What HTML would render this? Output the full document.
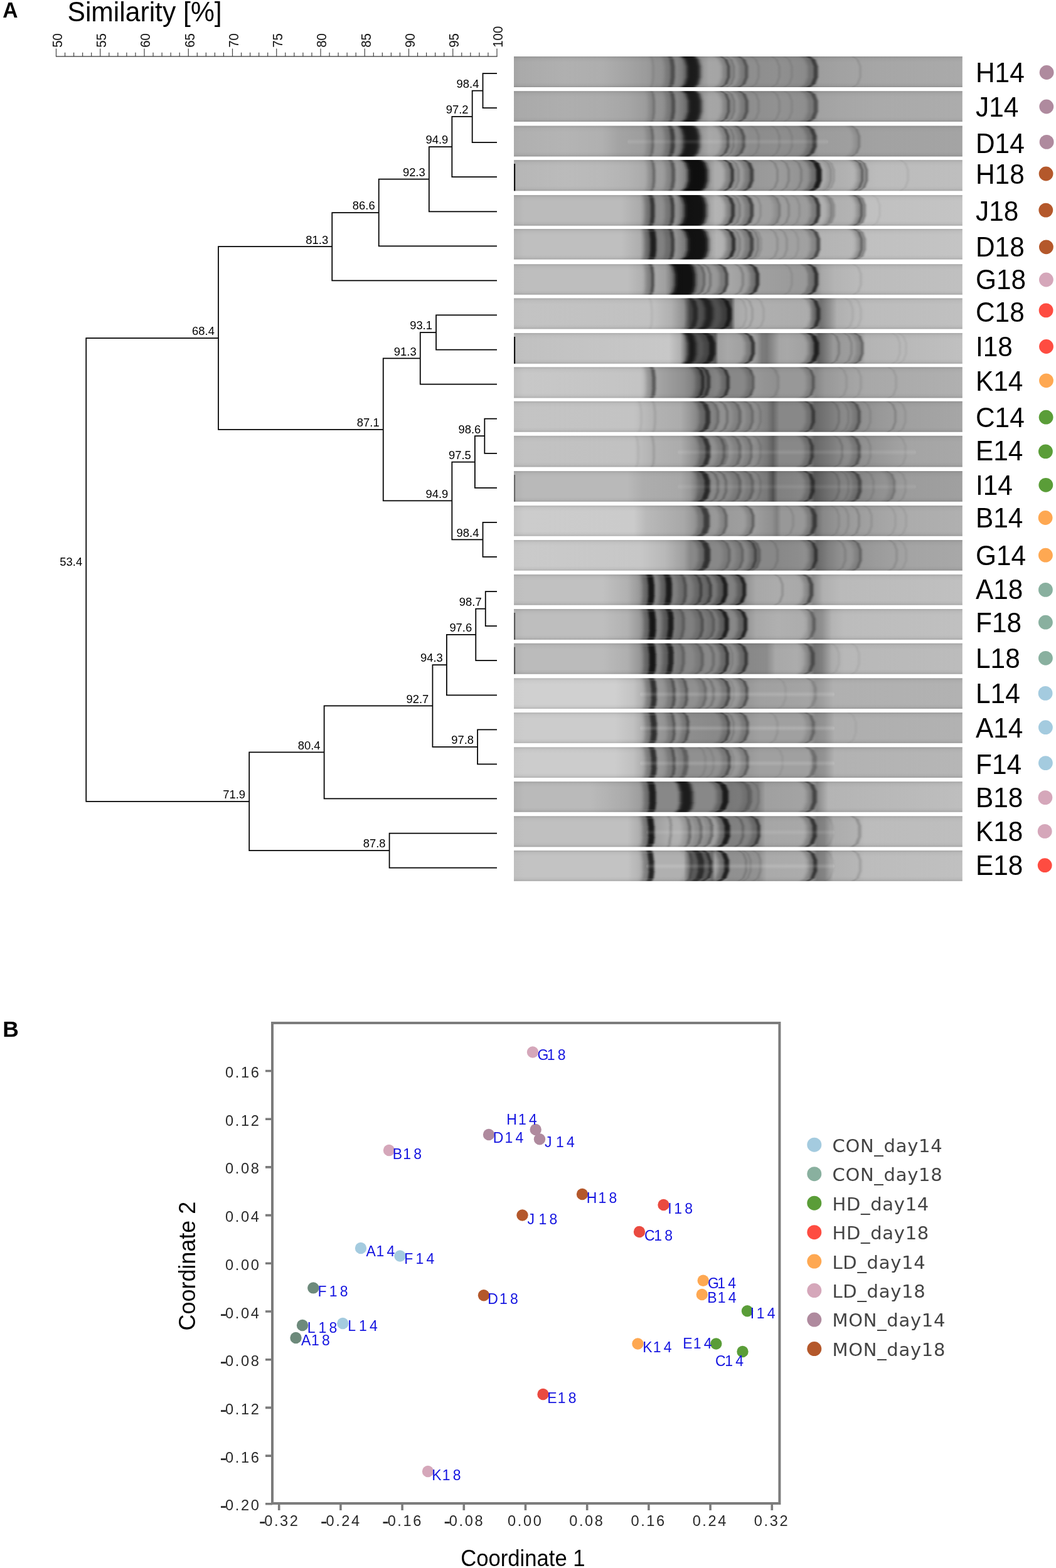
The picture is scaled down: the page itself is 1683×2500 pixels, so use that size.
<!DOCTYPE html>
<html lang="en">
<head>
<meta charset="utf-8">
<title>Figure: DGGE similarity dendrogram and MDS plot</title>
<style>
html,body{margin:0;padding:0;background:#fff;}
body{width:1683px;height:2500px;overflow:hidden;}
svg{display:block;font-family:"Liberation Sans",sans-serif;}
text{white-space:pre;}
</style>
</head>
<body>
<svg width="1683" height="2500" viewBox="0 0 1683 2500">
<rect width="1683" height="2500" fill="#fff"/>
<!-- Panel A -->
<text transform="translate(4.20 28.00) scale(1 1.042)" font-size="34" font-weight="bold" textLength="24.3" lengthAdjust="spacingAndGlyphs">A</text>
<text transform="translate(107.50 34.30) scale(1 1.042)" font-size="42.6">Similarity [%]</text>
<g id="axis">
<path d="M88.90 89.9H792.60" stroke="#555" stroke-width="1.5" fill="none"/>
<path d="M89.50 77.5V90M103.55 83.8V90M117.60 83.8V90M131.65 83.8V90M145.70 83.8V90M159.75 77.5V90M173.80 83.8V90M187.85 83.8V90M201.90 83.8V90M215.95 83.8V90M230.00 77.5V90M244.05 83.8V90M258.10 83.8V90M272.15 83.8V90M286.20 83.8V90M300.25 77.5V90M314.30 83.8V90M328.35 83.8V90M342.40 83.8V90M356.45 83.8V90M370.50 77.5V90M384.55 83.8V90M398.60 83.8V90M412.65 83.8V90M426.70 83.8V90M440.75 77.5V90M454.80 83.8V90M468.85 83.8V90M482.90 83.8V90M496.95 83.8V90M511.00 77.5V90M525.05 83.8V90M539.10 83.8V90M553.15 83.8V90M567.20 83.8V90M581.25 77.5V90M595.30 83.8V90M609.35 83.8V90M623.40 83.8V90M637.45 83.8V90M651.50 77.5V90M665.55 83.8V90M679.60 83.8V90M693.65 83.8V90M707.70 83.8V90M721.75 77.5V90M735.80 83.8V90M749.85 83.8V90M763.90 83.8V90M777.95 83.8V90M792.00 77.5V90" stroke="#444" stroke-width="1.2" fill="none"/>
<text transform="translate(98.80 75.80) rotate(-90) scale(1 1.042)" font-size="20.4" fill="#111">50</text>
<text transform="translate(169.05 75.80) rotate(-90) scale(1 1.042)" font-size="20.4" fill="#111">55</text>
<text transform="translate(239.30 75.80) rotate(-90) scale(1 1.042)" font-size="20.4" fill="#111">60</text>
<text transform="translate(309.55 75.80) rotate(-90) scale(1 1.042)" font-size="20.4" fill="#111">65</text>
<text transform="translate(379.80 75.80) rotate(-90) scale(1 1.042)" font-size="20.4" fill="#111">70</text>
<text transform="translate(450.05 75.80) rotate(-90) scale(1 1.042)" font-size="20.4" fill="#111">75</text>
<text transform="translate(520.30 75.80) rotate(-90) scale(1 1.042)" font-size="20.4" fill="#111">80</text>
<text transform="translate(590.55 75.80) rotate(-90) scale(1 1.042)" font-size="20.4" fill="#111">85</text>
<text transform="translate(660.80 75.80) rotate(-90) scale(1 1.042)" font-size="20.4" fill="#111">90</text>
<text transform="translate(731.05 75.80) rotate(-90) scale(1 1.042)" font-size="20.4" fill="#111">95</text>
<text transform="translate(801.30 75.80) rotate(-90) scale(1 1.042)" font-size="20.4" fill="#111">100</text>
</g>
<g id="dendrogram">
<path d="M792.00 117.00H769.52V172.07H792.00M769.52 144.53H752.66V227.14H792.00M752.66 185.84H720.35V282.21H792.00M720.35 234.02H683.81V337.28H792.00M683.81 285.65H603.73V392.35H792.00M603.73 339.00H529.26V447.42H792.00M792.00 502.49H695.05V557.56H792.00M695.05 530.02H669.76V612.63H792.00M792.00 667.70H772.33V722.77H792.00M772.33 695.24H756.88V777.84H792.00M792.00 832.91H769.52V887.98H792.00M756.88 736.54H720.35V860.44H769.52M669.76 571.33H610.75V798.49H720.35M529.26 393.21H348.02V684.91H610.75M792.00 943.05H773.74V998.12H792.00M773.74 970.59H758.28V1053.19H792.00M758.28 1011.89H711.91V1108.26H792.00M792.00 1163.33H761.09V1218.40H792.00M711.91 1060.07H689.44V1190.87H761.09M689.44 1125.47H516.62V1273.47H792.00M792.00 1328.54H620.59V1383.61H792.00M516.62 1199.47H397.20V1356.07H620.59M348.02 539.06H137.27V1277.77H397.20" stroke="#000" stroke-width="1.75" fill="none" stroke-linejoin="miter"/>
<text transform="translate(763.42 139.94) scale(1 1.042)" font-size="18.4" text-anchor="end">98.4</text>
<text transform="translate(746.56 181.24) scale(1 1.042)" font-size="18.4" text-anchor="end">97.2</text>
<text transform="translate(714.25 229.42) scale(1 1.042)" font-size="18.4" text-anchor="end">94.9</text>
<text transform="translate(677.71 281.05) scale(1 1.042)" font-size="18.4" text-anchor="end">92.3</text>
<text transform="translate(597.63 334.40) scale(1 1.042)" font-size="18.4" text-anchor="end">86.6</text>
<text transform="translate(523.16 388.61) scale(1 1.042)" font-size="18.4" text-anchor="end">81.3</text>
<text transform="translate(688.95 525.42) scale(1 1.042)" font-size="18.4" text-anchor="end">93.1</text>
<text transform="translate(663.66 566.73) scale(1 1.042)" font-size="18.4" text-anchor="end">91.3</text>
<text transform="translate(766.23 690.63) scale(1 1.042)" font-size="18.4" text-anchor="end">98.6</text>
<text transform="translate(750.77 731.94) scale(1 1.042)" font-size="18.4" text-anchor="end">97.5</text>
<text transform="translate(763.42 855.84) scale(1 1.042)" font-size="18.4" text-anchor="end">98.4</text>
<text transform="translate(714.25 793.89) scale(1 1.042)" font-size="18.4" text-anchor="end">94.9</text>
<text transform="translate(604.65 680.31) scale(1 1.042)" font-size="18.4" text-anchor="end">87.1</text>
<text transform="translate(341.92 534.46) scale(1 1.042)" font-size="18.4" text-anchor="end">68.4</text>
<text transform="translate(767.64 965.99) scale(1 1.042)" font-size="18.4" text-anchor="end">98.7</text>
<text transform="translate(752.18 1007.29) scale(1 1.042)" font-size="18.4" text-anchor="end">97.6</text>
<text transform="translate(705.81 1055.47) scale(1 1.042)" font-size="18.4" text-anchor="end">94.3</text>
<text transform="translate(754.99 1186.27) scale(1 1.042)" font-size="18.4" text-anchor="end">97.8</text>
<text transform="translate(683.34 1120.87) scale(1 1.042)" font-size="18.4" text-anchor="end">92.7</text>
<text transform="translate(510.52 1194.87) scale(1 1.042)" font-size="18.4" text-anchor="end">80.4</text>
<text transform="translate(614.49 1351.47) scale(1 1.042)" font-size="18.4" text-anchor="end">87.8</text>
<text transform="translate(391.10 1273.17) scale(1 1.042)" font-size="18.4" text-anchor="end">71.9</text>
<text transform="translate(131.17 902.42) scale(1 1.042)" font-size="18.4" text-anchor="end">53.4</text>
</g>
<g id="gel">
<defs>
<linearGradient id="hs" x1="0" y1="0" x2="0" y2="1"><stop offset="0" stop-color="#fff" stop-opacity="0"/><stop offset=".5" stop-color="#fff" stop-opacity="1"/><stop offset="1" stop-color="#fff" stop-opacity="0"/></linearGradient>
<linearGradient id="vs" x1="0" y1="0" x2="0" y2="1"><stop offset="0" stop-color="#000" stop-opacity=".12"/><stop offset=".08" stop-color="#000" stop-opacity=".03"/><stop offset=".2" stop-color="#000" stop-opacity="0"/><stop offset=".85" stop-color="#000" stop-opacity="0"/><stop offset=".94" stop-color="#000" stop-opacity=".04"/><stop offset="1" stop-color="#000" stop-opacity=".14"/></linearGradient>
<linearGradient id="g0" gradientUnits="userSpaceOnUse" x1="819.0" y1="0" x2="1533.8" y2="0"><stop offset="0.0000" stop-color="#a4a4a4"/><stop offset="0.0154" stop-color="#aaaaaa"/><stop offset="0.1133" stop-color="#b0b0b0"/><stop offset="0.1973" stop-color="#aeaeae"/><stop offset="0.2532" stop-color="#a4a4a4"/><stop offset="0.2952" stop-color="#9b9b9b"/><stop offset="0.3162" stop-color="#929292"/><stop offset="0.3442" stop-color="#8e8e8e"/><stop offset="0.3651" stop-color="#868686"/><stop offset="0.3791" stop-color="#767676"/><stop offset="0.4183" stop-color="#969696"/><stop offset="0.4351" stop-color="#a6a6a6"/><stop offset="0.4631" stop-color="#a4a4a4"/><stop offset="0.4841" stop-color="#969696"/><stop offset="0.5260" stop-color="#8e8e8e"/><stop offset="0.5890" stop-color="#909090"/><stop offset="0.6589" stop-color="#8a8a8a"/><stop offset="0.6799" stop-color="#9e9e9e"/><stop offset="0.7289" stop-color="#a2a2a2"/><stop offset="0.8128" stop-color="#a6a6a6"/><stop offset="0.9989" stop-color="#aaaaaa"/></linearGradient>
<rect id="r0_0" x="-.5" y="90" width="1" height="5"/>
<rect id="r0_1" x="-.5" y="95" width="1" height="11"/>
<rect id="r0_2" x="-.5" y="106" width="1" height="17"/>
<rect id="r0_3" x="-.5" y="123" width="1" height="11"/>
<rect id="r0_4" x="-.5" y="134" width="1" height="5"/>
<linearGradient id="g1" gradientUnits="userSpaceOnUse" x1="819.0" y1="0" x2="1533.8" y2="0"><stop offset="0.0000" stop-color="#a6a6a6"/><stop offset="0.0154" stop-color="#aaaaaa"/><stop offset="0.1133" stop-color="#aeaeae"/><stop offset="0.1973" stop-color="#acacac"/><stop offset="0.2532" stop-color="#a6a6a6"/><stop offset="0.2952" stop-color="#9c9c9c"/><stop offset="0.3162" stop-color="#949494"/><stop offset="0.3442" stop-color="#8e8e8e"/><stop offset="0.3651" stop-color="#868686"/><stop offset="0.3791" stop-color="#767676"/><stop offset="0.4183" stop-color="#969696"/><stop offset="0.4351" stop-color="#a6a6a6"/><stop offset="0.4631" stop-color="#a4a4a4"/><stop offset="0.4841" stop-color="#969696"/><stop offset="0.5260" stop-color="#8e8e8e"/><stop offset="0.5890" stop-color="#929292"/><stop offset="0.6589" stop-color="#8e8e8e"/><stop offset="0.6799" stop-color="#a2a2a2"/><stop offset="0.7289" stop-color="#a6a6a6"/><stop offset="0.8128" stop-color="#aaaaaa"/><stop offset="0.9989" stop-color="#acacac"/></linearGradient>
<rect id="r1_0" x="-.5" y="145.2" width="1" height="4.8"/>
<rect id="r1_1" x="-.5" y="150" width="1" height="11"/>
<rect id="r1_2" x="-.5" y="161" width="1" height="17"/>
<rect id="r1_3" x="-.5" y="178" width="1" height="11"/>
<rect id="r1_4" x="-.5" y="189" width="1" height="5"/>
<linearGradient id="g2" gradientUnits="userSpaceOnUse" x1="819.0" y1="0" x2="1533.8" y2="0"><stop offset="0.0000" stop-color="#acacac"/><stop offset="0.0154" stop-color="#b0b0b0"/><stop offset="0.1133" stop-color="#b4b4b4"/><stop offset="0.1973" stop-color="#b0b0b0"/><stop offset="0.2322" stop-color="#a4a4a4"/><stop offset="0.2952" stop-color="#9c9c9c"/><stop offset="0.3162" stop-color="#949494"/><stop offset="0.3442" stop-color="#8c8c8c"/><stop offset="0.3651" stop-color="#808080"/><stop offset="0.3791" stop-color="#707070"/><stop offset="0.4183" stop-color="#989898"/><stop offset="0.4351" stop-color="#a8a8a8"/><stop offset="0.4631" stop-color="#a4a4a4"/><stop offset="0.4841" stop-color="#989898"/><stop offset="0.5260" stop-color="#8c8c8c"/><stop offset="0.5890" stop-color="#8e8e8e"/><stop offset="0.6589" stop-color="#8a8a8a"/><stop offset="0.6799" stop-color="#9c9c9c"/><stop offset="0.7289" stop-color="#9e9e9e"/><stop offset="0.8128" stop-color="#a2a2a2"/><stop offset="0.9989" stop-color="#a4a4a4"/></linearGradient>
<rect id="r2_0" x="-.5" y="200.6" width="1" height="5.4"/>
<rect id="r2_1" x="-.5" y="206" width="1" height="11"/>
<rect id="r2_2" x="-.5" y="217" width="1" height="17"/>
<rect id="r2_3" x="-.5" y="234" width="1" height="10"/>
<rect id="r2_4" x="-.5" y="244" width="1" height="5.5"/>
<linearGradient id="g3" gradientUnits="userSpaceOnUse" x1="819.0" y1="0" x2="1533.8" y2="0"><stop offset="0.0000" stop-color="#b3b3b3"/><stop offset="0.0154" stop-color="#b7b7b7"/><stop offset="0.1133" stop-color="#bbbbbb"/><stop offset="0.1973" stop-color="#b9b9b9"/><stop offset="0.2532" stop-color="#b3b3b3"/><stop offset="0.2952" stop-color="#aaaaaa"/><stop offset="0.3162" stop-color="#9f9f9f"/><stop offset="0.3442" stop-color="#9c9c9c"/><stop offset="0.3651" stop-color="#989898"/><stop offset="0.3791" stop-color="#888888"/><stop offset="0.4351" stop-color="#989898"/><stop offset="0.4491" stop-color="#acacac"/><stop offset="0.4771" stop-color="#acacac"/><stop offset="0.4910" stop-color="#a0a0a0"/><stop offset="0.5260" stop-color="#989898"/><stop offset="0.5890" stop-color="#9c9c9c"/><stop offset="0.6589" stop-color="#909090"/><stop offset="0.6869" stop-color="#acacac"/><stop offset="0.7289" stop-color="#b0b0b0"/><stop offset="0.8128" stop-color="#bcbcbc"/><stop offset="0.9989" stop-color="#bebebe"/></linearGradient>
<rect id="r3_0" x="-.5" y="255.1" width="1" height="4.9"/>
<rect id="r3_1" x="-.5" y="260" width="1" height="11"/>
<rect id="r3_2" x="-.5" y="271" width="1" height="17"/>
<rect id="r3_3" x="-.5" y="288" width="1" height="11"/>
<rect id="r3_4" x="-.5" y="299" width="1" height="5.3"/>
<linearGradient id="g4" gradientUnits="userSpaceOnUse" x1="819.0" y1="0" x2="1533.8" y2="0"><stop offset="0.0000" stop-color="#b3b3b3"/><stop offset="0.0224" stop-color="#bbbbbb"/><stop offset="0.2392" stop-color="#bbbbbb"/><stop offset="0.2812" stop-color="#ababab"/><stop offset="0.2980" stop-color="#939393"/><stop offset="0.3162" stop-color="#8f8f8f"/><stop offset="0.3400" stop-color="#909090"/><stop offset="0.3581" stop-color="#989898"/><stop offset="0.3721" stop-color="#808080"/><stop offset="0.4323" stop-color="#a0a0a0"/><stop offset="0.4491" stop-color="#b4b4b4"/><stop offset="0.4743" stop-color="#b0b0b0"/><stop offset="0.4938" stop-color="#a0a0a0"/><stop offset="0.5190" stop-color="#9c9c9c"/><stop offset="0.5330" stop-color="#a0a0a0"/><stop offset="0.6589" stop-color="#9c9c9c"/><stop offset="0.6841" stop-color="#b0b0b0"/><stop offset="0.7149" stop-color="#b0b0b0"/><stop offset="0.7639" stop-color="#b4b4b4"/><stop offset="0.7848" stop-color="#c0c0c0"/><stop offset="0.9989" stop-color="#c4c4c4"/></linearGradient>
<rect id="r4_0" x="-.5" y="311" width="1" height="5"/>
<rect id="r4_1" x="-.5" y="316" width="1" height="11"/>
<rect id="r4_2" x="-.5" y="327" width="1" height="17"/>
<rect id="r4_3" x="-.5" y="344" width="1" height="11"/>
<rect id="r4_4" x="-.5" y="355" width="1" height="4.8"/>
<linearGradient id="g5" gradientUnits="userSpaceOnUse" x1="819.0" y1="0" x2="1533.8" y2="0"><stop offset="0.0000" stop-color="#b7b7b7"/><stop offset="0.0224" stop-color="#bfbfbf"/><stop offset="0.2392" stop-color="#bfbfbf"/><stop offset="0.2812" stop-color="#aeaeae"/><stop offset="0.2980" stop-color="#8c8c8c"/><stop offset="0.3162" stop-color="#7f7f7f"/><stop offset="0.3400" stop-color="#848484"/><stop offset="0.3581" stop-color="#989898"/><stop offset="0.3763" stop-color="#808080"/><stop offset="0.4351" stop-color="#a0a0a0"/><stop offset="0.4519" stop-color="#b4b4b4"/><stop offset="0.4743" stop-color="#b0b0b0"/><stop offset="0.4938" stop-color="#a0a0a0"/><stop offset="0.5190" stop-color="#9c9c9c"/><stop offset="0.5330" stop-color="#a4a4a4"/><stop offset="0.6589" stop-color="#a0a0a0"/><stop offset="0.6841" stop-color="#b4b4b4"/><stop offset="0.7639" stop-color="#b8b8b8"/><stop offset="0.7848" stop-color="#c0c0c0"/><stop offset="0.9989" stop-color="#c4c4c4"/></linearGradient>
<rect id="r5_0" x="-.5" y="365" width="1" height="5"/>
<rect id="r5_1" x="-.5" y="370" width="1" height="11"/>
<rect id="r5_2" x="-.5" y="381" width="1" height="17"/>
<rect id="r5_3" x="-.5" y="398" width="1" height="11"/>
<rect id="r5_4" x="-.5" y="409" width="1" height="4.6"/>
<linearGradient id="g6" gradientUnits="userSpaceOnUse" x1="819.0" y1="0" x2="1533.8" y2="0"><stop offset="0.0000" stop-color="#bababa"/><stop offset="0.0224" stop-color="#bebebe"/><stop offset="0.2532" stop-color="#bebebe"/><stop offset="0.2882" stop-color="#afafaf"/><stop offset="0.3008" stop-color="#9f9f9f"/><stop offset="0.3162" stop-color="#a8a8a8"/><stop offset="0.3372" stop-color="#a0a0a0"/><stop offset="0.3511" stop-color="#808080"/><stop offset="0.4071" stop-color="#909090"/><stop offset="0.4281" stop-color="#989898"/><stop offset="0.4631" stop-color="#989898"/><stop offset="0.4771" stop-color="#a8a8a8"/><stop offset="0.5050" stop-color="#a0a0a0"/><stop offset="0.5330" stop-color="#989898"/><stop offset="0.5470" stop-color="#a0a0a0"/><stop offset="0.6589" stop-color="#989898"/><stop offset="0.6729" stop-color="#909090"/><stop offset="0.6869" stop-color="#a8a8a8"/><stop offset="0.7149" stop-color="#b4b4b4"/><stop offset="0.7848" stop-color="#bcbcbc"/><stop offset="0.9989" stop-color="#c0c0c0"/></linearGradient>
<rect id="r6_0" x="-.5" y="421.2" width="1" height="4.8"/>
<rect id="r6_1" x="-.5" y="426" width="1" height="11"/>
<rect id="r6_2" x="-.5" y="437" width="1" height="17"/>
<rect id="r6_3" x="-.5" y="454" width="1" height="11"/>
<rect id="r6_4" x="-.5" y="465" width="1" height="4.8"/>
<linearGradient id="g7" gradientUnits="userSpaceOnUse" x1="819.0" y1="0" x2="1533.8" y2="0"><stop offset="0.0000" stop-color="#bfbfbf"/><stop offset="0.0224" stop-color="#c3c3c3"/><stop offset="0.3092" stop-color="#c1c1c1"/><stop offset="0.3511" stop-color="#b0b0b0"/><stop offset="0.3791" stop-color="#909090"/><stop offset="0.3931" stop-color="#505050"/><stop offset="0.4841" stop-color="#505050"/><stop offset="0.4938" stop-color="#a8a8a8"/><stop offset="0.5190" stop-color="#b0b0b0"/><stop offset="0.6589" stop-color="#acacac"/><stop offset="0.6729" stop-color="#808080"/><stop offset="0.6841" stop-color="#707070"/><stop offset="0.7037" stop-color="#909090"/><stop offset="0.7205" stop-color="#b0b0b0"/><stop offset="0.7848" stop-color="#bcbcbc"/><stop offset="0.9989" stop-color="#c0c0c0"/></linearGradient>
<rect id="r7_0" x="-.5" y="475.5" width="1" height="4.5"/>
<rect id="r7_1" x="-.5" y="480" width="1" height="12"/>
<rect id="r7_2" x="-.5" y="492" width="1" height="16"/>
<rect id="r7_3" x="-.5" y="508" width="1" height="12"/>
<rect id="r7_4" x="-.5" y="520" width="1" height="4.5"/>
<linearGradient id="g8" gradientUnits="userSpaceOnUse" x1="819.0" y1="0" x2="1533.8" y2="0"><stop offset="0.0000" stop-color="#bdbdbd"/><stop offset="0.0224" stop-color="#c1c1c1"/><stop offset="0.3456" stop-color="#c8c8c8"/><stop offset="0.3707" stop-color="#b0b0b0"/><stop offset="0.3847" stop-color="#707070"/><stop offset="0.3959" stop-color="#505050"/><stop offset="0.4211" stop-color="#585858"/><stop offset="0.4491" stop-color="#606060"/><stop offset="0.4561" stop-color="#a0a0a0"/><stop offset="0.4771" stop-color="#a8a8a8"/><stop offset="0.5120" stop-color="#a0a0a0"/><stop offset="0.5330" stop-color="#a4a4a4"/><stop offset="0.5414" stop-color="#989898"/><stop offset="0.5526" stop-color="#7c7c7c"/><stop offset="0.5638" stop-color="#787878"/><stop offset="0.5764" stop-color="#8c8c8c"/><stop offset="0.5918" stop-color="#a6a6a6"/><stop offset="0.6100" stop-color="#a8a8a8"/><stop offset="0.6589" stop-color="#a0a0a0"/><stop offset="0.6799" stop-color="#606060"/><stop offset="0.6939" stop-color="#787878"/><stop offset="0.7121" stop-color="#989898"/><stop offset="0.7708" stop-color="#a0a0a0"/><stop offset="0.7848" stop-color="#b4b4b4"/><stop offset="0.9989" stop-color="#c0c0c0"/></linearGradient>
<rect id="r8_0" x="-.5" y="531" width="1" height="5"/>
<rect id="r8_1" x="-.5" y="536" width="1" height="11"/>
<rect id="r8_2" x="-.5" y="547" width="1" height="17"/>
<rect id="r8_3" x="-.5" y="564" width="1" height="11"/>
<rect id="r8_4" x="-.5" y="575" width="1" height="4.8"/>
<linearGradient id="g9" gradientUnits="userSpaceOnUse" x1="819.0" y1="0" x2="1533.8" y2="0"><stop offset="0.0000" stop-color="#c0c0c0"/><stop offset="0.0224" stop-color="#c8c8c8"/><stop offset="0.2812" stop-color="#c4c4c4"/><stop offset="0.2980" stop-color="#b5b5b5"/><stop offset="0.3232" stop-color="#a4a4a4"/><stop offset="0.3791" stop-color="#909090"/><stop offset="0.4099" stop-color="#787878"/><stop offset="0.4421" stop-color="#808080"/><stop offset="0.4631" stop-color="#888888"/><stop offset="0.4841" stop-color="#888888"/><stop offset="0.5260" stop-color="#888888"/><stop offset="0.5330" stop-color="#989898"/><stop offset="0.5820" stop-color="#909090"/><stop offset="0.5960" stop-color="#989898"/><stop offset="0.6589" stop-color="#989898"/><stop offset="0.6729" stop-color="#888888"/><stop offset="0.6939" stop-color="#989898"/><stop offset="0.7289" stop-color="#a0a0a0"/><stop offset="0.7848" stop-color="#a8a8a8"/><stop offset="0.9989" stop-color="#b0b0b0"/></linearGradient>
<rect id="r9_0" x="-.5" y="585.3" width="1" height="4.7"/>
<rect id="r9_1" x="-.5" y="590" width="1" height="11"/>
<rect id="r9_2" x="-.5" y="601" width="1" height="17"/>
<rect id="r9_3" x="-.5" y="618" width="1" height="12"/>
<rect id="r9_4" x="-.5" y="630" width="1" height="4.5"/>
<linearGradient id="g10" gradientUnits="userSpaceOnUse" x1="819.0" y1="0" x2="1533.8" y2="0"><stop offset="0.0000" stop-color="#c0c0c0"/><stop offset="0.0224" stop-color="#c4c4c4"/><stop offset="0.2672" stop-color="#c3c3c3"/><stop offset="0.3092" stop-color="#b3b3b3"/><stop offset="0.3721" stop-color="#acacac"/><stop offset="0.3931" stop-color="#989898"/><stop offset="0.4141" stop-color="#808080"/><stop offset="0.4421" stop-color="#909090"/><stop offset="0.5330" stop-color="#909090"/><stop offset="0.5638" stop-color="#808080"/><stop offset="0.5778" stop-color="#686868"/><stop offset="0.5918" stop-color="#888888"/><stop offset="0.6589" stop-color="#888888"/><stop offset="0.6701" stop-color="#686868"/><stop offset="0.7009" stop-color="#787878"/><stop offset="0.7289" stop-color="#888888"/><stop offset="0.7778" stop-color="#909090"/><stop offset="0.8128" stop-color="#989898"/><stop offset="0.8758" stop-color="#a0a0a0"/><stop offset="0.9989" stop-color="#a6a6a6"/></linearGradient>
<rect id="r10_0" x="-.5" y="639.8" width="1" height="5.2"/>
<rect id="r10_1" x="-.5" y="645" width="1" height="11"/>
<rect id="r10_2" x="-.5" y="656" width="1" height="17"/>
<rect id="r10_3" x="-.5" y="673" width="1" height="11"/>
<rect id="r10_4" x="-.5" y="684" width="1" height="4.7"/>
<linearGradient id="g11" gradientUnits="userSpaceOnUse" x1="819.0" y1="0" x2="1533.8" y2="0"><stop offset="0.0000" stop-color="#bebebe"/><stop offset="0.0224" stop-color="#c2c2c2"/><stop offset="0.2672" stop-color="#c1c1c1"/><stop offset="0.3092" stop-color="#b2b2b2"/><stop offset="0.3721" stop-color="#acacac"/><stop offset="0.3931" stop-color="#989898"/><stop offset="0.4141" stop-color="#808080"/><stop offset="0.4421" stop-color="#909090"/><stop offset="0.5330" stop-color="#909090"/><stop offset="0.5638" stop-color="#787878"/><stop offset="0.5778" stop-color="#606060"/><stop offset="0.5918" stop-color="#888888"/><stop offset="0.6561" stop-color="#888888"/><stop offset="0.6701" stop-color="#686868"/><stop offset="0.7009" stop-color="#787878"/><stop offset="0.7289" stop-color="#888888"/><stop offset="0.7778" stop-color="#909090"/><stop offset="0.8128" stop-color="#989898"/><stop offset="0.8758" stop-color="#a4a4a4"/><stop offset="0.9989" stop-color="#a8a8a8"/></linearGradient>
<rect id="r11_0" x="-.5" y="694.8" width="1" height="5.2"/>
<rect id="r11_1" x="-.5" y="700" width="1" height="11"/>
<rect id="r11_2" x="-.5" y="711" width="1" height="17"/>
<rect id="r11_3" x="-.5" y="728" width="1" height="12"/>
<rect id="r11_4" x="-.5" y="740" width="1" height="4.5"/>
<linearGradient id="g12" gradientUnits="userSpaceOnUse" x1="819.0" y1="0" x2="1533.8" y2="0"><stop offset="0.0000" stop-color="#b1b1b1"/><stop offset="0.0224" stop-color="#b9b9b9"/><stop offset="0.2532" stop-color="#b9b9b9"/><stop offset="0.2882" stop-color="#adadad"/><stop offset="0.3721" stop-color="#a8a8a8"/><stop offset="0.3931" stop-color="#989898"/><stop offset="0.4099" stop-color="#787878"/><stop offset="0.4421" stop-color="#888888"/><stop offset="0.5330" stop-color="#888888"/><stop offset="0.5638" stop-color="#787878"/><stop offset="0.5778" stop-color="#505050"/><stop offset="0.5890" stop-color="#808080"/><stop offset="0.6561" stop-color="#888888"/><stop offset="0.6701" stop-color="#585858"/><stop offset="0.7009" stop-color="#707070"/><stop offset="0.7289" stop-color="#808080"/><stop offset="0.7778" stop-color="#888888"/><stop offset="0.8128" stop-color="#909090"/><stop offset="0.8758" stop-color="#9c9c9c"/><stop offset="0.9989" stop-color="#a0a0a0"/></linearGradient>
<rect id="r12_0" x="-.5" y="751.1" width="1" height="4.9"/>
<rect id="r12_1" x="-.5" y="756" width="1" height="11"/>
<rect id="r12_2" x="-.5" y="767" width="1" height="17"/>
<rect id="r12_3" x="-.5" y="784" width="1" height="11"/>
<rect id="r12_4" x="-.5" y="795" width="1" height="4.8"/>
<linearGradient id="g13" gradientUnits="userSpaceOnUse" x1="819.0" y1="0" x2="1533.8" y2="0"><stop offset="0.0000" stop-color="#c4c4c4"/><stop offset="0.0224" stop-color="#cccccc"/><stop offset="0.2672" stop-color="#cbcbcb"/><stop offset="0.2952" stop-color="#b9b9b9"/><stop offset="0.3791" stop-color="#a8a8a8"/><stop offset="0.4099" stop-color="#909090"/><stop offset="0.4421" stop-color="#989898"/><stop offset="0.5330" stop-color="#a0a0a0"/><stop offset="0.5750" stop-color="#909090"/><stop offset="0.5862" stop-color="#808080"/><stop offset="0.5960" stop-color="#989898"/><stop offset="0.6589" stop-color="#989898"/><stop offset="0.6729" stop-color="#707070"/><stop offset="0.6897" stop-color="#888888"/><stop offset="0.7289" stop-color="#989898"/><stop offset="0.8128" stop-color="#a4a4a4"/><stop offset="0.8828" stop-color="#acacac"/><stop offset="0.9989" stop-color="#b0b0b0"/></linearGradient>
<rect id="r13_0" x="-.5" y="806.1" width="1" height="4.9"/>
<rect id="r13_1" x="-.5" y="811" width="1" height="11"/>
<rect id="r13_2" x="-.5" y="822" width="1" height="17"/>
<rect id="r13_3" x="-.5" y="839" width="1" height="11"/>
<rect id="r13_4" x="-.5" y="850" width="1" height="4.7"/>
<linearGradient id="g14" gradientUnits="userSpaceOnUse" x1="819.0" y1="0" x2="1533.8" y2="0"><stop offset="0.0000" stop-color="#c6c6c6"/><stop offset="0.0224" stop-color="#cacaca"/><stop offset="0.2812" stop-color="#c7c7c7"/><stop offset="0.3372" stop-color="#b8b8b8"/><stop offset="0.3791" stop-color="#a0a0a0"/><stop offset="0.3931" stop-color="#888888"/><stop offset="0.4421" stop-color="#888888"/><stop offset="0.5330" stop-color="#888888"/><stop offset="0.5890" stop-color="#888888"/><stop offset="0.6589" stop-color="#909090"/><stop offset="0.6757" stop-color="#686868"/><stop offset="0.7009" stop-color="#808080"/><stop offset="0.7289" stop-color="#909090"/><stop offset="0.8128" stop-color="#9c9c9c"/><stop offset="0.8828" stop-color="#a4a4a4"/><stop offset="0.9989" stop-color="#a8a8a8"/></linearGradient>
<rect id="r14_0" x="-.5" y="861" width="1" height="5"/>
<rect id="r14_1" x="-.5" y="866" width="1" height="11"/>
<rect id="r14_2" x="-.5" y="877" width="1" height="17"/>
<rect id="r14_3" x="-.5" y="894" width="1" height="11"/>
<rect id="r14_4" x="-.5" y="905" width="1" height="4.7"/>
<linearGradient id="g15" gradientUnits="userSpaceOnUse" x1="819.0" y1="0" x2="1533.8" y2="0"><stop offset="0.0000" stop-color="#bdbdbd"/><stop offset="0.0224" stop-color="#c1c1c1"/><stop offset="0.1973" stop-color="#c1c1c1"/><stop offset="0.2532" stop-color="#b1b1b1"/><stop offset="0.2882" stop-color="#919191"/><stop offset="0.3162" stop-color="#888888"/><stop offset="0.3372" stop-color="#808080"/><stop offset="0.3581" stop-color="#808080"/><stop offset="0.4631" stop-color="#787878"/><stop offset="0.4771" stop-color="#808080"/><stop offset="0.5050" stop-color="#808080"/><stop offset="0.5218" stop-color="#989898"/><stop offset="0.5400" stop-color="#a8a8a8"/><stop offset="0.5890" stop-color="#acacac"/><stop offset="0.6519" stop-color="#a8a8a8"/><stop offset="0.6673" stop-color="#909090"/><stop offset="0.6897" stop-color="#b0b0b0"/><stop offset="0.7289" stop-color="#bababa"/><stop offset="0.9989" stop-color="#c0c0c0"/></linearGradient>
<rect id="r15_0" x="-.5" y="915.9" width="1" height="5.1"/>
<rect id="r15_1" x="-.5" y="921" width="1" height="11"/>
<rect id="r15_2" x="-.5" y="932" width="1" height="17"/>
<rect id="r15_3" x="-.5" y="949" width="1" height="11"/>
<rect id="r15_4" x="-.5" y="960" width="1" height="4.7"/>
<linearGradient id="g16" gradientUnits="userSpaceOnUse" x1="819.0" y1="0" x2="1533.8" y2="0"><stop offset="0.0000" stop-color="#b6b6b6"/><stop offset="0.0224" stop-color="#bebebe"/><stop offset="0.1973" stop-color="#bebebe"/><stop offset="0.2532" stop-color="#b2b2b2"/><stop offset="0.2924" stop-color="#8f8f8f"/><stop offset="0.3162" stop-color="#888888"/><stop offset="0.3372" stop-color="#787878"/><stop offset="0.3581" stop-color="#808080"/><stop offset="0.4631" stop-color="#808080"/><stop offset="0.4771" stop-color="#888888"/><stop offset="0.5050" stop-color="#888888"/><stop offset="0.5218" stop-color="#989898"/><stop offset="0.5400" stop-color="#a8a8a8"/><stop offset="0.5890" stop-color="#b0b0b0"/><stop offset="0.6533" stop-color="#acacac"/><stop offset="0.6701" stop-color="#888888"/><stop offset="0.6869" stop-color="#909090"/><stop offset="0.7093" stop-color="#b4b4b4"/><stop offset="0.7359" stop-color="#bcbcbc"/><stop offset="0.9989" stop-color="#c0c0c0"/></linearGradient>
<rect id="r16_0" x="-.5" y="971" width="1" height="5"/>
<rect id="r16_1" x="-.5" y="976" width="1" height="11"/>
<rect id="r16_2" x="-.5" y="987" width="1" height="17"/>
<rect id="r16_3" x="-.5" y="1004" width="1" height="11"/>
<rect id="r16_4" x="-.5" y="1015" width="1" height="4.9"/>
<linearGradient id="g17" gradientUnits="userSpaceOnUse" x1="819.0" y1="0" x2="1533.8" y2="0"><stop offset="0.0000" stop-color="#b3b3b3"/><stop offset="0.0224" stop-color="#bbbbbb"/><stop offset="0.1973" stop-color="#bbbbbb"/><stop offset="0.2532" stop-color="#afafaf"/><stop offset="0.2924" stop-color="#8c8c8c"/><stop offset="0.3162" stop-color="#878787"/><stop offset="0.3372" stop-color="#808080"/><stop offset="0.3581" stop-color="#888888"/><stop offset="0.4631" stop-color="#888888"/><stop offset="0.4771" stop-color="#909090"/><stop offset="0.5050" stop-color="#888888"/><stop offset="0.5218" stop-color="#888888"/><stop offset="0.5638" stop-color="#8c8c8c"/><stop offset="0.5834" stop-color="#a8a8a8"/><stop offset="0.6309" stop-color="#acacac"/><stop offset="0.6533" stop-color="#a0a0a0"/><stop offset="0.6701" stop-color="#747474"/><stop offset="0.6869" stop-color="#808080"/><stop offset="0.7093" stop-color="#acacac"/><stop offset="0.7359" stop-color="#b8b8b8"/><stop offset="0.9989" stop-color="#bcbcbc"/></linearGradient>
<rect id="r17_0" x="-.5" y="1025.7" width="1" height="5.3"/>
<rect id="r17_1" x="-.5" y="1031" width="1" height="11"/>
<rect id="r17_2" x="-.5" y="1042" width="1" height="17"/>
<rect id="r17_3" x="-.5" y="1059" width="1" height="11"/>
<rect id="r17_4" x="-.5" y="1070" width="1" height="4.7"/>
<linearGradient id="g18" gradientUnits="userSpaceOnUse" x1="819.0" y1="0" x2="1533.8" y2="0"><stop offset="0.0000" stop-color="#cccccc"/><stop offset="0.0224" stop-color="#d0d0d0"/><stop offset="0.2252" stop-color="#d0d0d0"/><stop offset="0.2672" stop-color="#c3c3c3"/><stop offset="0.2980" stop-color="#a3a3a3"/><stop offset="0.3232" stop-color="#989898"/><stop offset="0.3456" stop-color="#909090"/><stop offset="0.3623" stop-color="#909090"/><stop offset="0.4631" stop-color="#909090"/><stop offset="0.4841" stop-color="#989898"/><stop offset="0.5120" stop-color="#989898"/><stop offset="0.5218" stop-color="#989898"/><stop offset="0.5470" stop-color="#a0a0a0"/><stop offset="0.6561" stop-color="#a4a4a4"/><stop offset="0.6729" stop-color="#989898"/><stop offset="0.6897" stop-color="#a0a0a0"/><stop offset="0.7121" stop-color="#b0b0b0"/><stop offset="0.9989" stop-color="#b2b2b2"/></linearGradient>
<rect id="r18_0" x="-.5" y="1081.3" width="1" height="4.7"/>
<rect id="r18_1" x="-.5" y="1086" width="1" height="11"/>
<rect id="r18_2" x="-.5" y="1097" width="1" height="17"/>
<rect id="r18_3" x="-.5" y="1114" width="1" height="11"/>
<rect id="r18_4" x="-.5" y="1125" width="1" height="5"/>
<linearGradient id="g19" gradientUnits="userSpaceOnUse" x1="819.0" y1="0" x2="1533.8" y2="0"><stop offset="0.0000" stop-color="#c8c8c8"/><stop offset="0.0224" stop-color="#cccccc"/><stop offset="0.2252" stop-color="#cccccc"/><stop offset="0.2672" stop-color="#c0c0c0"/><stop offset="0.2980" stop-color="#a2a2a2"/><stop offset="0.3232" stop-color="#989898"/><stop offset="0.3456" stop-color="#909090"/><stop offset="0.3623" stop-color="#909090"/><stop offset="0.4631" stop-color="#888888"/><stop offset="0.4841" stop-color="#909090"/><stop offset="0.5120" stop-color="#909090"/><stop offset="0.5218" stop-color="#989898"/><stop offset="0.5470" stop-color="#a0a0a0"/><stop offset="0.6561" stop-color="#a0a0a0"/><stop offset="0.6729" stop-color="#8c8c8c"/><stop offset="0.6925" stop-color="#949494"/><stop offset="0.7149" stop-color="#aeaeae"/><stop offset="0.9989" stop-color="#b2b2b2"/></linearGradient>
<rect id="r19_0" x="-.5" y="1136" width="1" height="5"/>
<rect id="r19_1" x="-.5" y="1141" width="1" height="11"/>
<rect id="r19_2" x="-.5" y="1152" width="1" height="17"/>
<rect id="r19_3" x="-.5" y="1169" width="1" height="11"/>
<rect id="r19_4" x="-.5" y="1180" width="1" height="4.8"/>
<linearGradient id="g20" gradientUnits="userSpaceOnUse" x1="819.0" y1="0" x2="1533.8" y2="0"><stop offset="0.0000" stop-color="#c8c8c8"/><stop offset="0.0224" stop-color="#cccccc"/><stop offset="0.2252" stop-color="#cccccc"/><stop offset="0.2672" stop-color="#c0c0c0"/><stop offset="0.2980" stop-color="#a2a2a2"/><stop offset="0.3232" stop-color="#989898"/><stop offset="0.3456" stop-color="#909090"/><stop offset="0.3623" stop-color="#909090"/><stop offset="0.4631" stop-color="#909090"/><stop offset="0.4841" stop-color="#989898"/><stop offset="0.5120" stop-color="#989898"/><stop offset="0.5218" stop-color="#989898"/><stop offset="0.5470" stop-color="#a0a0a0"/><stop offset="0.6561" stop-color="#a0a0a0"/><stop offset="0.6729" stop-color="#8c8c8c"/><stop offset="0.6925" stop-color="#949494"/><stop offset="0.7149" stop-color="#b2b2b2"/><stop offset="0.9989" stop-color="#b6b6b6"/></linearGradient>
<rect id="r20_0" x="-.5" y="1191.3" width="1" height="4.7"/>
<rect id="r20_1" x="-.5" y="1196" width="1" height="11"/>
<rect id="r20_2" x="-.5" y="1207" width="1" height="17"/>
<rect id="r20_3" x="-.5" y="1224" width="1" height="11"/>
<rect id="r20_4" x="-.5" y="1235" width="1" height="5"/>
<linearGradient id="g21" gradientUnits="userSpaceOnUse" x1="819.0" y1="0" x2="1533.8" y2="0"><stop offset="0.0000" stop-color="#b2b2b2"/><stop offset="0.0224" stop-color="#bababa"/><stop offset="0.1693" stop-color="#bababa"/><stop offset="0.2532" stop-color="#aaaaaa"/><stop offset="0.2924" stop-color="#999999"/><stop offset="0.3162" stop-color="#888888"/><stop offset="0.3623" stop-color="#888888"/><stop offset="0.4001" stop-color="#888888"/><stop offset="0.4561" stop-color="#888888"/><stop offset="0.4799" stop-color="#787878"/><stop offset="0.5442" stop-color="#808080"/><stop offset="0.5610" stop-color="#a0a0a0"/><stop offset="0.6561" stop-color="#a4a4a4"/><stop offset="0.6757" stop-color="#888888"/><stop offset="0.7009" stop-color="#b4b4b4"/><stop offset="0.9989" stop-color="#bebebe"/></linearGradient>
<rect id="r21_0" x="-.5" y="1246.1" width="1" height="4.9"/>
<rect id="r21_1" x="-.5" y="1251" width="1" height="11"/>
<rect id="r21_2" x="-.5" y="1262" width="1" height="17"/>
<rect id="r21_3" x="-.5" y="1279" width="1" height="11"/>
<rect id="r21_4" x="-.5" y="1290" width="1" height="4.7"/>
<linearGradient id="g22" gradientUnits="userSpaceOnUse" x1="819.0" y1="0" x2="1533.8" y2="0"><stop offset="0.0000" stop-color="#bcbcbc"/><stop offset="0.0224" stop-color="#c0c0c0"/><stop offset="0.2532" stop-color="#c0c0c0"/><stop offset="0.2882" stop-color="#a8a8a8"/><stop offset="0.3162" stop-color="#a0a0a0"/><stop offset="0.3511" stop-color="#b0b0b0"/><stop offset="0.3791" stop-color="#b0b0b0"/><stop offset="0.3931" stop-color="#a0a0a0"/><stop offset="0.4491" stop-color="#a0a0a0"/><stop offset="0.4799" stop-color="#808080"/><stop offset="0.5442" stop-color="#848484"/><stop offset="0.5610" stop-color="#a6a6a6"/><stop offset="0.6561" stop-color="#a8a8a8"/><stop offset="0.6757" stop-color="#7c7c7c"/><stop offset="0.6925" stop-color="#848484"/><stop offset="0.7121" stop-color="#acacac"/><stop offset="0.7639" stop-color="#b2b2b2"/><stop offset="0.7820" stop-color="#bcbcbc"/><stop offset="0.9989" stop-color="#bebebe"/></linearGradient>
<rect id="r22_0" x="-.5" y="1301.2" width="1" height="4.8"/>
<rect id="r22_1" x="-.5" y="1306" width="1" height="11"/>
<rect id="r22_2" x="-.5" y="1317" width="1" height="17"/>
<rect id="r22_3" x="-.5" y="1334" width="1" height="11"/>
<rect id="r22_4" x="-.5" y="1345" width="1" height="5.3"/>
<linearGradient id="g23" gradientUnits="userSpaceOnUse" x1="819.0" y1="0" x2="1533.8" y2="0"><stop offset="0.0000" stop-color="#bfbfbf"/><stop offset="0.0224" stop-color="#c3c3c3"/><stop offset="0.2532" stop-color="#c3c3c3"/><stop offset="0.2882" stop-color="#afafaf"/><stop offset="0.3162" stop-color="#b0b0b0"/><stop offset="0.3791" stop-color="#b0b0b0"/><stop offset="0.3931" stop-color="#707070"/><stop offset="0.4421" stop-color="#707070"/><stop offset="0.4491" stop-color="#a0a0a0"/><stop offset="0.4799" stop-color="#909090"/><stop offset="0.5470" stop-color="#929292"/><stop offset="0.5638" stop-color="#aaaaaa"/><stop offset="0.6561" stop-color="#acacac"/><stop offset="0.6757" stop-color="#7c7c7c"/><stop offset="0.6925" stop-color="#848484"/><stop offset="0.7121" stop-color="#b2b2b2"/><stop offset="0.7639" stop-color="#b6b6b6"/><stop offset="0.7820" stop-color="#bcbcbc"/><stop offset="0.9989" stop-color="#c0c0c0"/></linearGradient>
<rect id="r23_0" x="-.5" y="1356" width="1" height="5"/>
<rect id="r23_1" x="-.5" y="1361" width="1" height="11"/>
<rect id="r23_2" x="-.5" y="1372" width="1" height="17"/>
<rect id="r23_3" x="-.5" y="1389" width="1" height="11"/>
<rect id="r23_4" x="-.5" y="1400" width="1" height="4.8"/>
<linearGradient id="p0"><stop offset="0.000" stop-opacity="0.000"/><stop offset="0.100" stop-opacity="0.028"/><stop offset="0.200" stop-opacity="0.112"/><stop offset="0.300" stop-opacity="0.293"/><stop offset="0.400" stop-opacity="0.517"/><stop offset="0.500" stop-opacity="0.622"/><stop offset="0.600" stop-opacity="0.517"/><stop offset="0.700" stop-opacity="0.293"/><stop offset="0.800" stop-opacity="0.112"/><stop offset="0.900" stop-opacity="0.028"/><stop offset="1.000" stop-opacity="0.000"/></linearGradient>
<linearGradient id="p1"><stop offset="0.000" stop-opacity="0.000"/><stop offset="0.071" stop-opacity="0.015"/><stop offset="0.143" stop-opacity="0.049"/><stop offset="0.214" stop-opacity="0.119"/><stop offset="0.286" stop-opacity="0.210"/><stop offset="0.357" stop-opacity="0.289"/><stop offset="0.429" stop-opacity="0.335"/><stop offset="0.500" stop-opacity="0.390"/><stop offset="0.571" stop-opacity="0.589"/><stop offset="0.643" stop-opacity="0.865"/><stop offset="0.714" stop-opacity="0.965"/><stop offset="0.786" stop-opacity="0.813"/><stop offset="0.857" stop-opacity="0.392"/><stop offset="0.929" stop-opacity="0.076"/><stop offset="1.000" stop-opacity="0.000"/></linearGradient>
<linearGradient id="p2"><stop offset="0.000" stop-opacity="0.000"/><stop offset="0.071" stop-opacity="0.044"/><stop offset="0.143" stop-opacity="0.209"/><stop offset="0.214" stop-opacity="0.534"/><stop offset="0.286" stop-opacity="0.837"/><stop offset="0.357" stop-opacity="0.970"/><stop offset="0.429" stop-opacity="0.997"/><stop offset="0.500" stop-opacity="1.000"/><stop offset="0.571" stop-opacity="0.997"/><stop offset="0.643" stop-opacity="0.970"/><stop offset="0.714" stop-opacity="0.837"/><stop offset="0.786" stop-opacity="0.534"/><stop offset="0.857" stop-opacity="0.209"/><stop offset="0.929" stop-opacity="0.044"/><stop offset="1.000" stop-opacity="0.000"/></linearGradient>
<linearGradient id="p3"><stop offset="0.000" stop-opacity="0.000"/><stop offset="0.071" stop-opacity="0.012"/><stop offset="0.143" stop-opacity="0.036"/><stop offset="0.214" stop-opacity="0.086"/><stop offset="0.286" stop-opacity="0.158"/><stop offset="0.357" stop-opacity="0.237"/><stop offset="0.429" stop-opacity="0.298"/><stop offset="0.500" stop-opacity="0.340"/><stop offset="0.571" stop-opacity="0.423"/><stop offset="0.643" stop-opacity="0.625"/><stop offset="0.714" stop-opacity="0.800"/><stop offset="0.786" stop-opacity="0.667"/><stop offset="0.857" stop-opacity="0.309"/><stop offset="0.929" stop-opacity="0.073"/><stop offset="1.000" stop-opacity="0.000"/></linearGradient>
<linearGradient id="p4"><stop offset="0.000" stop-opacity="0.000"/><stop offset="0.071" stop-opacity="0.010"/><stop offset="0.143" stop-opacity="0.027"/><stop offset="0.214" stop-opacity="0.060"/><stop offset="0.286" stop-opacity="0.112"/><stop offset="0.357" stop-opacity="0.176"/><stop offset="0.429" stop-opacity="0.240"/><stop offset="0.500" stop-opacity="0.294"/><stop offset="0.571" stop-opacity="0.361"/><stop offset="0.643" stop-opacity="0.475"/><stop offset="0.714" stop-opacity="0.561"/><stop offset="0.786" stop-opacity="0.462"/><stop offset="0.857" stop-opacity="0.239"/><stop offset="0.929" stop-opacity="0.082"/><stop offset="1.000" stop-opacity="0.000"/></linearGradient>
<linearGradient id="p5"><stop offset="0.000" stop-opacity="0.000"/><stop offset="0.071" stop-opacity="0.013"/><stop offset="0.143" stop-opacity="0.042"/><stop offset="0.214" stop-opacity="0.101"/><stop offset="0.286" stop-opacity="0.183"/><stop offset="0.357" stop-opacity="0.264"/><stop offset="0.429" stop-opacity="0.319"/><stop offset="0.500" stop-opacity="0.354"/><stop offset="0.571" stop-opacity="0.449"/><stop offset="0.643" stop-opacity="0.688"/><stop offset="0.714" stop-opacity="0.878"/><stop offset="0.786" stop-opacity="0.746"/><stop offset="0.857" stop-opacity="0.349"/><stop offset="0.929" stop-opacity="0.075"/><stop offset="1.000" stop-opacity="0.000"/></linearGradient>
<linearGradient id="p6"><stop offset="0.000" stop-opacity="0.000"/><stop offset="0.100" stop-opacity="0.026"/><stop offset="0.200" stop-opacity="0.100"/><stop offset="0.300" stop-opacity="0.255"/><stop offset="0.400" stop-opacity="0.447"/><stop offset="0.500" stop-opacity="0.538"/><stop offset="0.600" stop-opacity="0.447"/><stop offset="0.700" stop-opacity="0.255"/><stop offset="0.800" stop-opacity="0.100"/><stop offset="0.900" stop-opacity="0.026"/><stop offset="1.000" stop-opacity="0.000"/></linearGradient>
<linearGradient id="p7"><stop offset="0.000" stop-opacity="0.000"/><stop offset="0.071" stop-opacity="0.011"/><stop offset="0.143" stop-opacity="0.031"/><stop offset="0.214" stop-opacity="0.072"/><stop offset="0.286" stop-opacity="0.134"/><stop offset="0.357" stop-opacity="0.207"/><stop offset="0.429" stop-opacity="0.272"/><stop offset="0.500" stop-opacity="0.321"/><stop offset="0.571" stop-opacity="0.395"/><stop offset="0.643" stop-opacity="0.555"/><stop offset="0.714" stop-opacity="0.695"/><stop offset="0.786" stop-opacity="0.573"/><stop offset="0.857" stop-opacity="0.273"/><stop offset="0.929" stop-opacity="0.076"/><stop offset="1.000" stop-opacity="0.000"/></linearGradient>
<linearGradient id="p8"><stop offset="0.000" stop-opacity="0.000"/><stop offset="0.071" stop-opacity="0.014"/><stop offset="0.143" stop-opacity="0.046"/><stop offset="0.214" stop-opacity="0.109"/><stop offset="0.286" stop-opacity="0.197"/><stop offset="0.357" stop-opacity="0.277"/><stop offset="0.429" stop-opacity="0.328"/><stop offset="0.500" stop-opacity="0.368"/><stop offset="0.571" stop-opacity="0.511"/><stop offset="0.643" stop-opacity="0.784"/><stop offset="0.714" stop-opacity="0.933"/><stop offset="0.786" stop-opacity="0.781"/><stop offset="0.857" stop-opacity="0.368"/><stop offset="0.929" stop-opacity="0.074"/><stop offset="1.000" stop-opacity="0.000"/></linearGradient>
<linearGradient id="p9"><stop offset="0.000" stop-opacity="0.000"/><stop offset="0.071" stop-opacity="0.054"/><stop offset="0.143" stop-opacity="0.268"/><stop offset="0.214" stop-opacity="0.645"/><stop offset="0.286" stop-opacity="0.913"/><stop offset="0.357" stop-opacity="0.991"/><stop offset="0.429" stop-opacity="1.000"/><stop offset="0.500" stop-opacity="1.000"/><stop offset="0.571" stop-opacity="1.000"/><stop offset="0.643" stop-opacity="0.991"/><stop offset="0.714" stop-opacity="0.913"/><stop offset="0.786" stop-opacity="0.645"/><stop offset="0.857" stop-opacity="0.268"/><stop offset="0.929" stop-opacity="0.054"/><stop offset="1.000" stop-opacity="0.000"/></linearGradient>
<linearGradient id="p10"><stop offset="0.000" stop-opacity="0.000"/><stop offset="0.071" stop-opacity="0.071"/><stop offset="0.143" stop-opacity="0.369"/><stop offset="0.214" stop-opacity="0.788"/><stop offset="0.286" stop-opacity="0.973"/><stop offset="0.357" stop-opacity="0.999"/><stop offset="0.429" stop-opacity="1.000"/><stop offset="0.500" stop-opacity="1.000"/><stop offset="0.571" stop-opacity="1.000"/><stop offset="0.643" stop-opacity="0.999"/><stop offset="0.714" stop-opacity="0.973"/><stop offset="0.786" stop-opacity="0.788"/><stop offset="0.857" stop-opacity="0.369"/><stop offset="0.929" stop-opacity="0.071"/><stop offset="1.000" stop-opacity="0.000"/></linearGradient>
<linearGradient id="p11"><stop offset="0.000" stop-opacity="0.000"/><stop offset="0.071" stop-opacity="0.016"/><stop offset="0.143" stop-opacity="0.057"/><stop offset="0.214" stop-opacity="0.138"/><stop offset="0.286" stop-opacity="0.236"/><stop offset="0.357" stop-opacity="0.310"/><stop offset="0.429" stop-opacity="0.351"/><stop offset="0.500" stop-opacity="0.467"/><stop offset="0.571" stop-opacity="0.761"/><stop offset="0.643" stop-opacity="0.963"/><stop offset="0.714" stop-opacity="0.990"/><stop offset="0.786" stop-opacity="0.869"/><stop offset="0.857" stop-opacity="0.451"/><stop offset="0.929" stop-opacity="0.087"/><stop offset="1.000" stop-opacity="0.000"/></linearGradient>
<linearGradient id="p12"><stop offset="0.000" stop-opacity="0.000"/><stop offset="0.100" stop-opacity="0.024"/><stop offset="0.200" stop-opacity="0.086"/><stop offset="0.300" stop-opacity="0.215"/><stop offset="0.400" stop-opacity="0.370"/><stop offset="0.500" stop-opacity="0.444"/><stop offset="0.600" stop-opacity="0.370"/><stop offset="0.700" stop-opacity="0.215"/><stop offset="0.800" stop-opacity="0.086"/><stop offset="0.900" stop-opacity="0.024"/><stop offset="1.000" stop-opacity="0.000"/></linearGradient>
<linearGradient id="p13"><stop offset="0.000" stop-opacity="0.000"/><stop offset="0.071" stop-opacity="0.085"/><stop offset="0.143" stop-opacity="0.443"/><stop offset="0.214" stop-opacity="0.861"/><stop offset="0.286" stop-opacity="0.990"/><stop offset="0.357" stop-opacity="1.000"/><stop offset="0.429" stop-opacity="1.000"/><stop offset="0.500" stop-opacity="1.000"/><stop offset="0.571" stop-opacity="1.000"/><stop offset="0.643" stop-opacity="1.000"/><stop offset="0.714" stop-opacity="0.990"/><stop offset="0.786" stop-opacity="0.861"/><stop offset="0.857" stop-opacity="0.443"/><stop offset="0.929" stop-opacity="0.085"/><stop offset="1.000" stop-opacity="0.000"/></linearGradient>
<linearGradient id="p14"><stop offset="0.000" stop-opacity="0.000"/><stop offset="0.071" stop-opacity="0.010"/><stop offset="0.143" stop-opacity="0.029"/><stop offset="0.214" stop-opacity="0.066"/><stop offset="0.286" stop-opacity="0.123"/><stop offset="0.357" stop-opacity="0.192"/><stop offset="0.429" stop-opacity="0.257"/><stop offset="0.500" stop-opacity="0.309"/><stop offset="0.571" stop-opacity="0.379"/><stop offset="0.643" stop-opacity="0.517"/><stop offset="0.714" stop-opacity="0.631"/><stop offset="0.786" stop-opacity="0.520"/><stop offset="0.857" stop-opacity="0.256"/><stop offset="0.929" stop-opacity="0.079"/><stop offset="1.000" stop-opacity="0.000"/></linearGradient>
<linearGradient id="p15"><stop offset="0.000" stop-opacity="0.000"/><stop offset="0.071" stop-opacity="0.017"/><stop offset="0.143" stop-opacity="0.061"/><stop offset="0.214" stop-opacity="0.148"/><stop offset="0.286" stop-opacity="0.248"/><stop offset="0.357" stop-opacity="0.318"/><stop offset="0.429" stop-opacity="0.362"/><stop offset="0.500" stop-opacity="0.526"/><stop offset="0.571" stop-opacity="0.837"/><stop offset="0.643" stop-opacity="0.984"/><stop offset="0.714" stop-opacity="0.994"/><stop offset="0.786" stop-opacity="0.893"/><stop offset="0.857" stop-opacity="0.483"/><stop offset="0.929" stop-opacity="0.093"/><stop offset="1.000" stop-opacity="0.000"/></linearGradient>
<linearGradient id="p16"><stop offset="0.000" stop-opacity="0.000"/><stop offset="0.071" stop-opacity="0.078"/><stop offset="0.143" stop-opacity="0.406"/><stop offset="0.214" stop-opacity="0.827"/><stop offset="0.286" stop-opacity="0.983"/><stop offset="0.357" stop-opacity="1.000"/><stop offset="0.429" stop-opacity="1.000"/><stop offset="0.500" stop-opacity="1.000"/><stop offset="0.571" stop-opacity="1.000"/><stop offset="0.643" stop-opacity="1.000"/><stop offset="0.714" stop-opacity="0.983"/><stop offset="0.786" stop-opacity="0.827"/><stop offset="0.857" stop-opacity="0.406"/><stop offset="0.929" stop-opacity="0.078"/><stop offset="1.000" stop-opacity="0.000"/></linearGradient>
<linearGradient id="p17"><stop offset="0.000" stop-opacity="0.000"/><stop offset="0.100" stop-opacity="0.033"/><stop offset="0.200" stop-opacity="0.138"/><stop offset="0.300" stop-opacity="0.366"/><stop offset="0.400" stop-opacity="0.636"/><stop offset="0.500" stop-opacity="0.761"/><stop offset="0.600" stop-opacity="0.636"/><stop offset="0.700" stop-opacity="0.366"/><stop offset="0.800" stop-opacity="0.138"/><stop offset="0.900" stop-opacity="0.033"/><stop offset="1.000" stop-opacity="0.000"/></linearGradient>
<linearGradient id="p18"><stop offset="0.000" stop-opacity="0.000"/><stop offset="0.071" stop-opacity="0.015"/><stop offset="0.143" stop-opacity="0.053"/><stop offset="0.214" stop-opacity="0.128"/><stop offset="0.286" stop-opacity="0.223"/><stop offset="0.357" stop-opacity="0.300"/><stop offset="0.429" stop-opacity="0.343"/><stop offset="0.500" stop-opacity="0.422"/><stop offset="0.571" stop-opacity="0.675"/><stop offset="0.643" stop-opacity="0.925"/><stop offset="0.714" stop-opacity="0.981"/><stop offset="0.786" stop-opacity="0.842"/><stop offset="0.857" stop-opacity="0.420"/><stop offset="0.929" stop-opacity="0.081"/><stop offset="1.000" stop-opacity="0.000"/></linearGradient>
<linearGradient id="p19"><stop offset="0.000" stop-opacity="0.000"/><stop offset="0.071" stop-opacity="0.027"/><stop offset="0.143" stop-opacity="0.108"/><stop offset="0.214" stop-opacity="0.289"/><stop offset="0.286" stop-opacity="0.549"/><stop offset="0.357" stop-opacity="0.789"/><stop offset="0.429" stop-opacity="0.929"/><stop offset="0.500" stop-opacity="0.970"/><stop offset="0.571" stop-opacity="0.929"/><stop offset="0.643" stop-opacity="0.789"/><stop offset="0.714" stop-opacity="0.549"/><stop offset="0.786" stop-opacity="0.289"/><stop offset="0.857" stop-opacity="0.108"/><stop offset="0.929" stop-opacity="0.027"/><stop offset="1.000" stop-opacity="0.000"/></linearGradient>
<linearGradient id="p20"><stop offset="0.000" stop-opacity="0.000"/><stop offset="0.071" stop-opacity="0.018"/><stop offset="0.143" stop-opacity="0.066"/><stop offset="0.214" stop-opacity="0.158"/><stop offset="0.286" stop-opacity="0.260"/><stop offset="0.357" stop-opacity="0.326"/><stop offset="0.429" stop-opacity="0.378"/><stop offset="0.500" stop-opacity="0.595"/><stop offset="0.571" stop-opacity="0.899"/><stop offset="0.643" stop-opacity="0.994"/><stop offset="0.714" stop-opacity="0.996"/><stop offset="0.786" stop-opacity="0.914"/><stop offset="0.857" stop-opacity="0.516"/><stop offset="0.929" stop-opacity="0.100"/><stop offset="1.000" stop-opacity="0.000"/></linearGradient>
<linearGradient id="p21"><stop offset="0.000" stop-opacity="0.000"/><stop offset="0.100" stop-opacity="0.037"/><stop offset="0.200" stop-opacity="0.166"/><stop offset="0.300" stop-opacity="0.436"/><stop offset="0.400" stop-opacity="0.733"/><stop offset="0.500" stop-opacity="0.859"/><stop offset="0.600" stop-opacity="0.733"/><stop offset="0.700" stop-opacity="0.436"/><stop offset="0.800" stop-opacity="0.166"/><stop offset="0.900" stop-opacity="0.037"/><stop offset="1.000" stop-opacity="0.000"/></linearGradient>
<linearGradient id="p22"><stop offset="0.000" stop-opacity="0.000"/><stop offset="0.100" stop-opacity="0.048"/><stop offset="0.200" stop-opacity="0.231"/><stop offset="0.300" stop-opacity="0.577"/><stop offset="0.400" stop-opacity="0.869"/><stop offset="0.500" stop-opacity="0.960"/><stop offset="0.600" stop-opacity="0.869"/><stop offset="0.700" stop-opacity="0.577"/><stop offset="0.800" stop-opacity="0.231"/><stop offset="0.900" stop-opacity="0.048"/><stop offset="1.000" stop-opacity="0.000"/></linearGradient>
<linearGradient id="p23"><stop offset="0.000" stop-opacity="0.000"/><stop offset="0.071" stop-opacity="0.040"/><stop offset="0.143" stop-opacity="0.183"/><stop offset="0.214" stop-opacity="0.477"/><stop offset="0.286" stop-opacity="0.785"/><stop offset="0.357" stop-opacity="0.949"/><stop offset="0.429" stop-opacity="0.994"/><stop offset="0.500" stop-opacity="0.999"/><stop offset="0.571" stop-opacity="0.994"/><stop offset="0.643" stop-opacity="0.949"/><stop offset="0.714" stop-opacity="0.785"/><stop offset="0.786" stop-opacity="0.477"/><stop offset="0.857" stop-opacity="0.183"/><stop offset="0.929" stop-opacity="0.040"/><stop offset="1.000" stop-opacity="0.000"/></linearGradient>
</defs>
<rect x="819.0" y="90" width="714.8" height="49.0" fill="url(#g0)"/>
<g>
<use href="#r0_0" transform="matrix(11.8 0 0.462 1 995.8 0)" fill="url(#p0)" fill-opacity="0.102"/>
<use href="#r0_1" transform="matrix(11.8 0 0.117 1 1028.6 0)" fill="url(#p0)" fill-opacity="0.12"/>
<use href="#r0_2" transform="matrix(11.8 0 0 1 1041.0 0)" fill="url(#p0)" fill-opacity="0.12"/>
<use href="#r0_3" transform="matrix(11.8 0 -0.117 1 1055.4 0)" fill="url(#p0)" fill-opacity="0.12"/>
<use href="#r0_4" transform="matrix(11.8 0 -0.462 1 1101.6 0)" fill="url(#p0)" fill-opacity="0.102"/>
<use href="#r0_0" transform="matrix(27.4 0 0.588 1 1008.7 0)" fill="url(#p1)" fill-opacity="0.383"/>
<use href="#r0_1" transform="matrix(27.4 0 0.149 1 1050.4 0)" fill="url(#p1)" fill-opacity="0.45"/>
<use href="#r0_2" transform="matrix(27.4 0 0 1 1066.2 0)" fill="url(#p1)" fill-opacity="0.45"/>
<use href="#r0_3" transform="matrix(27.4 0 -0.149 1 1084.6 0)" fill="url(#p1)" fill-opacity="0.45"/>
<use href="#r0_4" transform="matrix(27.4 0 -0.588 1 1143.4 0)" fill="url(#p1)" fill-opacity="0.383"/>
<use href="#r0_0" transform="matrix(37.6 0 1.050 1 1002.3 0)" fill="url(#p2)" fill-opacity="0.8"/>
<use href="#r0_1" transform="matrix(37.6 0 0.267 1 1076.7 0)" fill="url(#p2)" fill-opacity="0.8"/>
<use href="#r0_2" transform="matrix(37.6 0 0 1 1105.0 0)" fill="url(#p2)" fill-opacity="0.8"/>
<use href="#r0_3" transform="matrix(37.6 0 -0.267 1 1137.8 0)" fill="url(#p2)" fill-opacity="0.8"/>
<use href="#r0_4" transform="matrix(37.6 0 -1.050 1 1242.8 0)" fill="url(#p2)" fill-opacity="0.8"/>
<use href="#r0_0" transform="matrix(23.6 0 1.540 1 1005.0 0)" fill="url(#p3)" fill-opacity="0.468"/>
<use href="#r0_1" transform="matrix(23.6 0 0.391 1 1114.2 0)" fill="url(#p3)" fill-opacity="0.55"/>
<use href="#r0_2" transform="matrix(23.6 0 0 1 1155.6 0)" fill="url(#p3)" fill-opacity="0.55"/>
<use href="#r0_3" transform="matrix(23.6 0 -0.391 1 1203.7 0)" fill="url(#p3)" fill-opacity="0.55"/>
<use href="#r0_4" transform="matrix(23.6 0 -1.540 1 1357.7 0)" fill="url(#p3)" fill-opacity="0.468"/>
<use href="#r0_0" transform="matrix(20.0 0 1.540 1 1014.3 0)" fill="url(#p4)" fill-opacity="0.255"/>
<use href="#r0_1" transform="matrix(20.0 0 0.391 1 1123.5 0)" fill="url(#p4)" fill-opacity="0.3"/>
<use href="#r0_2" transform="matrix(20.0 0 0 1 1164.9 0)" fill="url(#p4)" fill-opacity="0.3"/>
<use href="#r0_3" transform="matrix(20.0 0 -0.391 1 1213.0 0)" fill="url(#p4)" fill-opacity="0.3"/>
<use href="#r0_4" transform="matrix(20.0 0 -1.540 1 1367.0 0)" fill="url(#p4)" fill-opacity="0.255"/>
<use href="#r0_0" transform="matrix(25.4 0 1.540 1 1033.1 0)" fill="url(#p5)" fill-opacity="0.383"/>
<use href="#r0_1" transform="matrix(25.4 0 0.391 1 1142.3 0)" fill="url(#p5)" fill-opacity="0.45"/>
<use href="#r0_2" transform="matrix(25.4 0 0 1 1183.7 0)" fill="url(#p5)" fill-opacity="0.45"/>
<use href="#r0_3" transform="matrix(25.4 0 -0.391 1 1231.8 0)" fill="url(#p5)" fill-opacity="0.45"/>
<use href="#r0_4" transform="matrix(25.4 0 -1.540 1 1385.8 0)" fill="url(#p5)" fill-opacity="0.383"/>
<use href="#r0_0" transform="matrix(11.8 0 1.540 1 1058.4 0)" fill="url(#p0)" fill-opacity="0.102"/>
<use href="#r0_1" transform="matrix(11.8 0 0.391 1 1167.6 0)" fill="url(#p0)" fill-opacity="0.12"/>
<use href="#r0_2" transform="matrix(11.8 0 0 1 1209.0 0)" fill="url(#p0)" fill-opacity="0.12"/>
<use href="#r0_3" transform="matrix(11.8 0 -0.391 1 1257.1 0)" fill="url(#p0)" fill-opacity="0.12"/>
<use href="#r0_4" transform="matrix(11.8 0 -1.540 1 1411.1 0)" fill="url(#p0)" fill-opacity="0.102"/>
<use href="#r0_0" transform="matrix(11.8 0 1.540 1 1091.4 0)" fill="url(#p0)" fill-opacity="0.102"/>
<use href="#r0_1" transform="matrix(11.8 0 0.391 1 1200.6 0)" fill="url(#p0)" fill-opacity="0.12"/>
<use href="#r0_2" transform="matrix(11.8 0 0 1 1242.0 0)" fill="url(#p0)" fill-opacity="0.12"/>
<use href="#r0_3" transform="matrix(11.8 0 -0.391 1 1290.1 0)" fill="url(#p0)" fill-opacity="0.12"/>
<use href="#r0_4" transform="matrix(11.8 0 -1.540 1 1444.1 0)" fill="url(#p0)" fill-opacity="0.102"/>
<use href="#r0_0" transform="matrix(11.8 0 1.540 1 1111.4 0)" fill="url(#p0)" fill-opacity="0.085"/>
<use href="#r0_1" transform="matrix(11.8 0 0.391 1 1220.6 0)" fill="url(#p0)" fill-opacity="0.1"/>
<use href="#r0_2" transform="matrix(11.8 0 0 1 1262.0 0)" fill="url(#p0)" fill-opacity="0.1"/>
<use href="#r0_3" transform="matrix(11.8 0 -0.391 1 1310.1 0)" fill="url(#p0)" fill-opacity="0.1"/>
<use href="#r0_4" transform="matrix(11.8 0 -1.540 1 1464.1 0)" fill="url(#p0)" fill-opacity="0.085"/>
<use href="#r0_0" transform="matrix(27.4 0 1.540 1 1143.6 0)" fill="url(#p1)" fill-opacity="0.51"/>
<use href="#r0_1" transform="matrix(27.4 0 0.391 1 1252.8 0)" fill="url(#p1)" fill-opacity="0.6"/>
<use href="#r0_2" transform="matrix(27.4 0 0 1 1294.2 0)" fill="url(#p1)" fill-opacity="0.6"/>
<use href="#r0_3" transform="matrix(27.4 0 -0.391 1 1342.3 0)" fill="url(#p1)" fill-opacity="0.6"/>
<use href="#r0_4" transform="matrix(27.4 0 -1.540 1 1496.3 0)" fill="url(#p1)" fill-opacity="0.51"/>
<use href="#r0_0" transform="matrix(11.3 0 1.540 1 1220.4 0)" fill="url(#p6)" fill-opacity="0.128"/>
<use href="#r0_1" transform="matrix(11.3 0 0.391 1 1329.6 0)" fill="url(#p6)" fill-opacity="0.15"/>
<use href="#r0_2" transform="matrix(11.3 0 0 1 1371.0 0)" fill="url(#p6)" fill-opacity="0.15"/>
<use href="#r0_3" transform="matrix(11.3 0 -0.391 1 1419.1 0)" fill="url(#p6)" fill-opacity="0.15"/>
<use href="#r0_4" transform="matrix(11.3 0 -1.540 1 1573.1 0)" fill="url(#p6)" fill-opacity="0.128"/>
</g>
<rect x="819.0" y="90" width="714.8" height="49.0" fill="url(#vs)"/>
<rect x="819.0" y="145.2" width="714.8" height="48.8" fill="url(#g1)"/>
<g>
<use href="#r1_0" transform="matrix(21.8 0 0.481 1 963.5 0)" fill="url(#p7)" fill-opacity="0.255"/>
<use href="#r1_1" transform="matrix(21.8 0 0.117 1 1018.1 0)" fill="url(#p7)" fill-opacity="0.3"/>
<use href="#r1_2" transform="matrix(21.8 0 0 1 1037.0 0)" fill="url(#p7)" fill-opacity="0.3"/>
<use href="#r1_3" transform="matrix(21.8 0 -0.117 1 1057.9 0)" fill="url(#p7)" fill-opacity="0.3"/>
<use href="#r1_4" transform="matrix(21.8 0 -0.462 1 1123.0 0)" fill="url(#p7)" fill-opacity="0.255"/>
<use href="#r1_0" transform="matrix(26.4 0 0.627 1 971.5 0)" fill="url(#p8)" fill-opacity="0.383"/>
<use href="#r1_1" transform="matrix(26.4 0 0.153 1 1042.6 0)" fill="url(#p8)" fill-opacity="0.45"/>
<use href="#r1_2" transform="matrix(26.4 0 0 1 1067.2 0)" fill="url(#p8)" fill-opacity="0.45"/>
<use href="#r1_3" transform="matrix(26.4 0 -0.153 1 1094.4 0)" fill="url(#p8)" fill-opacity="0.45"/>
<use href="#r1_4" transform="matrix(26.4 0 -0.602 1 1179.3 0)" fill="url(#p8)" fill-opacity="0.383"/>
<use href="#r1_0" transform="matrix(37.6 0 1.123 1 935.6 0)" fill="url(#p2)" fill-opacity="0.8"/>
<use href="#r1_1" transform="matrix(37.6 0 0.274 1 1062.9 0)" fill="url(#p2)" fill-opacity="0.8"/>
<use href="#r1_2" transform="matrix(37.6 0 0 1 1107.0 0)" fill="url(#p2)" fill-opacity="0.8"/>
<use href="#r1_3" transform="matrix(37.6 0 -0.274 1 1155.7 0)" fill="url(#p2)" fill-opacity="0.8"/>
<use href="#r1_4" transform="matrix(37.6 0 -1.078 1 1307.7 0)" fill="url(#p2)" fill-opacity="0.8"/>
<use href="#r1_0" transform="matrix(23.6 0 1.604 1 910.7 0)" fill="url(#p3)" fill-opacity="0.425"/>
<use href="#r1_1" transform="matrix(23.6 0 0.391 1 1092.7 0)" fill="url(#p3)" fill-opacity="0.5"/>
<use href="#r1_2" transform="matrix(23.6 0 0 1 1155.6 0)" fill="url(#p3)" fill-opacity="0.5"/>
<use href="#r1_3" transform="matrix(23.6 0 -0.391 1 1225.2 0)" fill="url(#p3)" fill-opacity="0.5"/>
<use href="#r1_4" transform="matrix(23.6 0 -1.540 1 1442.4 0)" fill="url(#p3)" fill-opacity="0.425"/>
<use href="#r1_0" transform="matrix(20.0 0 1.604 1 920.5 0)" fill="url(#p4)" fill-opacity="0.255"/>
<use href="#r1_1" transform="matrix(20.0 0 0.391 1 1102.5 0)" fill="url(#p4)" fill-opacity="0.3"/>
<use href="#r1_2" transform="matrix(20.0 0 0 1 1165.4 0)" fill="url(#p4)" fill-opacity="0.3"/>
<use href="#r1_3" transform="matrix(20.0 0 -0.391 1 1235.0 0)" fill="url(#p4)" fill-opacity="0.3"/>
<use href="#r1_4" transform="matrix(20.0 0 -1.540 1 1452.2 0)" fill="url(#p4)" fill-opacity="0.255"/>
<use href="#r1_0" transform="matrix(25.4 0 1.604 1 939.3 0)" fill="url(#p5)" fill-opacity="0.383"/>
<use href="#r1_1" transform="matrix(25.4 0 0.391 1 1121.3 0)" fill="url(#p5)" fill-opacity="0.45"/>
<use href="#r1_2" transform="matrix(25.4 0 0 1 1184.2 0)" fill="url(#p5)" fill-opacity="0.45"/>
<use href="#r1_3" transform="matrix(25.4 0 -0.391 1 1253.8 0)" fill="url(#p5)" fill-opacity="0.45"/>
<use href="#r1_4" transform="matrix(25.4 0 -1.540 1 1471.0 0)" fill="url(#p5)" fill-opacity="0.383"/>
<use href="#r1_0" transform="matrix(11.8 0 1.604 1 964.1 0)" fill="url(#p0)" fill-opacity="0.102"/>
<use href="#r1_1" transform="matrix(11.8 0 0.391 1 1146.1 0)" fill="url(#p0)" fill-opacity="0.12"/>
<use href="#r1_2" transform="matrix(11.8 0 0 1 1209.0 0)" fill="url(#p0)" fill-opacity="0.12"/>
<use href="#r1_3" transform="matrix(11.8 0 -0.391 1 1278.6 0)" fill="url(#p0)" fill-opacity="0.12"/>
<use href="#r1_4" transform="matrix(11.8 0 -1.540 1 1495.8 0)" fill="url(#p0)" fill-opacity="0.102"/>
<use href="#r1_0" transform="matrix(11.8 0 1.604 1 997.1 0)" fill="url(#p0)" fill-opacity="0.102"/>
<use href="#r1_1" transform="matrix(11.8 0 0.391 1 1179.1 0)" fill="url(#p0)" fill-opacity="0.12"/>
<use href="#r1_2" transform="matrix(11.8 0 0 1 1242.0 0)" fill="url(#p0)" fill-opacity="0.12"/>
<use href="#r1_3" transform="matrix(11.8 0 -0.391 1 1311.6 0)" fill="url(#p0)" fill-opacity="0.12"/>
<use href="#r1_4" transform="matrix(11.8 0 -1.540 1 1528.8 0)" fill="url(#p0)" fill-opacity="0.102"/>
<use href="#r1_0" transform="matrix(11.8 0 1.604 1 1017.1 0)" fill="url(#p0)" fill-opacity="0.085"/>
<use href="#r1_1" transform="matrix(11.8 0 0.391 1 1199.1 0)" fill="url(#p0)" fill-opacity="0.1"/>
<use href="#r1_2" transform="matrix(11.8 0 0 1 1262.0 0)" fill="url(#p0)" fill-opacity="0.1"/>
<use href="#r1_3" transform="matrix(11.8 0 -0.391 1 1331.6 0)" fill="url(#p0)" fill-opacity="0.1"/>
<use href="#r1_4" transform="matrix(11.8 0 -1.540 1 1548.8 0)" fill="url(#p0)" fill-opacity="0.085"/>
<use href="#r1_0" transform="matrix(27.4 0 1.604 1 1049.3 0)" fill="url(#p1)" fill-opacity="0.425"/>
<use href="#r1_1" transform="matrix(27.4 0 0.391 1 1231.3 0)" fill="url(#p1)" fill-opacity="0.5"/>
<use href="#r1_2" transform="matrix(27.4 0 0 1 1294.2 0)" fill="url(#p1)" fill-opacity="0.5"/>
<use href="#r1_3" transform="matrix(27.4 0 -0.391 1 1363.8 0)" fill="url(#p1)" fill-opacity="0.5"/>
<use href="#r1_4" transform="matrix(27.4 0 -1.540 1 1581.0 0)" fill="url(#p1)" fill-opacity="0.425"/>
</g>
<rect x="819.0" y="145.2" width="714.8" height="48.8" fill="url(#vs)"/>
<rect x="819.0" y="200.6" width="714.8" height="48.9" fill="url(#g2)"/>
<g>
<use href="#r2_0" transform="matrix(23.6 0 0.428 1 945.2 0)" fill="url(#p3)" fill-opacity="0.297"/>
<use href="#r2_1" transform="matrix(23.6 0 0.117 1 1009.2 0)" fill="url(#p3)" fill-opacity="0.35"/>
<use href="#r2_2" transform="matrix(23.6 0 0 1 1034.6 0)" fill="url(#p3)" fill-opacity="0.35"/>
<use href="#r2_3" transform="matrix(23.6 0 -0.129 1 1064.8 0)" fill="url(#p3)" fill-opacity="0.35"/>
<use href="#r2_4" transform="matrix(23.6 0 -0.420 1 1135.8 0)" fill="url(#p3)" fill-opacity="0.297"/>
<use href="#r2_0" transform="matrix(27.4 0 0.544 1 952.4 0)" fill="url(#p1)" fill-opacity="0.468"/>
<use href="#r2_1" transform="matrix(27.4 0 0.149 1 1033.8 0)" fill="url(#p1)" fill-opacity="0.55"/>
<use href="#r2_2" transform="matrix(27.4 0 0 1 1066.2 0)" fill="url(#p1)" fill-opacity="0.55"/>
<use href="#r2_3" transform="matrix(27.4 0 -0.164 1 1104.6 0)" fill="url(#p1)" fill-opacity="0.55"/>
<use href="#r2_4" transform="matrix(27.4 0 -0.535 1 1195.0 0)" fill="url(#p1)" fill-opacity="0.468"/>
<use href="#r2_0" transform="matrix(41.6 0 0.933 1 906.9 0)" fill="url(#p9)" fill-opacity="0.8"/>
<use href="#r2_1" transform="matrix(41.6 0 0.256 1 1046.5 0)" fill="url(#p9)" fill-opacity="0.8"/>
<use href="#r2_2" transform="matrix(41.6 0 0 1 1102.0 0)" fill="url(#p9)" fill-opacity="0.8"/>
<use href="#r2_3" transform="matrix(41.6 0 -0.281 1 1167.9 0)" fill="url(#p9)" fill-opacity="0.8"/>
<use href="#r2_4" transform="matrix(41.6 0 -0.916 1 1322.8 0)" fill="url(#p9)" fill-opacity="0.8"/>
<use href="#r2_0" transform="matrix(23.6 0 1.426 1 856.6 0)" fill="url(#p3)" fill-opacity="0.468"/>
<use href="#r2_1" transform="matrix(23.6 0 0.391 1 1069.8 0)" fill="url(#p3)" fill-opacity="0.55"/>
<use href="#r2_2" transform="matrix(23.6 0 0 1 1154.6 0)" fill="url(#p3)" fill-opacity="0.55"/>
<use href="#r2_3" transform="matrix(23.6 0 -0.430 1 1255.2 0)" fill="url(#p3)" fill-opacity="0.55"/>
<use href="#r2_4" transform="matrix(23.6 0 -1.400 1 1491.9 0)" fill="url(#p3)" fill-opacity="0.468"/>
<use href="#r2_0" transform="matrix(20.0 0 1.426 1 866.4 0)" fill="url(#p4)" fill-opacity="0.255"/>
<use href="#r2_1" transform="matrix(20.0 0 0.391 1 1079.6 0)" fill="url(#p4)" fill-opacity="0.3"/>
<use href="#r2_2" transform="matrix(20.0 0 0 1 1164.4 0)" fill="url(#p4)" fill-opacity="0.3"/>
<use href="#r2_3" transform="matrix(20.0 0 -0.430 1 1265.0 0)" fill="url(#p4)" fill-opacity="0.3"/>
<use href="#r2_4" transform="matrix(20.0 0 -1.400 1 1501.7 0)" fill="url(#p4)" fill-opacity="0.255"/>
<use href="#r2_0" transform="matrix(25.4 0 1.426 1 881.2 0)" fill="url(#p5)" fill-opacity="0.383"/>
<use href="#r2_1" transform="matrix(25.4 0 0.391 1 1094.4 0)" fill="url(#p5)" fill-opacity="0.45"/>
<use href="#r2_2" transform="matrix(25.4 0 0 1 1179.2 0)" fill="url(#p5)" fill-opacity="0.45"/>
<use href="#r2_3" transform="matrix(25.4 0 -0.430 1 1279.8 0)" fill="url(#p5)" fill-opacity="0.45"/>
<use href="#r2_4" transform="matrix(25.4 0 -1.400 1 1516.5 0)" fill="url(#p5)" fill-opacity="0.383"/>
<use href="#r2_0" transform="matrix(11.8 0 1.426 1 911.0 0)" fill="url(#p0)" fill-opacity="0.102"/>
<use href="#r2_1" transform="matrix(11.8 0 0.391 1 1124.2 0)" fill="url(#p0)" fill-opacity="0.12"/>
<use href="#r2_2" transform="matrix(11.8 0 0 1 1209.0 0)" fill="url(#p0)" fill-opacity="0.12"/>
<use href="#r2_3" transform="matrix(11.8 0 -0.430 1 1309.6 0)" fill="url(#p0)" fill-opacity="0.12"/>
<use href="#r2_4" transform="matrix(11.8 0 -1.400 1 1546.3 0)" fill="url(#p0)" fill-opacity="0.102"/>
<use href="#r2_0" transform="matrix(11.8 0 1.426 1 944.0 0)" fill="url(#p0)" fill-opacity="0.102"/>
<use href="#r2_1" transform="matrix(11.8 0 0.391 1 1157.2 0)" fill="url(#p0)" fill-opacity="0.12"/>
<use href="#r2_2" transform="matrix(11.8 0 0 1 1242.0 0)" fill="url(#p0)" fill-opacity="0.12"/>
<use href="#r2_3" transform="matrix(11.8 0 -0.430 1 1342.6 0)" fill="url(#p0)" fill-opacity="0.12"/>
<use href="#r2_4" transform="matrix(11.8 0 -1.400 1 1579.3 0)" fill="url(#p0)" fill-opacity="0.102"/>
<use href="#r2_0" transform="matrix(11.8 0 1.426 1 964.0 0)" fill="url(#p0)" fill-opacity="0.085"/>
<use href="#r2_1" transform="matrix(11.8 0 0.391 1 1177.2 0)" fill="url(#p0)" fill-opacity="0.1"/>
<use href="#r2_2" transform="matrix(11.8 0 0 1 1262.0 0)" fill="url(#p0)" fill-opacity="0.1"/>
<use href="#r2_3" transform="matrix(11.8 0 -0.430 1 1362.6 0)" fill="url(#p0)" fill-opacity="0.1"/>
<use href="#r2_4" transform="matrix(11.8 0 -1.400 1 1599.3 0)" fill="url(#p0)" fill-opacity="0.085"/>
<use href="#r2_0" transform="matrix(27.4 0 1.426 1 994.2 0)" fill="url(#p1)" fill-opacity="0.51"/>
<use href="#r2_1" transform="matrix(27.4 0 0.391 1 1207.4 0)" fill="url(#p1)" fill-opacity="0.6"/>
<use href="#r2_2" transform="matrix(27.4 0 0 1 1292.2 0)" fill="url(#p1)" fill-opacity="0.6"/>
<use href="#r2_3" transform="matrix(27.4 0 -0.430 1 1392.8 0)" fill="url(#p1)" fill-opacity="0.6"/>
<use href="#r2_4" transform="matrix(27.4 0 -1.400 1 1629.5 0)" fill="url(#p1)" fill-opacity="0.51"/>
<use href="#r2_0" transform="matrix(21.8 0 1.426 1 1066.0 0)" fill="url(#p7)" fill-opacity="0.255"/>
<use href="#r2_1" transform="matrix(21.8 0 0.391 1 1279.2 0)" fill="url(#p7)" fill-opacity="0.3"/>
<use href="#r2_2" transform="matrix(21.8 0 0 1 1364.0 0)" fill="url(#p7)" fill-opacity="0.3"/>
<use href="#r2_3" transform="matrix(21.8 0 -0.430 1 1464.6 0)" fill="url(#p7)" fill-opacity="0.3"/>
<use href="#r2_4" transform="matrix(21.8 0 -1.400 1 1701.3 0)" fill="url(#p7)" fill-opacity="0.255"/>
</g>
<rect x="819.0" y="200.6" width="714.8" height="48.9" fill="url(#vs)"/>
<rect x="1000" y="221" width="320" height="10" rx="5" fill="url(#hs)" fill-opacity="0.1"/>
<rect x="819.0" y="255.1" width="714.8" height="49.2" fill="url(#g3)"/>
<g>
<use href="#r3_0" transform="matrix(23.6 0 0.471 1 912.7 0)" fill="url(#p3)" fill-opacity="0.34"/>
<use href="#r3_1" transform="matrix(23.6 0 0.117 1 1004.8 0)" fill="url(#p3)" fill-opacity="0.4"/>
<use href="#r3_2" transform="matrix(23.6 0 0 1 1036.6 0)" fill="url(#p3)" fill-opacity="0.4"/>
<use href="#r3_3" transform="matrix(23.6 0 -0.117 1 1070.4 0)" fill="url(#p3)" fill-opacity="0.4"/>
<use href="#r3_4" transform="matrix(23.6 0 -0.436 1 1165.6 0)" fill="url(#p3)" fill-opacity="0.34"/>
<use href="#r3_0" transform="matrix(26.4 0 0.614 1 905.8 0)" fill="url(#p8)" fill-opacity="0.383"/>
<use href="#r3_1" transform="matrix(26.4 0 0.153 1 1025.8 0)" fill="url(#p8)" fill-opacity="0.45"/>
<use href="#r3_2" transform="matrix(26.4 0 0 1 1067.2 0)" fill="url(#p8)" fill-opacity="0.45"/>
<use href="#r3_3" transform="matrix(26.4 0 -0.153 1 1111.2 0)" fill="url(#p8)" fill-opacity="0.45"/>
<use href="#r3_4" transform="matrix(26.4 0 -0.568 1 1235.3 0)" fill="url(#p8)" fill-opacity="0.383"/>
<use href="#r3_0" transform="matrix(47.6 0 1.171 1 804.2 0)" fill="url(#p10)" fill-opacity="0.9"/>
<use href="#r3_1" transform="matrix(47.6 0 0.291 1 1033.0 0)" fill="url(#p10)" fill-opacity="0.9"/>
<use href="#r3_2" transform="matrix(47.6 0 0 1 1112.0 0)" fill="url(#p10)" fill-opacity="0.9"/>
<use href="#r3_3" transform="matrix(47.6 0 -0.291 1 1195.9 0)" fill="url(#p10)" fill-opacity="0.9"/>
<use href="#r3_4" transform="matrix(47.6 0 -1.083 1 1432.6 0)" fill="url(#p10)" fill-opacity="0.9"/>
<use href="#r3_0" transform="matrix(25.4 0 1.571 1 748.3 0)" fill="url(#p5)" fill-opacity="0.595"/>
<use href="#r3_1" transform="matrix(25.4 0 0.391 1 1055.3 0)" fill="url(#p5)" fill-opacity="0.7"/>
<use href="#r3_2" transform="matrix(25.4 0 0 1 1161.2 0)" fill="url(#p5)" fill-opacity="0.7"/>
<use href="#r3_3" transform="matrix(25.4 0 -0.391 1 1273.8 0)" fill="url(#p5)" fill-opacity="0.7"/>
<use href="#r3_4" transform="matrix(25.4 0 -1.453 1 1591.3 0)" fill="url(#p5)" fill-opacity="0.595"/>
<use href="#r3_0" transform="matrix(20.0 0 1.571 1 759.5 0)" fill="url(#p4)" fill-opacity="0.255"/>
<use href="#r3_1" transform="matrix(20.0 0 0.391 1 1066.5 0)" fill="url(#p4)" fill-opacity="0.3"/>
<use href="#r3_2" transform="matrix(20.0 0 0 1 1172.4 0)" fill="url(#p4)" fill-opacity="0.3"/>
<use href="#r3_3" transform="matrix(20.0 0 -0.391 1 1285.0 0)" fill="url(#p4)" fill-opacity="0.3"/>
<use href="#r3_4" transform="matrix(20.0 0 -1.453 1 1602.5 0)" fill="url(#p4)" fill-opacity="0.255"/>
<use href="#r3_0" transform="matrix(26.4 0 1.571 1 779.3 0)" fill="url(#p8)" fill-opacity="0.51"/>
<use href="#r3_1" transform="matrix(26.4 0 0.391 1 1086.3 0)" fill="url(#p8)" fill-opacity="0.6"/>
<use href="#r3_2" transform="matrix(26.4 0 0 1 1192.2 0)" fill="url(#p8)" fill-opacity="0.6"/>
<use href="#r3_3" transform="matrix(26.4 0 -0.391 1 1304.8 0)" fill="url(#p8)" fill-opacity="0.6"/>
<use href="#r3_4" transform="matrix(26.4 0 -1.453 1 1622.3 0)" fill="url(#p8)" fill-opacity="0.51"/>
<use href="#r3_0" transform="matrix(11.8 0 1.571 1 826.1 0)" fill="url(#p0)" fill-opacity="0.17"/>
<use href="#r3_1" transform="matrix(11.8 0 0.391 1 1133.1 0)" fill="url(#p0)" fill-opacity="0.2"/>
<use href="#r3_2" transform="matrix(11.8 0 0 1 1239.0 0)" fill="url(#p0)" fill-opacity="0.2"/>
<use href="#r3_3" transform="matrix(11.8 0 -0.391 1 1351.6 0)" fill="url(#p0)" fill-opacity="0.2"/>
<use href="#r3_4" transform="matrix(11.8 0 -1.453 1 1669.1 0)" fill="url(#p0)" fill-opacity="0.17"/>
<use href="#r3_0" transform="matrix(11.8 0 1.571 1 844.1 0)" fill="url(#p0)" fill-opacity="0.17"/>
<use href="#r3_1" transform="matrix(11.8 0 0.391 1 1151.1 0)" fill="url(#p0)" fill-opacity="0.2"/>
<use href="#r3_2" transform="matrix(11.8 0 0 1 1257.0 0)" fill="url(#p0)" fill-opacity="0.2"/>
<use href="#r3_3" transform="matrix(11.8 0 -0.391 1 1369.6 0)" fill="url(#p0)" fill-opacity="0.2"/>
<use href="#r3_4" transform="matrix(11.8 0 -1.453 1 1687.1 0)" fill="url(#p0)" fill-opacity="0.17"/>
<use href="#r3_0" transform="matrix(11.8 0 1.571 1 864.1 0)" fill="url(#p0)" fill-opacity="0.17"/>
<use href="#r3_1" transform="matrix(11.8 0 0.391 1 1171.1 0)" fill="url(#p0)" fill-opacity="0.2"/>
<use href="#r3_2" transform="matrix(11.8 0 0 1 1277.0 0)" fill="url(#p0)" fill-opacity="0.2"/>
<use href="#r3_3" transform="matrix(11.8 0 -0.391 1 1389.6 0)" fill="url(#p0)" fill-opacity="0.2"/>
<use href="#r3_4" transform="matrix(11.8 0 -1.453 1 1707.1 0)" fill="url(#p0)" fill-opacity="0.17"/>
<use href="#r3_0" transform="matrix(29.4 0 1.571 1 886.3 0)" fill="url(#p11)" fill-opacity="0.722"/>
<use href="#r3_1" transform="matrix(29.4 0 0.391 1 1193.3 0)" fill="url(#p11)" fill-opacity="0.85"/>
<use href="#r3_2" transform="matrix(29.4 0 0 1 1299.2 0)" fill="url(#p11)" fill-opacity="0.85"/>
<use href="#r3_3" transform="matrix(29.4 0 -0.391 1 1411.8 0)" fill="url(#p11)" fill-opacity="0.85"/>
<use href="#r3_4" transform="matrix(29.4 0 -1.453 1 1729.3 0)" fill="url(#p11)" fill-opacity="0.722"/>
<use href="#r3_0" transform="matrix(20.0 0 1.571 1 906.5 0)" fill="url(#p4)" fill-opacity="0.255"/>
<use href="#r3_1" transform="matrix(20.0 0 0.391 1 1213.5 0)" fill="url(#p4)" fill-opacity="0.3"/>
<use href="#r3_2" transform="matrix(20.0 0 0 1 1319.4 0)" fill="url(#p4)" fill-opacity="0.3"/>
<use href="#r3_3" transform="matrix(20.0 0 -0.391 1 1432.0 0)" fill="url(#p4)" fill-opacity="0.3"/>
<use href="#r3_4" transform="matrix(20.0 0 -1.453 1 1749.5 0)" fill="url(#p4)" fill-opacity="0.255"/>
<use href="#r3_0" transform="matrix(10.8 0 1.571 1 916.1 0)" fill="url(#p12)" fill-opacity="0.212"/>
<use href="#r3_1" transform="matrix(10.8 0 0.391 1 1223.1 0)" fill="url(#p12)" fill-opacity="0.25"/>
<use href="#r3_2" transform="matrix(10.8 0 0 1 1329.0 0)" fill="url(#p12)" fill-opacity="0.25"/>
<use href="#r3_3" transform="matrix(10.8 0 -0.391 1 1441.6 0)" fill="url(#p12)" fill-opacity="0.25"/>
<use href="#r3_4" transform="matrix(10.8 0 -1.453 1 1759.1 0)" fill="url(#p12)" fill-opacity="0.212"/>
<use href="#r3_0" transform="matrix(21.8 0 1.571 1 956.1 0)" fill="url(#p7)" fill-opacity="0.425"/>
<use href="#r3_1" transform="matrix(21.8 0 0.391 1 1263.1 0)" fill="url(#p7)" fill-opacity="0.5"/>
<use href="#r3_2" transform="matrix(21.8 0 0 1 1369.0 0)" fill="url(#p7)" fill-opacity="0.5"/>
<use href="#r3_3" transform="matrix(21.8 0 -0.391 1 1481.6 0)" fill="url(#p7)" fill-opacity="0.5"/>
<use href="#r3_4" transform="matrix(21.8 0 -1.453 1 1799.1 0)" fill="url(#p7)" fill-opacity="0.425"/>
<use href="#r3_0" transform="matrix(21.8 0 1.571 1 963.1 0)" fill="url(#p7)" fill-opacity="0.425"/>
<use href="#r3_1" transform="matrix(21.8 0 0.391 1 1270.1 0)" fill="url(#p7)" fill-opacity="0.5"/>
<use href="#r3_2" transform="matrix(21.8 0 0 1 1376.0 0)" fill="url(#p7)" fill-opacity="0.5"/>
<use href="#r3_3" transform="matrix(21.8 0 -0.391 1 1488.6 0)" fill="url(#p7)" fill-opacity="0.5"/>
<use href="#r3_4" transform="matrix(21.8 0 -1.453 1 1806.1 0)" fill="url(#p7)" fill-opacity="0.425"/>
<use href="#r3_0" transform="matrix(10.8 0 1.571 1 1034.1 0)" fill="url(#p12)" fill-opacity="0.102"/>
<use href="#r3_1" transform="matrix(10.8 0 0.391 1 1341.1 0)" fill="url(#p12)" fill-opacity="0.12"/>
<use href="#r3_2" transform="matrix(10.8 0 0 1 1447.0 0)" fill="url(#p12)" fill-opacity="0.12"/>
<use href="#r3_3" transform="matrix(10.8 0 -0.391 1 1559.6 0)" fill="url(#p12)" fill-opacity="0.12"/>
<use href="#r3_4" transform="matrix(10.8 0 -1.453 1 1877.1 0)" fill="url(#p12)" fill-opacity="0.102"/>
</g>
<rect x="819.0" y="255.1" width="714.8" height="49.2" fill="url(#vs)"/>
<rect x="819.0" y="261.1" width="2.2" height="43.2" fill="#000" fill-opacity="0.9"/>
<rect x="819.0" y="311" width="714.8" height="48.8" fill="url(#g4)"/>
<g>
<use href="#r4_0" transform="matrix(27.4 0 0.462 1 886.9 0)" fill="url(#p1)" fill-opacity="0.552"/>
<use href="#r4_1" transform="matrix(27.4 0 0.117 1 995.9 0)" fill="url(#p1)" fill-opacity="0.65"/>
<use href="#r4_2" transform="matrix(27.4 0 0 1 1034.2 0)" fill="url(#p1)" fill-opacity="0.65"/>
<use href="#r4_3" transform="matrix(27.4 0 -0.117 1 1074.6 0)" fill="url(#p1)" fill-opacity="0.65"/>
<use href="#r4_4" transform="matrix(27.4 0 -0.481 1 1203.8 0)" fill="url(#p1)" fill-opacity="0.552"/>
<use href="#r4_0" transform="matrix(26.4 0 0.588 1 878.8 0)" fill="url(#p8)" fill-opacity="0.51"/>
<use href="#r4_1" transform="matrix(26.4 0 0.149 1 1017.4 0)" fill="url(#p8)" fill-opacity="0.6"/>
<use href="#r4_2" transform="matrix(26.4 0 0 1 1066.2 0)" fill="url(#p8)" fill-opacity="0.6"/>
<use href="#r4_3" transform="matrix(26.4 0 -0.149 1 1117.6 0)" fill="url(#p8)" fill-opacity="0.6"/>
<use href="#r4_4" transform="matrix(26.4 0 -0.612 1 1282.0 0)" fill="url(#p8)" fill-opacity="0.51"/>
<use href="#r4_0" transform="matrix(51.6 0 1.092 1 759.9 0)" fill="url(#p13)" fill-opacity="0.88"/>
<use href="#r4_1" transform="matrix(51.6 0 0.277 1 1017.4 0)" fill="url(#p13)" fill-opacity="0.88"/>
<use href="#r4_2" transform="matrix(51.6 0 0 1 1108.0 0)" fill="url(#p13)" fill-opacity="0.88"/>
<use href="#r4_3" transform="matrix(51.6 0 -0.277 1 1203.4 0)" fill="url(#p13)" fill-opacity="0.88"/>
<use href="#r4_4" transform="matrix(51.6 0 -1.137 1 1508.8 0)" fill="url(#p13)" fill-opacity="0.88"/>
<use href="#r4_0" transform="matrix(26.4 0 1.540 1 671.3 0)" fill="url(#p8)" fill-opacity="0.595"/>
<use href="#r4_1" transform="matrix(26.4 0 0.391 1 1034.4 0)" fill="url(#p8)" fill-opacity="0.7"/>
<use href="#r4_2" transform="matrix(26.4 0 0 1 1162.2 0)" fill="url(#p8)" fill-opacity="0.7"/>
<use href="#r4_3" transform="matrix(26.4 0 -0.391 1 1296.7 0)" fill="url(#p8)" fill-opacity="0.7"/>
<use href="#r4_4" transform="matrix(26.4 0 -1.604 1 1727.4 0)" fill="url(#p8)" fill-opacity="0.595"/>
<use href="#r4_0" transform="matrix(20.0 0 1.540 1 683.5 0)" fill="url(#p4)" fill-opacity="0.297"/>
<use href="#r4_1" transform="matrix(20.0 0 0.391 1 1046.6 0)" fill="url(#p4)" fill-opacity="0.35"/>
<use href="#r4_2" transform="matrix(20.0 0 0 1 1174.4 0)" fill="url(#p4)" fill-opacity="0.35"/>
<use href="#r4_3" transform="matrix(20.0 0 -0.391 1 1308.9 0)" fill="url(#p4)" fill-opacity="0.35"/>
<use href="#r4_4" transform="matrix(20.0 0 -1.604 1 1739.6 0)" fill="url(#p4)" fill-opacity="0.297"/>
<use href="#r4_0" transform="matrix(26.4 0 1.540 1 701.3 0)" fill="url(#p8)" fill-opacity="0.51"/>
<use href="#r4_1" transform="matrix(26.4 0 0.391 1 1064.4 0)" fill="url(#p8)" fill-opacity="0.6"/>
<use href="#r4_2" transform="matrix(26.4 0 0 1 1192.2 0)" fill="url(#p8)" fill-opacity="0.6"/>
<use href="#r4_3" transform="matrix(26.4 0 -0.391 1 1326.7 0)" fill="url(#p8)" fill-opacity="0.6"/>
<use href="#r4_4" transform="matrix(26.4 0 -1.604 1 1757.4 0)" fill="url(#p8)" fill-opacity="0.51"/>
<use href="#r4_0" transform="matrix(11.8 0 1.540 1 721.1 0)" fill="url(#p0)" fill-opacity="0.128"/>
<use href="#r4_1" transform="matrix(11.8 0 0.391 1 1084.2 0)" fill="url(#p0)" fill-opacity="0.15"/>
<use href="#r4_2" transform="matrix(11.8 0 0 1 1212.0 0)" fill="url(#p0)" fill-opacity="0.15"/>
<use href="#r4_3" transform="matrix(11.8 0 -0.391 1 1346.5 0)" fill="url(#p0)" fill-opacity="0.15"/>
<use href="#r4_4" transform="matrix(11.8 0 -1.604 1 1777.2 0)" fill="url(#p0)" fill-opacity="0.128"/>
<use href="#r4_0" transform="matrix(21.8 0 1.540 1 746.1 0)" fill="url(#p7)" fill-opacity="0.255"/>
<use href="#r4_1" transform="matrix(21.8 0 0.391 1 1109.2 0)" fill="url(#p7)" fill-opacity="0.3"/>
<use href="#r4_2" transform="matrix(21.8 0 0 1 1237.0 0)" fill="url(#p7)" fill-opacity="0.3"/>
<use href="#r4_3" transform="matrix(21.8 0 -0.391 1 1371.5 0)" fill="url(#p7)" fill-opacity="0.3"/>
<use href="#r4_4" transform="matrix(21.8 0 -1.604 1 1802.2 0)" fill="url(#p7)" fill-opacity="0.255"/>
<use href="#r4_0" transform="matrix(11.8 0 1.540 1 766.1 0)" fill="url(#p0)" fill-opacity="0.17"/>
<use href="#r4_1" transform="matrix(11.8 0 0.391 1 1129.2 0)" fill="url(#p0)" fill-opacity="0.2"/>
<use href="#r4_2" transform="matrix(11.8 0 0 1 1257.0 0)" fill="url(#p0)" fill-opacity="0.2"/>
<use href="#r4_3" transform="matrix(11.8 0 -0.391 1 1391.5 0)" fill="url(#p0)" fill-opacity="0.2"/>
<use href="#r4_4" transform="matrix(11.8 0 -1.604 1 1822.2 0)" fill="url(#p0)" fill-opacity="0.17"/>
<use href="#r4_0" transform="matrix(11.8 0 1.540 1 783.1 0)" fill="url(#p0)" fill-opacity="0.102"/>
<use href="#r4_1" transform="matrix(11.8 0 0.391 1 1146.2 0)" fill="url(#p0)" fill-opacity="0.12"/>
<use href="#r4_2" transform="matrix(11.8 0 0 1 1274.0 0)" fill="url(#p0)" fill-opacity="0.12"/>
<use href="#r4_3" transform="matrix(11.8 0 -0.391 1 1408.5 0)" fill="url(#p0)" fill-opacity="0.12"/>
<use href="#r4_4" transform="matrix(11.8 0 -1.604 1 1839.2 0)" fill="url(#p0)" fill-opacity="0.102"/>
<use href="#r4_0" transform="matrix(26.4 0 1.540 1 807.3 0)" fill="url(#p8)" fill-opacity="0.595"/>
<use href="#r4_1" transform="matrix(26.4 0 0.391 1 1170.4 0)" fill="url(#p8)" fill-opacity="0.7"/>
<use href="#r4_2" transform="matrix(26.4 0 0 1 1298.2 0)" fill="url(#p8)" fill-opacity="0.7"/>
<use href="#r4_3" transform="matrix(26.4 0 -0.391 1 1432.7 0)" fill="url(#p8)" fill-opacity="0.7"/>
<use href="#r4_4" transform="matrix(26.4 0 -1.604 1 1863.4 0)" fill="url(#p8)" fill-opacity="0.595"/>
<use href="#r4_0" transform="matrix(20.0 0 1.540 1 829.5 0)" fill="url(#p4)" fill-opacity="0.255"/>
<use href="#r4_1" transform="matrix(20.0 0 0.391 1 1192.6 0)" fill="url(#p4)" fill-opacity="0.3"/>
<use href="#r4_2" transform="matrix(20.0 0 0 1 1320.4 0)" fill="url(#p4)" fill-opacity="0.3"/>
<use href="#r4_3" transform="matrix(20.0 0 -0.391 1 1454.9 0)" fill="url(#p4)" fill-opacity="0.3"/>
<use href="#r4_4" transform="matrix(20.0 0 -1.604 1 1885.6 0)" fill="url(#p4)" fill-opacity="0.255"/>
<use href="#r4_0" transform="matrix(20.0 0 1.540 1 833.5 0)" fill="url(#p4)" fill-opacity="0.255"/>
<use href="#r4_1" transform="matrix(20.0 0 0.391 1 1196.6 0)" fill="url(#p4)" fill-opacity="0.3"/>
<use href="#r4_2" transform="matrix(20.0 0 0 1 1324.4 0)" fill="url(#p4)" fill-opacity="0.3"/>
<use href="#r4_3" transform="matrix(20.0 0 -0.391 1 1458.9 0)" fill="url(#p4)" fill-opacity="0.3"/>
<use href="#r4_4" transform="matrix(20.0 0 -1.604 1 1889.6 0)" fill="url(#p4)" fill-opacity="0.255"/>
<use href="#r4_0" transform="matrix(21.8 0 1.540 1 877.1 0)" fill="url(#p7)" fill-opacity="0.468"/>
<use href="#r4_1" transform="matrix(21.8 0 0.391 1 1240.2 0)" fill="url(#p7)" fill-opacity="0.55"/>
<use href="#r4_2" transform="matrix(21.8 0 0 1 1368.0 0)" fill="url(#p7)" fill-opacity="0.55"/>
<use href="#r4_3" transform="matrix(21.8 0 -0.391 1 1502.5 0)" fill="url(#p7)" fill-opacity="0.55"/>
<use href="#r4_4" transform="matrix(21.8 0 -1.604 1 1933.2 0)" fill="url(#p7)" fill-opacity="0.468"/>
<use href="#r4_0" transform="matrix(20.9 0 1.540 1 882.3 0)" fill="url(#p14)" fill-opacity="0.383"/>
<use href="#r4_1" transform="matrix(20.9 0 0.391 1 1245.4 0)" fill="url(#p14)" fill-opacity="0.45"/>
<use href="#r4_2" transform="matrix(20.9 0 0 1 1373.2 0)" fill="url(#p14)" fill-opacity="0.45"/>
<use href="#r4_3" transform="matrix(20.9 0 -0.391 1 1507.7 0)" fill="url(#p14)" fill-opacity="0.45"/>
<use href="#r4_4" transform="matrix(20.9 0 -1.604 1 1938.4 0)" fill="url(#p14)" fill-opacity="0.383"/>
<use href="#r4_0" transform="matrix(10.8 0 1.540 1 911.1 0)" fill="url(#p12)" fill-opacity="0.085"/>
<use href="#r4_1" transform="matrix(10.8 0 0.391 1 1274.2 0)" fill="url(#p12)" fill-opacity="0.1"/>
<use href="#r4_2" transform="matrix(10.8 0 0 1 1402.0 0)" fill="url(#p12)" fill-opacity="0.1"/>
<use href="#r4_3" transform="matrix(10.8 0 -0.391 1 1536.5 0)" fill="url(#p12)" fill-opacity="0.1"/>
<use href="#r4_4" transform="matrix(10.8 0 -1.604 1 1967.2 0)" fill="url(#p12)" fill-opacity="0.085"/>
</g>
<rect x="819.0" y="311" width="714.8" height="48.8" fill="url(#vs)"/>
<rect x="819.0" y="365" width="714.8" height="48.6" fill="url(#g5)"/>
<g>
<use href="#r5_0" transform="matrix(30.4 0 0.462 1 863.0 0)" fill="url(#p15)" fill-opacity="0.663"/>
<use href="#r5_1" transform="matrix(30.4 0 0.117 1 990.5 0)" fill="url(#p15)" fill-opacity="0.78"/>
<use href="#r5_2" transform="matrix(30.4 0 0 1 1035.2 0)" fill="url(#p15)" fill-opacity="0.78"/>
<use href="#r5_3" transform="matrix(30.4 0 -0.117 1 1081.9 0)" fill="url(#p15)" fill-opacity="0.78"/>
<use href="#r5_4" transform="matrix(30.4 0 -0.502 1 1239.3 0)" fill="url(#p15)" fill-opacity="0.663"/>
<use href="#r5_0" transform="matrix(26.4 0 0.588 1 847.0 0)" fill="url(#p8)" fill-opacity="0.51"/>
<use href="#r5_1" transform="matrix(26.4 0 0.149 1 1009.3 0)" fill="url(#p8)" fill-opacity="0.6"/>
<use href="#r5_2" transform="matrix(26.4 0 0 1 1066.2 0)" fill="url(#p8)" fill-opacity="0.6"/>
<use href="#r5_3" transform="matrix(26.4 0 -0.149 1 1125.6 0)" fill="url(#p8)" fill-opacity="0.6"/>
<use href="#r5_4" transform="matrix(26.4 0 -0.639 1 1326.0 0)" fill="url(#p8)" fill-opacity="0.51"/>
<use href="#r5_0" transform="matrix(49.6 0 1.148 1 684.0 0)" fill="url(#p16)" fill-opacity="0.88"/>
<use href="#r5_1" transform="matrix(49.6 0 0.291 1 1001.0 0)" fill="url(#p16)" fill-opacity="0.88"/>
<use href="#r5_2" transform="matrix(49.6 0 0 1 1112.0 0)" fill="url(#p16)" fill-opacity="0.88"/>
<use href="#r5_3" transform="matrix(49.6 0 -0.291 1 1228.0 0)" fill="url(#p16)" fill-opacity="0.88"/>
<use href="#r5_4" transform="matrix(49.6 0 -1.248 1 1619.2 0)" fill="url(#p16)" fill-opacity="0.88"/>
<use href="#r5_0" transform="matrix(26.4 0 1.540 1 589.1 0)" fill="url(#p8)" fill-opacity="0.637"/>
<use href="#r5_1" transform="matrix(26.4 0 0.391 1 1014.3 0)" fill="url(#p8)" fill-opacity="0.75"/>
<use href="#r5_2" transform="matrix(26.4 0 0 1 1163.2 0)" fill="url(#p8)" fill-opacity="0.75"/>
<use href="#r5_3" transform="matrix(26.4 0 -0.391 1 1318.8 0)" fill="url(#p8)" fill-opacity="0.75"/>
<use href="#r5_4" transform="matrix(26.4 0 -1.674 1 1843.5 0)" fill="url(#p8)" fill-opacity="0.637"/>
<use href="#r5_0" transform="matrix(20.0 0 1.540 1 600.3 0)" fill="url(#p4)" fill-opacity="0.255"/>
<use href="#r5_1" transform="matrix(20.0 0 0.391 1 1025.5 0)" fill="url(#p4)" fill-opacity="0.3"/>
<use href="#r5_2" transform="matrix(20.0 0 0 1 1174.4 0)" fill="url(#p4)" fill-opacity="0.3"/>
<use href="#r5_3" transform="matrix(20.0 0 -0.391 1 1330.0 0)" fill="url(#p4)" fill-opacity="0.3"/>
<use href="#r5_4" transform="matrix(20.0 0 -1.674 1 1854.7 0)" fill="url(#p4)" fill-opacity="0.255"/>
<use href="#r5_0" transform="matrix(26.4 0 1.540 1 618.1 0)" fill="url(#p8)" fill-opacity="0.51"/>
<use href="#r5_1" transform="matrix(26.4 0 0.391 1 1043.3 0)" fill="url(#p8)" fill-opacity="0.6"/>
<use href="#r5_2" transform="matrix(26.4 0 0 1 1192.2 0)" fill="url(#p8)" fill-opacity="0.6"/>
<use href="#r5_3" transform="matrix(26.4 0 -0.391 1 1347.8 0)" fill="url(#p8)" fill-opacity="0.6"/>
<use href="#r5_4" transform="matrix(26.4 0 -1.674 1 1872.5 0)" fill="url(#p8)" fill-opacity="0.51"/>
<use href="#r5_0" transform="matrix(21.8 0 1.540 1 628.9 0)" fill="url(#p7)" fill-opacity="0.255"/>
<use href="#r5_1" transform="matrix(21.8 0 0.391 1 1054.1 0)" fill="url(#p7)" fill-opacity="0.3"/>
<use href="#r5_2" transform="matrix(21.8 0 0 1 1203.0 0)" fill="url(#p7)" fill-opacity="0.3"/>
<use href="#r5_3" transform="matrix(21.8 0 -0.391 1 1358.6 0)" fill="url(#p7)" fill-opacity="0.3"/>
<use href="#r5_4" transform="matrix(21.8 0 -1.674 1 1883.3 0)" fill="url(#p7)" fill-opacity="0.255"/>
<use href="#r5_0" transform="matrix(10.8 0 1.540 1 638.9 0)" fill="url(#p12)" fill-opacity="0.17"/>
<use href="#r5_1" transform="matrix(10.8 0 0.391 1 1064.1 0)" fill="url(#p12)" fill-opacity="0.2"/>
<use href="#r5_2" transform="matrix(10.8 0 0 1 1213.0 0)" fill="url(#p12)" fill-opacity="0.2"/>
<use href="#r5_3" transform="matrix(10.8 0 -0.391 1 1368.6 0)" fill="url(#p12)" fill-opacity="0.2"/>
<use href="#r5_4" transform="matrix(10.8 0 -1.674 1 1893.3 0)" fill="url(#p12)" fill-opacity="0.17"/>
<use href="#r5_0" transform="matrix(11.8 0 1.540 1 664.9 0)" fill="url(#p0)" fill-opacity="0.128"/>
<use href="#r5_1" transform="matrix(11.8 0 0.391 1 1090.1 0)" fill="url(#p0)" fill-opacity="0.15"/>
<use href="#r5_2" transform="matrix(11.8 0 0 1 1239.0 0)" fill="url(#p0)" fill-opacity="0.15"/>
<use href="#r5_3" transform="matrix(11.8 0 -0.391 1 1394.6 0)" fill="url(#p0)" fill-opacity="0.15"/>
<use href="#r5_4" transform="matrix(11.8 0 -1.674 1 1919.3 0)" fill="url(#p0)" fill-opacity="0.128"/>
<use href="#r5_0" transform="matrix(11.8 0 1.540 1 679.9 0)" fill="url(#p0)" fill-opacity="0.128"/>
<use href="#r5_1" transform="matrix(11.8 0 0.391 1 1105.1 0)" fill="url(#p0)" fill-opacity="0.15"/>
<use href="#r5_2" transform="matrix(11.8 0 0 1 1254.0 0)" fill="url(#p0)" fill-opacity="0.15"/>
<use href="#r5_3" transform="matrix(11.8 0 -0.391 1 1409.6 0)" fill="url(#p0)" fill-opacity="0.15"/>
<use href="#r5_4" transform="matrix(11.8 0 -1.674 1 1934.3 0)" fill="url(#p0)" fill-opacity="0.128"/>
<use href="#r5_0" transform="matrix(11.8 0 1.540 1 697.9 0)" fill="url(#p0)" fill-opacity="0.085"/>
<use href="#r5_1" transform="matrix(11.8 0 0.391 1 1123.1 0)" fill="url(#p0)" fill-opacity="0.1"/>
<use href="#r5_2" transform="matrix(11.8 0 0 1 1272.0 0)" fill="url(#p0)" fill-opacity="0.1"/>
<use href="#r5_3" transform="matrix(11.8 0 -0.391 1 1427.6 0)" fill="url(#p0)" fill-opacity="0.1"/>
<use href="#r5_4" transform="matrix(11.8 0 -1.674 1 1952.3 0)" fill="url(#p0)" fill-opacity="0.085"/>
<use href="#r5_0" transform="matrix(26.4 0 1.540 1 724.1 0)" fill="url(#p8)" fill-opacity="0.51"/>
<use href="#r5_1" transform="matrix(26.4 0 0.391 1 1149.3 0)" fill="url(#p8)" fill-opacity="0.6"/>
<use href="#r5_2" transform="matrix(26.4 0 0 1 1298.2 0)" fill="url(#p8)" fill-opacity="0.6"/>
<use href="#r5_3" transform="matrix(26.4 0 -0.391 1 1453.8 0)" fill="url(#p8)" fill-opacity="0.6"/>
<use href="#r5_4" transform="matrix(26.4 0 -1.674 1 1978.5 0)" fill="url(#p8)" fill-opacity="0.51"/>
<use href="#r5_0" transform="matrix(21.8 0 1.540 1 793.9 0)" fill="url(#p7)" fill-opacity="0.425"/>
<use href="#r5_1" transform="matrix(21.8 0 0.391 1 1219.1 0)" fill="url(#p7)" fill-opacity="0.5"/>
<use href="#r5_2" transform="matrix(21.8 0 0 1 1368.0 0)" fill="url(#p7)" fill-opacity="0.5"/>
<use href="#r5_3" transform="matrix(21.8 0 -0.391 1 1523.6 0)" fill="url(#p7)" fill-opacity="0.5"/>
<use href="#r5_4" transform="matrix(21.8 0 -1.674 1 2048.3 0)" fill="url(#p7)" fill-opacity="0.425"/>
<use href="#r5_0" transform="matrix(20.9 0 1.540 1 799.1 0)" fill="url(#p14)" fill-opacity="0.34"/>
<use href="#r5_1" transform="matrix(20.9 0 0.391 1 1224.3 0)" fill="url(#p14)" fill-opacity="0.4"/>
<use href="#r5_2" transform="matrix(20.9 0 0 1 1373.2 0)" fill="url(#p14)" fill-opacity="0.4"/>
<use href="#r5_3" transform="matrix(20.9 0 -0.391 1 1528.8 0)" fill="url(#p14)" fill-opacity="0.4"/>
<use href="#r5_4" transform="matrix(20.9 0 -1.674 1 2053.5 0)" fill="url(#p14)" fill-opacity="0.34"/>
</g>
<rect x="819.0" y="365" width="714.8" height="48.6" fill="url(#vs)"/>
<rect x="819.0" y="421.2" width="714.8" height="48.6" fill="url(#g6)"/>
<g>
<use href="#r6_0" transform="matrix(25.4 0 0.481 1 827.9 0)" fill="url(#p5)" fill-opacity="0.468"/>
<use href="#r6_1" transform="matrix(25.4 0 0.117 1 983.0 0)" fill="url(#p5)" fill-opacity="0.55"/>
<use href="#r6_2" transform="matrix(25.4 0 0 1 1034.2 0)" fill="url(#p5)" fill-opacity="0.55"/>
<use href="#r6_3" transform="matrix(25.4 0 -0.117 1 1087.5 0)" fill="url(#p5)" fill-opacity="0.55"/>
<use href="#r6_4" transform="matrix(25.4 0 -0.481 1 1256.7 0)" fill="url(#p5)" fill-opacity="0.468"/>
<use href="#r6_0" transform="matrix(49.6 0 0.904 1 704.4 0)" fill="url(#p16)" fill-opacity="0.88"/>
<use href="#r6_1" transform="matrix(49.6 0 0.220 1 995.7 0)" fill="url(#p16)" fill-opacity="0.88"/>
<use href="#r6_2" transform="matrix(49.6 0 0 1 1092.0 0)" fill="url(#p16)" fill-opacity="0.88"/>
<use href="#r6_3" transform="matrix(49.6 0 -0.220 1 1192.0 0)" fill="url(#p16)" fill-opacity="0.88"/>
<use href="#r6_4" transform="matrix(49.6 0 -0.904 1 1510.0 0)" fill="url(#p16)" fill-opacity="0.88"/>
<use href="#r6_0" transform="matrix(23.6 0 1.342 1 541.5 0)" fill="url(#p3)" fill-opacity="0.297"/>
<use href="#r6_1" transform="matrix(23.6 0 0.327 1 973.7 0)" fill="url(#p3)" fill-opacity="0.35"/>
<use href="#r6_2" transform="matrix(23.6 0 0 1 1116.6 0)" fill="url(#p3)" fill-opacity="0.35"/>
<use href="#r6_3" transform="matrix(23.6 0 -0.327 1 1265.0 0)" fill="url(#p3)" fill-opacity="0.35"/>
<use href="#r6_4" transform="matrix(23.6 0 -1.342 1 1736.9 0)" fill="url(#p3)" fill-opacity="0.297"/>
<use href="#r6_0" transform="matrix(12.8 0 1.487 1 494.3 0)" fill="url(#p17)" fill-opacity="0.212"/>
<use href="#r6_1" transform="matrix(12.8 0 0.362 1 973.6 0)" fill="url(#p17)" fill-opacity="0.25"/>
<use href="#r6_2" transform="matrix(12.8 0 0 1 1132.0 0)" fill="url(#p17)" fill-opacity="0.25"/>
<use href="#r6_3" transform="matrix(12.8 0 -0.362 1 1296.6 0)" fill="url(#p17)" fill-opacity="0.25"/>
<use href="#r6_4" transform="matrix(12.8 0 -1.487 1 1819.7 0)" fill="url(#p17)" fill-opacity="0.212"/>
<use href="#r6_0" transform="matrix(25.4 0 1.604 1 464.5 0)" fill="url(#p5)" fill-opacity="0.51"/>
<use href="#r6_1" transform="matrix(25.4 0 0.391 1 981.4 0)" fill="url(#p5)" fill-opacity="0.6"/>
<use href="#r6_2" transform="matrix(25.4 0 0 1 1152.2 0)" fill="url(#p5)" fill-opacity="0.6"/>
<use href="#r6_3" transform="matrix(25.4 0 -0.391 1 1329.7 0)" fill="url(#p5)" fill-opacity="0.6"/>
<use href="#r6_4" transform="matrix(25.4 0 -1.604 1 1893.8 0)" fill="url(#p5)" fill-opacity="0.51"/>
<use href="#r6_0" transform="matrix(12.8 0 1.604 1 496.3 0)" fill="url(#p17)" fill-opacity="0.17"/>
<use href="#r6_1" transform="matrix(12.8 0 0.391 1 1013.2 0)" fill="url(#p17)" fill-opacity="0.2"/>
<use href="#r6_2" transform="matrix(12.8 0 0 1 1184.0 0)" fill="url(#p17)" fill-opacity="0.2"/>
<use href="#r6_3" transform="matrix(12.8 0 -0.391 1 1361.5 0)" fill="url(#p17)" fill-opacity="0.2"/>
<use href="#r6_4" transform="matrix(12.8 0 -1.604 1 1925.6 0)" fill="url(#p17)" fill-opacity="0.17"/>
<use href="#r6_0" transform="matrix(26.4 0 1.604 1 513.5 0)" fill="url(#p8)" fill-opacity="0.595"/>
<use href="#r6_1" transform="matrix(26.4 0 0.391 1 1030.4 0)" fill="url(#p8)" fill-opacity="0.7"/>
<use href="#r6_2" transform="matrix(26.4 0 0 1 1201.2 0)" fill="url(#p8)" fill-opacity="0.7"/>
<use href="#r6_3" transform="matrix(26.4 0 -0.391 1 1378.7 0)" fill="url(#p8)" fill-opacity="0.7"/>
<use href="#r6_4" transform="matrix(26.4 0 -1.604 1 1942.8 0)" fill="url(#p8)" fill-opacity="0.595"/>
<use href="#r6_0" transform="matrix(11.8 0 1.604 1 574.3 0)" fill="url(#p0)" fill-opacity="0.085"/>
<use href="#r6_1" transform="matrix(11.8 0 0.391 1 1091.2 0)" fill="url(#p0)" fill-opacity="0.1"/>
<use href="#r6_2" transform="matrix(11.8 0 0 1 1262.0 0)" fill="url(#p0)" fill-opacity="0.1"/>
<use href="#r6_3" transform="matrix(11.8 0 -0.391 1 1439.5 0)" fill="url(#p0)" fill-opacity="0.1"/>
<use href="#r6_4" transform="matrix(11.8 0 -1.604 1 2003.6 0)" fill="url(#p0)" fill-opacity="0.085"/>
<use href="#r6_0" transform="matrix(11.8 0 1.604 1 601.3 0)" fill="url(#p0)" fill-opacity="0.085"/>
<use href="#r6_1" transform="matrix(11.8 0 0.391 1 1118.2 0)" fill="url(#p0)" fill-opacity="0.1"/>
<use href="#r6_2" transform="matrix(11.8 0 0 1 1289.0 0)" fill="url(#p0)" fill-opacity="0.1"/>
<use href="#r6_3" transform="matrix(11.8 0 -0.391 1 1466.5 0)" fill="url(#p0)" fill-opacity="0.1"/>
<use href="#r6_4" transform="matrix(11.8 0 -1.604 1 2030.6 0)" fill="url(#p0)" fill-opacity="0.085"/>
<use href="#r6_0" transform="matrix(26.4 0 1.604 1 607.5 0)" fill="url(#p8)" fill-opacity="0.595"/>
<use href="#r6_1" transform="matrix(26.4 0 0.391 1 1124.4 0)" fill="url(#p8)" fill-opacity="0.7"/>
<use href="#r6_2" transform="matrix(26.4 0 0 1 1295.2 0)" fill="url(#p8)" fill-opacity="0.7"/>
<use href="#r6_3" transform="matrix(26.4 0 -0.391 1 1472.7 0)" fill="url(#p8)" fill-opacity="0.7"/>
<use href="#r6_4" transform="matrix(26.4 0 -1.604 1 2036.8 0)" fill="url(#p8)" fill-opacity="0.595"/>
<use href="#r6_0" transform="matrix(11.8 0 1.604 1 684.3 0)" fill="url(#p0)" fill-opacity="0.085"/>
<use href="#r6_1" transform="matrix(11.8 0 0.391 1 1201.2 0)" fill="url(#p0)" fill-opacity="0.1"/>
<use href="#r6_2" transform="matrix(11.8 0 0 1 1372.0 0)" fill="url(#p0)" fill-opacity="0.1"/>
<use href="#r6_3" transform="matrix(11.8 0 -0.391 1 1549.5 0)" fill="url(#p0)" fill-opacity="0.1"/>
<use href="#r6_4" transform="matrix(11.8 0 -1.604 1 2113.6 0)" fill="url(#p0)" fill-opacity="0.085"/>
</g>
<rect x="819.0" y="421.2" width="714.8" height="48.6" fill="url(#vs)"/>
<rect x="819.0" y="475.5" width="714.8" height="49.0" fill="url(#g7)"/>
<g>
<use href="#r7_0" transform="matrix(11.8 0 0.513 1 791.3 0)" fill="url(#p0)" fill-opacity="0.068"/>
<use href="#r7_1" transform="matrix(11.8 0 0.107 1 986.1 0)" fill="url(#p0)" fill-opacity="0.08"/>
<use href="#r7_2" transform="matrix(11.8 0 0 1 1039.0 0)" fill="url(#p0)" fill-opacity="0.08"/>
<use href="#r7_3" transform="matrix(11.8 0 -0.107 1 1093.6 0)" fill="url(#p0)" fill-opacity="0.08"/>
<use href="#r7_4" transform="matrix(11.8 0 -0.513 1 1304.6 0)" fill="url(#p0)" fill-opacity="0.068"/>
<use href="#r7_0" transform="matrix(28.4 0 1.213 1 516.8 0)" fill="url(#p18)" fill-opacity="0.425"/>
<use href="#r7_1" transform="matrix(28.4 0 0.254 1 977.2 0)" fill="url(#p18)" fill-opacity="0.5"/>
<use href="#r7_2" transform="matrix(28.4 0 0 1 1102.2 0)" fill="url(#p18)" fill-opacity="0.5"/>
<use href="#r7_3" transform="matrix(28.4 0 -0.254 1 1231.3 0)" fill="url(#p18)" fill-opacity="0.5"/>
<use href="#r7_4" transform="matrix(28.4 0 -1.213 1 1730.1 0)" fill="url(#p18)" fill-opacity="0.425"/>
<use href="#r7_0" transform="matrix(28.6 0 1.556 1 379.4 0)" fill="url(#p19)" fill-opacity="0.6"/>
<use href="#r7_1" transform="matrix(28.6 0 0.326 1 969.7 0)" fill="url(#p19)" fill-opacity="0.6"/>
<use href="#r7_2" transform="matrix(28.6 0 0 1 1130.0 0)" fill="url(#p19)" fill-opacity="0.6"/>
<use href="#r7_3" transform="matrix(28.6 0 -0.326 1 1295.5 0)" fill="url(#p19)" fill-opacity="0.6"/>
<use href="#r7_4" transform="matrix(28.6 0 -1.556 1 1935.0 0)" fill="url(#p19)" fill-opacity="0.6"/>
<use href="#r7_0" transform="matrix(27.4 0 1.711 1 330.6 0)" fill="url(#p1)" fill-opacity="0.595"/>
<use href="#r7_1" transform="matrix(27.4 0 0.358 1 979.9 0)" fill="url(#p1)" fill-opacity="0.7"/>
<use href="#r7_2" transform="matrix(27.4 0 0 1 1156.2 0)" fill="url(#p1)" fill-opacity="0.7"/>
<use href="#r7_3" transform="matrix(27.4 0 -0.358 1 1338.2 0)" fill="url(#p1)" fill-opacity="0.7"/>
<use href="#r7_4" transform="matrix(27.4 0 -1.711 1 2041.7 0)" fill="url(#p1)" fill-opacity="0.595"/>
<use href="#r7_0" transform="matrix(11.8 0 1.711 1 363.4 0)" fill="url(#p0)" fill-opacity="0.085"/>
<use href="#r7_1" transform="matrix(11.8 0 0.358 1 1012.7 0)" fill="url(#p0)" fill-opacity="0.1"/>
<use href="#r7_2" transform="matrix(11.8 0 0 1 1189.0 0)" fill="url(#p0)" fill-opacity="0.1"/>
<use href="#r7_3" transform="matrix(11.8 0 -0.358 1 1371.0 0)" fill="url(#p0)" fill-opacity="0.1"/>
<use href="#r7_4" transform="matrix(11.8 0 -1.711 1 2074.5 0)" fill="url(#p0)" fill-opacity="0.085"/>
<use href="#r7_0" transform="matrix(11.8 0 1.711 1 373.4 0)" fill="url(#p0)" fill-opacity="0.128"/>
<use href="#r7_1" transform="matrix(11.8 0 0.358 1 1022.7 0)" fill="url(#p0)" fill-opacity="0.15"/>
<use href="#r7_2" transform="matrix(11.8 0 0 1 1199.0 0)" fill="url(#p0)" fill-opacity="0.15"/>
<use href="#r7_3" transform="matrix(11.8 0 -0.358 1 1381.0 0)" fill="url(#p0)" fill-opacity="0.15"/>
<use href="#r7_4" transform="matrix(11.8 0 -1.711 1 2084.5 0)" fill="url(#p0)" fill-opacity="0.128"/>
<use href="#r7_0" transform="matrix(11.8 0 1.711 1 391.4 0)" fill="url(#p0)" fill-opacity="0.085"/>
<use href="#r7_1" transform="matrix(11.8 0 0.358 1 1040.7 0)" fill="url(#p0)" fill-opacity="0.1"/>
<use href="#r7_2" transform="matrix(11.8 0 0 1 1217.0 0)" fill="url(#p0)" fill-opacity="0.1"/>
<use href="#r7_3" transform="matrix(11.8 0 -0.358 1 1399.0 0)" fill="url(#p0)" fill-opacity="0.1"/>
<use href="#r7_4" transform="matrix(11.8 0 -1.711 1 2102.5 0)" fill="url(#p0)" fill-opacity="0.085"/>
<use href="#r7_0" transform="matrix(26.4 0 1.711 1 472.6 0)" fill="url(#p8)" fill-opacity="0.552"/>
<use href="#r7_1" transform="matrix(26.4 0 0.358 1 1121.9 0)" fill="url(#p8)" fill-opacity="0.65"/>
<use href="#r7_2" transform="matrix(26.4 0 0 1 1298.2 0)" fill="url(#p8)" fill-opacity="0.65"/>
<use href="#r7_3" transform="matrix(26.4 0 -0.358 1 1480.2 0)" fill="url(#p8)" fill-opacity="0.65"/>
<use href="#r7_4" transform="matrix(26.4 0 -1.711 1 2183.7 0)" fill="url(#p8)" fill-opacity="0.552"/>
<use href="#r7_0" transform="matrix(11.8 0 1.711 1 533.4 0)" fill="url(#p0)" fill-opacity="0.068"/>
<use href="#r7_1" transform="matrix(11.8 0 0.358 1 1182.7 0)" fill="url(#p0)" fill-opacity="0.08"/>
<use href="#r7_2" transform="matrix(11.8 0 0 1 1359.0 0)" fill="url(#p0)" fill-opacity="0.08"/>
<use href="#r7_3" transform="matrix(11.8 0 -0.358 1 1541.0 0)" fill="url(#p0)" fill-opacity="0.08"/>
<use href="#r7_4" transform="matrix(11.8 0 -1.711 1 2244.5 0)" fill="url(#p0)" fill-opacity="0.068"/>
<use href="#r7_0" transform="matrix(11.8 0 1.711 1 546.4 0)" fill="url(#p0)" fill-opacity="0.068"/>
<use href="#r7_1" transform="matrix(11.8 0 0.358 1 1195.7 0)" fill="url(#p0)" fill-opacity="0.08"/>
<use href="#r7_2" transform="matrix(11.8 0 0 1 1372.0 0)" fill="url(#p0)" fill-opacity="0.08"/>
<use href="#r7_3" transform="matrix(11.8 0 -0.358 1 1554.0 0)" fill="url(#p0)" fill-opacity="0.08"/>
<use href="#r7_4" transform="matrix(11.8 0 -1.711 1 2257.5 0)" fill="url(#p0)" fill-opacity="0.068"/>
</g>
<rect x="819.0" y="475.5" width="714.8" height="49.0" fill="url(#vs)"/>
<rect x="819.0" y="531" width="714.8" height="48.8" fill="url(#g8)"/>
<g>
<use href="#r8_0" transform="matrix(28.6 0 1.022 1 552.4 0)" fill="url(#p19)" fill-opacity="0.7"/>
<use href="#r8_1" transform="matrix(28.6 0 0.259 1 961.1 0)" fill="url(#p19)" fill-opacity="0.7"/>
<use href="#r8_2" transform="matrix(28.6 0 0 1 1103.0 0)" fill="url(#p19)" fill-opacity="0.7"/>
<use href="#r8_3" transform="matrix(28.6 0 -0.259 1 1249.3 0)" fill="url(#p19)" fill-opacity="0.7"/>
<use href="#r8_4" transform="matrix(28.6 0 -1.065 1 1712.3 0)" fill="url(#p19)" fill-opacity="0.7"/>
<use href="#r8_0" transform="matrix(30.4 0 1.470 1 337.2 0)" fill="url(#p15)" fill-opacity="0.595"/>
<use href="#r8_1" transform="matrix(30.4 0 0.373 1 925.1 0)" fill="url(#p15)" fill-opacity="0.7"/>
<use href="#r8_2" transform="matrix(30.4 0 0 1 1129.2 0)" fill="url(#p15)" fill-opacity="0.7"/>
<use href="#r8_3" transform="matrix(30.4 0 -0.373 1 1339.7 0)" fill="url(#p15)" fill-opacity="0.7"/>
<use href="#r8_4" transform="matrix(30.4 0 -1.531 1 2005.6 0)" fill="url(#p15)" fill-opacity="0.595"/>
<use href="#r8_0" transform="matrix(26.4 0 1.540 1 364.5 0)" fill="url(#p8)" fill-opacity="0.595"/>
<use href="#r8_1" transform="matrix(26.4 0 0.391 1 980.4 0)" fill="url(#p8)" fill-opacity="0.7"/>
<use href="#r8_2" transform="matrix(26.4 0 0 1 1194.2 0)" fill="url(#p8)" fill-opacity="0.7"/>
<use href="#r8_3" transform="matrix(26.4 0 -0.391 1 1414.7 0)" fill="url(#p8)" fill-opacity="0.7"/>
<use href="#r8_4" transform="matrix(26.4 0 -1.604 1 2112.3 0)" fill="url(#p8)" fill-opacity="0.595"/>
<use href="#r8_0" transform="matrix(28.4 0 1.540 1 465.5 0)" fill="url(#p18)" fill-opacity="0.637"/>
<use href="#r8_1" transform="matrix(28.4 0 0.391 1 1081.4 0)" fill="url(#p18)" fill-opacity="0.75"/>
<use href="#r8_2" transform="matrix(28.4 0 0 1 1295.2 0)" fill="url(#p18)" fill-opacity="0.75"/>
<use href="#r8_3" transform="matrix(28.4 0 -0.391 1 1515.7 0)" fill="url(#p18)" fill-opacity="0.75"/>
<use href="#r8_4" transform="matrix(28.4 0 -1.604 1 2213.3 0)" fill="url(#p18)" fill-opacity="0.637"/>
<use href="#r8_0" transform="matrix(11.8 0 1.540 1 507.3 0)" fill="url(#p0)" fill-opacity="0.212"/>
<use href="#r8_1" transform="matrix(11.8 0 0.391 1 1123.2 0)" fill="url(#p0)" fill-opacity="0.25"/>
<use href="#r8_2" transform="matrix(11.8 0 0 1 1337.0 0)" fill="url(#p0)" fill-opacity="0.25"/>
<use href="#r8_3" transform="matrix(11.8 0 -0.391 1 1557.5 0)" fill="url(#p0)" fill-opacity="0.25"/>
<use href="#r8_4" transform="matrix(11.8 0 -1.604 1 2255.1 0)" fill="url(#p0)" fill-opacity="0.212"/>
<use href="#r8_0" transform="matrix(11.8 0 1.540 1 527.3 0)" fill="url(#p0)" fill-opacity="0.17"/>
<use href="#r8_1" transform="matrix(11.8 0 0.391 1 1143.2 0)" fill="url(#p0)" fill-opacity="0.2"/>
<use href="#r8_2" transform="matrix(11.8 0 0 1 1357.0 0)" fill="url(#p0)" fill-opacity="0.2"/>
<use href="#r8_3" transform="matrix(11.8 0 -0.391 1 1577.5 0)" fill="url(#p0)" fill-opacity="0.2"/>
<use href="#r8_4" transform="matrix(11.8 0 -1.604 1 2275.1 0)" fill="url(#p0)" fill-opacity="0.17"/>
<use href="#r8_0" transform="matrix(23.6 0 1.540 1 538.9 0)" fill="url(#p3)" fill-opacity="0.383"/>
<use href="#r8_1" transform="matrix(23.6 0 0.391 1 1154.8 0)" fill="url(#p3)" fill-opacity="0.45"/>
<use href="#r8_2" transform="matrix(23.6 0 0 1 1368.6 0)" fill="url(#p3)" fill-opacity="0.45"/>
<use href="#r8_3" transform="matrix(23.6 0 -0.391 1 1589.1 0)" fill="url(#p3)" fill-opacity="0.45"/>
<use href="#r8_4" transform="matrix(23.6 0 -1.604 1 2286.7 0)" fill="url(#p3)" fill-opacity="0.383"/>
<use href="#r8_0" transform="matrix(10.8 0 1.540 1 604.3 0)" fill="url(#p12)" fill-opacity="0.085"/>
<use href="#r8_1" transform="matrix(10.8 0 0.391 1 1220.2 0)" fill="url(#p12)" fill-opacity="0.1"/>
<use href="#r8_2" transform="matrix(10.8 0 0 1 1434.0 0)" fill="url(#p12)" fill-opacity="0.1"/>
<use href="#r8_3" transform="matrix(10.8 0 -0.391 1 1654.5 0)" fill="url(#p12)" fill-opacity="0.1"/>
<use href="#r8_4" transform="matrix(10.8 0 -1.604 1 2352.1 0)" fill="url(#p12)" fill-opacity="0.085"/>
<use href="#r8_0" transform="matrix(10.8 0 1.540 1 614.3 0)" fill="url(#p12)" fill-opacity="0.085"/>
<use href="#r8_1" transform="matrix(10.8 0 0.391 1 1230.2 0)" fill="url(#p12)" fill-opacity="0.1"/>
<use href="#r8_2" transform="matrix(10.8 0 0 1 1444.0 0)" fill="url(#p12)" fill-opacity="0.1"/>
<use href="#r8_3" transform="matrix(10.8 0 -0.391 1 1664.5 0)" fill="url(#p12)" fill-opacity="0.1"/>
<use href="#r8_4" transform="matrix(10.8 0 -1.604 1 2362.1 0)" fill="url(#p12)" fill-opacity="0.085"/>
</g>
<rect x="819.0" y="531" width="714.8" height="48.8" fill="url(#vs)"/>
<rect x="819.0" y="537" width="2.2" height="42.8" fill="#000" fill-opacity="0.9"/>
<rect x="819.0" y="585.3" width="714.8" height="49.2" fill="url(#g9)"/>
<g>
<use href="#r9_0" transform="matrix(26.4 0 0.491 1 744.9 0)" fill="url(#p8)" fill-opacity="0.425"/>
<use href="#r9_1" transform="matrix(26.4 0 0.117 1 965.7 0)" fill="url(#p8)" fill-opacity="0.5"/>
<use href="#r9_2" transform="matrix(26.4 0 0 1 1036.2 0)" fill="url(#p8)" fill-opacity="0.5"/>
<use href="#r9_3" transform="matrix(26.4 0 -0.107 1 1102.6 0)" fill="url(#p8)" fill-opacity="0.5"/>
<use href="#r9_4" transform="matrix(26.4 0 -0.513 1 1358.3 0)" fill="url(#p8)" fill-opacity="0.425"/>
<use href="#r9_0" transform="matrix(25.4 0 1.340 1 319.8 0)" fill="url(#p5)" fill-opacity="0.51"/>
<use href="#r9_1" transform="matrix(25.4 0 0.320 1 922.0 0)" fill="url(#p5)" fill-opacity="0.6"/>
<use href="#r9_2" transform="matrix(25.4 0 0 1 1114.2 0)" fill="url(#p5)" fill-opacity="0.6"/>
<use href="#r9_3" transform="matrix(25.4 0 -0.293 1 1295.4 0)" fill="url(#p5)" fill-opacity="0.6"/>
<use href="#r9_4" transform="matrix(25.4 0 -1.400 1 1992.7 0)" fill="url(#p5)" fill-opacity="0.51"/>
<use href="#r9_0" transform="matrix(26.4 0 1.474 1 249.4 0)" fill="url(#p8)" fill-opacity="0.51"/>
<use href="#r9_1" transform="matrix(26.4 0 0.352 1 911.8 0)" fill="url(#p8)" fill-opacity="0.6"/>
<use href="#r9_2" transform="matrix(26.4 0 0 1 1123.2 0)" fill="url(#p8)" fill-opacity="0.6"/>
<use href="#r9_3" transform="matrix(26.4 0 -0.323 1 1322.5 0)" fill="url(#p8)" fill-opacity="0.6"/>
<use href="#r9_4" transform="matrix(26.4 0 -1.540 1 2089.5 0)" fill="url(#p8)" fill-opacity="0.51"/>
<use href="#r9_0" transform="matrix(25.4 0 1.638 1 183.3 0)" fill="url(#p5)" fill-opacity="0.552"/>
<use href="#r9_1" transform="matrix(25.4 0 0.391 1 919.3 0)" fill="url(#p5)" fill-opacity="0.65"/>
<use href="#r9_2" transform="matrix(25.4 0 0 1 1154.2 0)" fill="url(#p5)" fill-opacity="0.65"/>
<use href="#r9_3" transform="matrix(25.4 0 -0.358 1 1375.7 0)" fill="url(#p5)" fill-opacity="0.65"/>
<use href="#r9_4" transform="matrix(25.4 0 -1.711 1 2227.9 0)" fill="url(#p5)" fill-opacity="0.552"/>
<use href="#r9_0" transform="matrix(23.6 0 1.638 1 223.7 0)" fill="url(#p3)" fill-opacity="0.383"/>
<use href="#r9_1" transform="matrix(23.6 0 0.391 1 959.7 0)" fill="url(#p3)" fill-opacity="0.45"/>
<use href="#r9_2" transform="matrix(23.6 0 0 1 1194.6 0)" fill="url(#p3)" fill-opacity="0.45"/>
<use href="#r9_3" transform="matrix(23.6 0 -0.358 1 1416.1 0)" fill="url(#p3)" fill-opacity="0.45"/>
<use href="#r9_4" transform="matrix(23.6 0 -1.711 1 2268.3 0)" fill="url(#p3)" fill-opacity="0.383"/>
<use href="#r9_0" transform="matrix(12.8 0 1.638 1 269.1 0)" fill="url(#p17)" fill-opacity="0.102"/>
<use href="#r9_1" transform="matrix(12.8 0 0.391 1 1005.1 0)" fill="url(#p17)" fill-opacity="0.12"/>
<use href="#r9_2" transform="matrix(12.8 0 0 1 1240.0 0)" fill="url(#p17)" fill-opacity="0.12"/>
<use href="#r9_3" transform="matrix(12.8 0 -0.358 1 1461.5 0)" fill="url(#p17)" fill-opacity="0.12"/>
<use href="#r9_4" transform="matrix(12.8 0 -1.711 1 2313.7 0)" fill="url(#p17)" fill-opacity="0.102"/>
<use href="#r9_0" transform="matrix(23.6 0 1.638 1 319.7 0)" fill="url(#p3)" fill-opacity="0.383"/>
<use href="#r9_1" transform="matrix(23.6 0 0.391 1 1055.7 0)" fill="url(#p3)" fill-opacity="0.45"/>
<use href="#r9_2" transform="matrix(23.6 0 0 1 1290.6 0)" fill="url(#p3)" fill-opacity="0.45"/>
<use href="#r9_3" transform="matrix(23.6 0 -0.358 1 1512.1 0)" fill="url(#p3)" fill-opacity="0.45"/>
<use href="#r9_4" transform="matrix(23.6 0 -1.711 1 2364.3 0)" fill="url(#p3)" fill-opacity="0.383"/>
<use href="#r9_0" transform="matrix(11.8 0 1.638 1 378.1 0)" fill="url(#p0)" fill-opacity="0.085"/>
<use href="#r9_1" transform="matrix(11.8 0 0.391 1 1114.1 0)" fill="url(#p0)" fill-opacity="0.1"/>
<use href="#r9_2" transform="matrix(11.8 0 0 1 1349.0 0)" fill="url(#p0)" fill-opacity="0.1"/>
<use href="#r9_3" transform="matrix(11.8 0 -0.358 1 1570.5 0)" fill="url(#p0)" fill-opacity="0.1"/>
<use href="#r9_4" transform="matrix(11.8 0 -1.711 1 2422.7 0)" fill="url(#p0)" fill-opacity="0.085"/>
<use href="#r9_0" transform="matrix(11.8 0 1.638 1 401.1 0)" fill="url(#p0)" fill-opacity="0.085"/>
<use href="#r9_1" transform="matrix(11.8 0 0.391 1 1137.1 0)" fill="url(#p0)" fill-opacity="0.1"/>
<use href="#r9_2" transform="matrix(11.8 0 0 1 1372.0 0)" fill="url(#p0)" fill-opacity="0.1"/>
<use href="#r9_3" transform="matrix(11.8 0 -0.358 1 1593.5 0)" fill="url(#p0)" fill-opacity="0.1"/>
<use href="#r9_4" transform="matrix(11.8 0 -1.711 1 2445.7 0)" fill="url(#p0)" fill-opacity="0.085"/>
<use href="#r9_0" transform="matrix(11.3 0 1.638 1 457.1 0)" fill="url(#p6)" fill-opacity="0.102"/>
<use href="#r9_1" transform="matrix(11.3 0 0.391 1 1193.1 0)" fill="url(#p6)" fill-opacity="0.12"/>
<use href="#r9_2" transform="matrix(11.3 0 0 1 1428.0 0)" fill="url(#p6)" fill-opacity="0.12"/>
<use href="#r9_3" transform="matrix(11.3 0 -0.358 1 1649.5 0)" fill="url(#p6)" fill-opacity="0.12"/>
<use href="#r9_4" transform="matrix(11.3 0 -1.711 1 2501.7 0)" fill="url(#p6)" fill-opacity="0.102"/>
</g>
<rect x="819.0" y="585.3" width="714.8" height="49.2" fill="url(#vs)"/>
<rect x="819.0" y="639.8" width="714.8" height="48.9" fill="url(#g10)"/>
<g>
<use href="#r10_0" transform="matrix(11.8 0 0.444 1 734.2 0)" fill="url(#p0)" fill-opacity="0.068"/>
<use href="#r10_1" transform="matrix(11.8 0 0.117 1 945.1 0)" fill="url(#p0)" fill-opacity="0.08"/>
<use href="#r10_2" transform="matrix(11.8 0 0 1 1022.0 0)" fill="url(#p0)" fill-opacity="0.08"/>
<use href="#r10_3" transform="matrix(11.8 0 -0.117 1 1100.9 0)" fill="url(#p0)" fill-opacity="0.08"/>
<use href="#r10_4" transform="matrix(11.8 0 -0.491 1 1356.9 0)" fill="url(#p0)" fill-opacity="0.068"/>
<use href="#r10_0" transform="matrix(11.8 0 0.444 1 756.2 0)" fill="url(#p0)" fill-opacity="0.102"/>
<use href="#r10_1" transform="matrix(11.8 0 0.117 1 967.1 0)" fill="url(#p0)" fill-opacity="0.12"/>
<use href="#r10_2" transform="matrix(11.8 0 0 1 1044.0 0)" fill="url(#p0)" fill-opacity="0.12"/>
<use href="#r10_3" transform="matrix(11.8 0 -0.117 1 1122.9 0)" fill="url(#p0)" fill-opacity="0.12"/>
<use href="#r10_4" transform="matrix(11.8 0 -0.491 1 1378.9 0)" fill="url(#p0)" fill-opacity="0.102"/>
<use href="#r10_0" transform="matrix(28.4 0 1.319 1 267.5 0)" fill="url(#p18)" fill-opacity="0.552"/>
<use href="#r10_1" transform="matrix(28.4 0 0.348 1 893.7 0)" fill="url(#p18)" fill-opacity="0.65"/>
<use href="#r10_2" transform="matrix(28.4 0 0 1 1122.2 0)" fill="url(#p18)" fill-opacity="0.65"/>
<use href="#r10_3" transform="matrix(28.4 0 -0.348 1 1356.6 0)" fill="url(#p18)" fill-opacity="0.65"/>
<use href="#r10_4" transform="matrix(28.4 0 -1.460 1 2116.7 0)" fill="url(#p18)" fill-opacity="0.552"/>
<use href="#r10_0" transform="matrix(23.6 0 1.481 1 179.2 0)" fill="url(#p3)" fill-opacity="0.255"/>
<use href="#r10_1" transform="matrix(23.6 0 0.391 1 882.2 0)" fill="url(#p3)" fill-opacity="0.3"/>
<use href="#r10_2" transform="matrix(23.6 0 0 1 1138.6 0)" fill="url(#p3)" fill-opacity="0.3"/>
<use href="#r10_3" transform="matrix(23.6 0 -0.391 1 1401.7 0)" fill="url(#p3)" fill-opacity="0.3"/>
<use href="#r10_4" transform="matrix(23.6 0 -1.638 1 2254.9 0)" fill="url(#p3)" fill-opacity="0.255"/>
<use href="#r10_0" transform="matrix(12.8 0 1.481 1 199.6 0)" fill="url(#p17)" fill-opacity="0.212"/>
<use href="#r10_1" transform="matrix(12.8 0 0.391 1 902.6 0)" fill="url(#p17)" fill-opacity="0.25"/>
<use href="#r10_2" transform="matrix(12.8 0 0 1 1159.0 0)" fill="url(#p17)" fill-opacity="0.25"/>
<use href="#r10_3" transform="matrix(12.8 0 -0.391 1 1422.1 0)" fill="url(#p17)" fill-opacity="0.25"/>
<use href="#r10_4" transform="matrix(12.8 0 -1.638 1 2275.3 0)" fill="url(#p17)" fill-opacity="0.212"/>
<use href="#r10_0" transform="matrix(25.4 0 1.481 1 213.8 0)" fill="url(#p5)" fill-opacity="0.255"/>
<use href="#r10_1" transform="matrix(25.4 0 0.391 1 916.8 0)" fill="url(#p5)" fill-opacity="0.3"/>
<use href="#r10_2" transform="matrix(25.4 0 0 1 1173.2 0)" fill="url(#p5)" fill-opacity="0.3"/>
<use href="#r10_3" transform="matrix(25.4 0 -0.391 1 1436.3 0)" fill="url(#p5)" fill-opacity="0.3"/>
<use href="#r10_4" transform="matrix(25.4 0 -1.638 1 2289.5 0)" fill="url(#p5)" fill-opacity="0.255"/>
<use href="#r10_0" transform="matrix(23.6 0 1.481 1 234.2 0)" fill="url(#p3)" fill-opacity="0.255"/>
<use href="#r10_1" transform="matrix(23.6 0 0.391 1 937.2 0)" fill="url(#p3)" fill-opacity="0.3"/>
<use href="#r10_2" transform="matrix(23.6 0 0 1 1193.6 0)" fill="url(#p3)" fill-opacity="0.3"/>
<use href="#r10_3" transform="matrix(23.6 0 -0.391 1 1456.7 0)" fill="url(#p3)" fill-opacity="0.3"/>
<use href="#r10_4" transform="matrix(23.6 0 -1.638 1 2309.9 0)" fill="url(#p3)" fill-opacity="0.255"/>
<use href="#r10_0" transform="matrix(11.8 0 1.481 1 252.6 0)" fill="url(#p0)" fill-opacity="0.128"/>
<use href="#r10_1" transform="matrix(11.8 0 0.391 1 955.6 0)" fill="url(#p0)" fill-opacity="0.15"/>
<use href="#r10_2" transform="matrix(11.8 0 0 1 1212.0 0)" fill="url(#p0)" fill-opacity="0.15"/>
<use href="#r10_3" transform="matrix(11.8 0 -0.391 1 1475.1 0)" fill="url(#p0)" fill-opacity="0.15"/>
<use href="#r10_4" transform="matrix(11.8 0 -1.638 1 2328.3 0)" fill="url(#p0)" fill-opacity="0.128"/>
<use href="#r10_0" transform="matrix(25.4 0 1.481 1 330.8 0)" fill="url(#p5)" fill-opacity="0.468"/>
<use href="#r10_1" transform="matrix(25.4 0 0.391 1 1033.8 0)" fill="url(#p5)" fill-opacity="0.55"/>
<use href="#r10_2" transform="matrix(25.4 0 0 1 1290.2 0)" fill="url(#p5)" fill-opacity="0.55"/>
<use href="#r10_3" transform="matrix(25.4 0 -0.391 1 1553.3 0)" fill="url(#p5)" fill-opacity="0.55"/>
<use href="#r10_4" transform="matrix(25.4 0 -1.638 1 2406.5 0)" fill="url(#p5)" fill-opacity="0.468"/>
<use href="#r10_0" transform="matrix(11.8 0 1.481 1 377.6 0)" fill="url(#p0)" fill-opacity="0.17"/>
<use href="#r10_1" transform="matrix(11.8 0 0.391 1 1080.6 0)" fill="url(#p0)" fill-opacity="0.2"/>
<use href="#r10_2" transform="matrix(11.8 0 0 1 1337.0 0)" fill="url(#p0)" fill-opacity="0.2"/>
<use href="#r10_3" transform="matrix(11.8 0 -0.391 1 1600.1 0)" fill="url(#p0)" fill-opacity="0.2"/>
<use href="#r10_4" transform="matrix(11.8 0 -1.638 1 2453.3 0)" fill="url(#p0)" fill-opacity="0.17"/>
<use href="#r10_0" transform="matrix(11.8 0 1.481 1 392.6 0)" fill="url(#p0)" fill-opacity="0.128"/>
<use href="#r10_1" transform="matrix(11.8 0 0.391 1 1095.6 0)" fill="url(#p0)" fill-opacity="0.15"/>
<use href="#r10_2" transform="matrix(11.8 0 0 1 1352.0 0)" fill="url(#p0)" fill-opacity="0.15"/>
<use href="#r10_3" transform="matrix(11.8 0 -0.391 1 1615.1 0)" fill="url(#p0)" fill-opacity="0.15"/>
<use href="#r10_4" transform="matrix(11.8 0 -1.638 1 2468.3 0)" fill="url(#p0)" fill-opacity="0.128"/>
<use href="#r10_0" transform="matrix(25.4 0 1.481 1 403.8 0)" fill="url(#p5)" fill-opacity="0.383"/>
<use href="#r10_1" transform="matrix(25.4 0 0.391 1 1106.8 0)" fill="url(#p5)" fill-opacity="0.45"/>
<use href="#r10_2" transform="matrix(25.4 0 0 1 1363.2 0)" fill="url(#p5)" fill-opacity="0.45"/>
<use href="#r10_3" transform="matrix(25.4 0 -0.391 1 1626.3 0)" fill="url(#p5)" fill-opacity="0.45"/>
<use href="#r10_4" transform="matrix(25.4 0 -1.638 1 2479.5 0)" fill="url(#p5)" fill-opacity="0.383"/>
<use href="#r10_0" transform="matrix(11.8 0 1.481 1 427.6 0)" fill="url(#p0)" fill-opacity="0.102"/>
<use href="#r10_1" transform="matrix(11.8 0 0.391 1 1130.6 0)" fill="url(#p0)" fill-opacity="0.12"/>
<use href="#r10_2" transform="matrix(11.8 0 0 1 1387.0 0)" fill="url(#p0)" fill-opacity="0.12"/>
<use href="#r10_3" transform="matrix(11.8 0 -0.391 1 1650.1 0)" fill="url(#p0)" fill-opacity="0.12"/>
<use href="#r10_4" transform="matrix(11.8 0 -1.638 1 2503.3 0)" fill="url(#p0)" fill-opacity="0.102"/>
<use href="#r10_0" transform="matrix(11.3 0 1.481 1 467.6 0)" fill="url(#p6)" fill-opacity="0.212"/>
<use href="#r10_1" transform="matrix(11.3 0 0.391 1 1170.6 0)" fill="url(#p6)" fill-opacity="0.25"/>
<use href="#r10_2" transform="matrix(11.3 0 0 1 1427.0 0)" fill="url(#p6)" fill-opacity="0.25"/>
<use href="#r10_3" transform="matrix(11.3 0 -0.391 1 1690.1 0)" fill="url(#p6)" fill-opacity="0.25"/>
<use href="#r10_4" transform="matrix(11.3 0 -1.638 1 2543.3 0)" fill="url(#p6)" fill-opacity="0.212"/>
<use href="#r10_0" transform="matrix(11.3 0 1.481 1 483.6 0)" fill="url(#p6)" fill-opacity="0.102"/>
<use href="#r10_1" transform="matrix(11.3 0 0.391 1 1186.6 0)" fill="url(#p6)" fill-opacity="0.12"/>
<use href="#r10_2" transform="matrix(11.3 0 0 1 1443.0 0)" fill="url(#p6)" fill-opacity="0.12"/>
<use href="#r10_3" transform="matrix(11.3 0 -0.391 1 1706.1 0)" fill="url(#p6)" fill-opacity="0.12"/>
<use href="#r10_4" transform="matrix(11.3 0 -1.638 1 2559.3 0)" fill="url(#p6)" fill-opacity="0.102"/>
</g>
<rect x="819.0" y="639.8" width="714.8" height="48.9" fill="url(#vs)"/>
<rect x="819.0" y="694.8" width="714.8" height="49.7" fill="url(#g11)"/>
<g>
<use href="#r11_0" transform="matrix(11.8 0 0.444 1 704.7 0)" fill="url(#p0)" fill-opacity="0.068"/>
<use href="#r11_1" transform="matrix(11.8 0 0.117 1 933.6 0)" fill="url(#p0)" fill-opacity="0.08"/>
<use href="#r11_2" transform="matrix(11.8 0 0 1 1017.0 0)" fill="url(#p0)" fill-opacity="0.08"/>
<use href="#r11_3" transform="matrix(11.8 0 -0.107 1 1095.3 0)" fill="url(#p0)" fill-opacity="0.08"/>
<use href="#r11_4" transform="matrix(11.8 0 -0.513 1 1395.6 0)" fill="url(#p0)" fill-opacity="0.068"/>
<use href="#r11_0" transform="matrix(11.8 0 0.444 1 729.7 0)" fill="url(#p0)" fill-opacity="0.128"/>
<use href="#r11_1" transform="matrix(11.8 0 0.117 1 958.6 0)" fill="url(#p0)" fill-opacity="0.15"/>
<use href="#r11_2" transform="matrix(11.8 0 0 1 1042.0 0)" fill="url(#p0)" fill-opacity="0.15"/>
<use href="#r11_3" transform="matrix(11.8 0 -0.107 1 1120.3 0)" fill="url(#p0)" fill-opacity="0.15"/>
<use href="#r11_4" transform="matrix(11.8 0 -0.513 1 1420.6 0)" fill="url(#p0)" fill-opacity="0.128"/>
<use href="#r11_0" transform="matrix(28.4 0 1.319 1 194.9 0)" fill="url(#p18)" fill-opacity="0.552"/>
<use href="#r11_1" transform="matrix(28.4 0 0.348 1 874.6 0)" fill="url(#p18)" fill-opacity="0.65"/>
<use href="#r11_2" transform="matrix(28.4 0 0 1 1122.2 0)" fill="url(#p18)" fill-opacity="0.65"/>
<use href="#r11_3" transform="matrix(28.4 0 -0.319 1 1354.6 0)" fill="url(#p18)" fill-opacity="0.65"/>
<use href="#r11_4" transform="matrix(28.4 0 -1.524 1 2246.5 0)" fill="url(#p18)" fill-opacity="0.552"/>
<use href="#r11_0" transform="matrix(25.4 0 1.481 1 107.4 0)" fill="url(#p5)" fill-opacity="0.34"/>
<use href="#r11_1" transform="matrix(25.4 0 0.391 1 870.3 0)" fill="url(#p5)" fill-opacity="0.4"/>
<use href="#r11_2" transform="matrix(25.4 0 0 1 1148.2 0)" fill="url(#p5)" fill-opacity="0.4"/>
<use href="#r11_3" transform="matrix(25.4 0 -0.358 1 1409.1 0)" fill="url(#p5)" fill-opacity="0.4"/>
<use href="#r11_4" transform="matrix(25.4 0 -1.711 1 2410.1 0)" fill="url(#p5)" fill-opacity="0.34"/>
<use href="#r11_0" transform="matrix(11.8 0 1.481 1 118.2 0)" fill="url(#p0)" fill-opacity="0.17"/>
<use href="#r11_1" transform="matrix(11.8 0 0.391 1 881.1 0)" fill="url(#p0)" fill-opacity="0.2"/>
<use href="#r11_2" transform="matrix(11.8 0 0 1 1159.0 0)" fill="url(#p0)" fill-opacity="0.2"/>
<use href="#r11_3" transform="matrix(11.8 0 -0.358 1 1419.9 0)" fill="url(#p0)" fill-opacity="0.2"/>
<use href="#r11_4" transform="matrix(11.8 0 -1.711 1 2420.9 0)" fill="url(#p0)" fill-opacity="0.17"/>
<use href="#r11_0" transform="matrix(25.4 0 1.481 1 132.4 0)" fill="url(#p5)" fill-opacity="0.255"/>
<use href="#r11_1" transform="matrix(25.4 0 0.391 1 895.3 0)" fill="url(#p5)" fill-opacity="0.3"/>
<use href="#r11_2" transform="matrix(25.4 0 0 1 1173.2 0)" fill="url(#p5)" fill-opacity="0.3"/>
<use href="#r11_3" transform="matrix(25.4 0 -0.358 1 1434.1 0)" fill="url(#p5)" fill-opacity="0.3"/>
<use href="#r11_4" transform="matrix(25.4 0 -1.711 1 2435.1 0)" fill="url(#p5)" fill-opacity="0.255"/>
<use href="#r11_0" transform="matrix(23.6 0 1.481 1 150.8 0)" fill="url(#p3)" fill-opacity="0.255"/>
<use href="#r11_1" transform="matrix(23.6 0 0.391 1 913.7 0)" fill="url(#p3)" fill-opacity="0.3"/>
<use href="#r11_2" transform="matrix(23.6 0 0 1 1191.6 0)" fill="url(#p3)" fill-opacity="0.3"/>
<use href="#r11_3" transform="matrix(23.6 0 -0.358 1 1452.5 0)" fill="url(#p3)" fill-opacity="0.3"/>
<use href="#r11_4" transform="matrix(23.6 0 -1.711 1 2453.5 0)" fill="url(#p3)" fill-opacity="0.255"/>
<use href="#r11_0" transform="matrix(11.8 0 1.481 1 171.2 0)" fill="url(#p0)" fill-opacity="0.128"/>
<use href="#r11_1" transform="matrix(11.8 0 0.391 1 934.1 0)" fill="url(#p0)" fill-opacity="0.15"/>
<use href="#r11_2" transform="matrix(11.8 0 0 1 1212.0 0)" fill="url(#p0)" fill-opacity="0.15"/>
<use href="#r11_3" transform="matrix(11.8 0 -0.358 1 1472.9 0)" fill="url(#p0)" fill-opacity="0.15"/>
<use href="#r11_4" transform="matrix(11.8 0 -1.711 1 2473.9 0)" fill="url(#p0)" fill-opacity="0.128"/>
<use href="#r11_0" transform="matrix(25.4 0 1.481 1 247.4 0)" fill="url(#p5)" fill-opacity="0.468"/>
<use href="#r11_1" transform="matrix(25.4 0 0.391 1 1010.3 0)" fill="url(#p5)" fill-opacity="0.55"/>
<use href="#r11_2" transform="matrix(25.4 0 0 1 1288.2 0)" fill="url(#p5)" fill-opacity="0.55"/>
<use href="#r11_3" transform="matrix(25.4 0 -0.358 1 1549.1 0)" fill="url(#p5)" fill-opacity="0.55"/>
<use href="#r11_4" transform="matrix(25.4 0 -1.711 1 2550.1 0)" fill="url(#p5)" fill-opacity="0.468"/>
<use href="#r11_0" transform="matrix(11.8 0 1.481 1 301.2 0)" fill="url(#p0)" fill-opacity="0.17"/>
<use href="#r11_1" transform="matrix(11.8 0 0.391 1 1064.1 0)" fill="url(#p0)" fill-opacity="0.2"/>
<use href="#r11_2" transform="matrix(11.8 0 0 1 1342.0 0)" fill="url(#p0)" fill-opacity="0.2"/>
<use href="#r11_3" transform="matrix(11.8 0 -0.358 1 1602.9 0)" fill="url(#p0)" fill-opacity="0.2"/>
<use href="#r11_4" transform="matrix(11.8 0 -1.711 1 2603.9 0)" fill="url(#p0)" fill-opacity="0.17"/>
<use href="#r11_0" transform="matrix(25.4 0 1.481 1 322.4 0)" fill="url(#p5)" fill-opacity="0.383"/>
<use href="#r11_1" transform="matrix(25.4 0 0.391 1 1085.3 0)" fill="url(#p5)" fill-opacity="0.45"/>
<use href="#r11_2" transform="matrix(25.4 0 0 1 1363.2 0)" fill="url(#p5)" fill-opacity="0.45"/>
<use href="#r11_3" transform="matrix(25.4 0 -0.358 1 1624.1 0)" fill="url(#p5)" fill-opacity="0.45"/>
<use href="#r11_4" transform="matrix(25.4 0 -1.711 1 2625.1 0)" fill="url(#p5)" fill-opacity="0.383"/>
<use href="#r11_0" transform="matrix(11.8 0 1.481 1 346.2 0)" fill="url(#p0)" fill-opacity="0.102"/>
<use href="#r11_1" transform="matrix(11.8 0 0.391 1 1109.1 0)" fill="url(#p0)" fill-opacity="0.12"/>
<use href="#r11_2" transform="matrix(11.8 0 0 1 1387.0 0)" fill="url(#p0)" fill-opacity="0.12"/>
<use href="#r11_3" transform="matrix(11.8 0 -0.358 1 1647.9 0)" fill="url(#p0)" fill-opacity="0.12"/>
<use href="#r11_4" transform="matrix(11.8 0 -1.711 1 2648.9 0)" fill="url(#p0)" fill-opacity="0.102"/>
<use href="#r11_0" transform="matrix(11.3 0 1.481 1 402.2 0)" fill="url(#p6)" fill-opacity="0.085"/>
<use href="#r11_1" transform="matrix(11.3 0 0.391 1 1165.1 0)" fill="url(#p6)" fill-opacity="0.1"/>
<use href="#r11_2" transform="matrix(11.3 0 0 1 1443.0 0)" fill="url(#p6)" fill-opacity="0.1"/>
<use href="#r11_3" transform="matrix(11.3 0 -0.358 1 1703.9 0)" fill="url(#p6)" fill-opacity="0.1"/>
<use href="#r11_4" transform="matrix(11.3 0 -1.711 1 2704.9 0)" fill="url(#p6)" fill-opacity="0.085"/>
</g>
<rect x="819.0" y="694.8" width="714.8" height="49.7" fill="url(#vs)"/>
<rect x="1080" y="716" width="380" height="10" rx="5" fill="url(#hs)" fill-opacity="0.1"/>
<rect x="819.0" y="751.1" width="714.8" height="48.7" fill="url(#g12)"/>
<g>
<use href="#r12_0" transform="matrix(29.4 0 1.386 1 69.8 0)" fill="url(#p11)" fill-opacity="0.595"/>
<use href="#r12_1" transform="matrix(29.4 0 0.345 1 856.8 0)" fill="url(#p11)" fill-opacity="0.7"/>
<use href="#r12_2" transform="matrix(29.4 0 0 1 1121.2 0)" fill="url(#p11)" fill-opacity="0.7"/>
<use href="#r12_3" transform="matrix(29.4 0 -0.345 1 1391.5 0)" fill="url(#p11)" fill-opacity="0.7"/>
<use href="#r12_4" transform="matrix(29.4 0 -1.415 1 2242.0 0)" fill="url(#p11)" fill-opacity="0.595"/>
<use href="#r12_0" transform="matrix(12.8 0 1.571 1 -48.3 0)" fill="url(#p17)" fill-opacity="0.212"/>
<use href="#r12_1" transform="matrix(12.8 0 0.391 1 844.2 0)" fill="url(#p17)" fill-opacity="0.25"/>
<use href="#r12_2" transform="matrix(12.8 0 0 1 1144.0 0)" fill="url(#p17)" fill-opacity="0.25"/>
<use href="#r12_3" transform="matrix(12.8 0 -0.391 1 1450.5 0)" fill="url(#p17)" fill-opacity="0.25"/>
<use href="#r12_4" transform="matrix(12.8 0 -1.604 1 2415.0 0)" fill="url(#p17)" fill-opacity="0.212"/>
<use href="#r12_0" transform="matrix(12.8 0 1.571 1 -35.3 0)" fill="url(#p17)" fill-opacity="0.212"/>
<use href="#r12_1" transform="matrix(12.8 0 0.391 1 857.2 0)" fill="url(#p17)" fill-opacity="0.25"/>
<use href="#r12_2" transform="matrix(12.8 0 0 1 1157.0 0)" fill="url(#p17)" fill-opacity="0.25"/>
<use href="#r12_3" transform="matrix(12.8 0 -0.391 1 1463.5 0)" fill="url(#p17)" fill-opacity="0.25"/>
<use href="#r12_4" transform="matrix(12.8 0 -1.604 1 2428.0 0)" fill="url(#p17)" fill-opacity="0.212"/>
<use href="#r12_0" transform="matrix(25.4 0 1.571 1 -19.1 0)" fill="url(#p5)" fill-opacity="0.255"/>
<use href="#r12_1" transform="matrix(25.4 0 0.391 1 873.4 0)" fill="url(#p5)" fill-opacity="0.3"/>
<use href="#r12_2" transform="matrix(25.4 0 0 1 1173.2 0)" fill="url(#p5)" fill-opacity="0.3"/>
<use href="#r12_3" transform="matrix(25.4 0 -0.391 1 1479.7 0)" fill="url(#p5)" fill-opacity="0.3"/>
<use href="#r12_4" transform="matrix(25.4 0 -1.604 1 2444.2 0)" fill="url(#p5)" fill-opacity="0.255"/>
<use href="#r12_0" transform="matrix(25.4 0 1.571 1 0.9 0)" fill="url(#p5)" fill-opacity="0.255"/>
<use href="#r12_1" transform="matrix(25.4 0 0.391 1 893.4 0)" fill="url(#p5)" fill-opacity="0.3"/>
<use href="#r12_2" transform="matrix(25.4 0 0 1 1193.2 0)" fill="url(#p5)" fill-opacity="0.3"/>
<use href="#r12_3" transform="matrix(25.4 0 -0.391 1 1499.7 0)" fill="url(#p5)" fill-opacity="0.3"/>
<use href="#r12_4" transform="matrix(25.4 0 -1.604 1 2464.2 0)" fill="url(#p5)" fill-opacity="0.255"/>
<use href="#r12_0" transform="matrix(11.8 0 1.571 1 19.7 0)" fill="url(#p0)" fill-opacity="0.128"/>
<use href="#r12_1" transform="matrix(11.8 0 0.391 1 912.2 0)" fill="url(#p0)" fill-opacity="0.15"/>
<use href="#r12_2" transform="matrix(11.8 0 0 1 1212.0 0)" fill="url(#p0)" fill-opacity="0.15"/>
<use href="#r12_3" transform="matrix(11.8 0 -0.391 1 1518.5 0)" fill="url(#p0)" fill-opacity="0.15"/>
<use href="#r12_4" transform="matrix(11.8 0 -1.604 1 2483.0 0)" fill="url(#p0)" fill-opacity="0.128"/>
<use href="#r12_0" transform="matrix(26.4 0 1.571 1 96.9 0)" fill="url(#p8)" fill-opacity="0.51"/>
<use href="#r12_1" transform="matrix(26.4 0 0.391 1 989.4 0)" fill="url(#p8)" fill-opacity="0.6"/>
<use href="#r12_2" transform="matrix(26.4 0 0 1 1289.2 0)" fill="url(#p8)" fill-opacity="0.6"/>
<use href="#r12_3" transform="matrix(26.4 0 -0.391 1 1595.7 0)" fill="url(#p8)" fill-opacity="0.6"/>
<use href="#r12_4" transform="matrix(26.4 0 -1.604 1 2560.2 0)" fill="url(#p8)" fill-opacity="0.51"/>
<use href="#r12_0" transform="matrix(11.8 0 1.571 1 144.7 0)" fill="url(#p0)" fill-opacity="0.17"/>
<use href="#r12_1" transform="matrix(11.8 0 0.391 1 1037.2 0)" fill="url(#p0)" fill-opacity="0.2"/>
<use href="#r12_2" transform="matrix(11.8 0 0 1 1337.0 0)" fill="url(#p0)" fill-opacity="0.2"/>
<use href="#r12_3" transform="matrix(11.8 0 -0.391 1 1643.5 0)" fill="url(#p0)" fill-opacity="0.2"/>
<use href="#r12_4" transform="matrix(11.8 0 -1.604 1 2608.0 0)" fill="url(#p0)" fill-opacity="0.17"/>
<use href="#r12_0" transform="matrix(11.8 0 1.571 1 159.7 0)" fill="url(#p0)" fill-opacity="0.128"/>
<use href="#r12_1" transform="matrix(11.8 0 0.391 1 1052.2 0)" fill="url(#p0)" fill-opacity="0.15"/>
<use href="#r12_2" transform="matrix(11.8 0 0 1 1352.0 0)" fill="url(#p0)" fill-opacity="0.15"/>
<use href="#r12_3" transform="matrix(11.8 0 -0.391 1 1658.5 0)" fill="url(#p0)" fill-opacity="0.15"/>
<use href="#r12_4" transform="matrix(11.8 0 -1.604 1 2623.0 0)" fill="url(#p0)" fill-opacity="0.128"/>
<use href="#r12_0" transform="matrix(26.4 0 1.571 1 171.9 0)" fill="url(#p8)" fill-opacity="0.425"/>
<use href="#r12_1" transform="matrix(26.4 0 0.391 1 1064.4 0)" fill="url(#p8)" fill-opacity="0.5"/>
<use href="#r12_2" transform="matrix(26.4 0 0 1 1364.2 0)" fill="url(#p8)" fill-opacity="0.5"/>
<use href="#r12_3" transform="matrix(26.4 0 -0.391 1 1670.7 0)" fill="url(#p8)" fill-opacity="0.5"/>
<use href="#r12_4" transform="matrix(26.4 0 -1.604 1 2635.2 0)" fill="url(#p8)" fill-opacity="0.425"/>
<use href="#r12_0" transform="matrix(11.8 0 1.571 1 199.7 0)" fill="url(#p0)" fill-opacity="0.102"/>
<use href="#r12_1" transform="matrix(11.8 0 0.391 1 1092.2 0)" fill="url(#p0)" fill-opacity="0.12"/>
<use href="#r12_2" transform="matrix(11.8 0 0 1 1392.0 0)" fill="url(#p0)" fill-opacity="0.12"/>
<use href="#r12_3" transform="matrix(11.8 0 -0.391 1 1698.5 0)" fill="url(#p0)" fill-opacity="0.12"/>
<use href="#r12_4" transform="matrix(11.8 0 -1.604 1 2663.0 0)" fill="url(#p0)" fill-opacity="0.102"/>
<use href="#r12_0" transform="matrix(21.8 0 1.571 1 227.7 0)" fill="url(#p7)" fill-opacity="0.255"/>
<use href="#r12_1" transform="matrix(21.8 0 0.391 1 1120.2 0)" fill="url(#p7)" fill-opacity="0.3"/>
<use href="#r12_2" transform="matrix(21.8 0 0 1 1420.0 0)" fill="url(#p7)" fill-opacity="0.3"/>
<use href="#r12_3" transform="matrix(21.8 0 -0.391 1 1726.5 0)" fill="url(#p7)" fill-opacity="0.3"/>
<use href="#r12_4" transform="matrix(21.8 0 -1.604 1 2691.0 0)" fill="url(#p7)" fill-opacity="0.255"/>
<use href="#r12_0" transform="matrix(11.3 0 1.571 1 250.7 0)" fill="url(#p6)" fill-opacity="0.102"/>
<use href="#r12_1" transform="matrix(11.3 0 0.391 1 1143.2 0)" fill="url(#p6)" fill-opacity="0.12"/>
<use href="#r12_2" transform="matrix(11.3 0 0 1 1443.0 0)" fill="url(#p6)" fill-opacity="0.12"/>
<use href="#r12_3" transform="matrix(11.3 0 -0.391 1 1749.5 0)" fill="url(#p6)" fill-opacity="0.12"/>
<use href="#r12_4" transform="matrix(11.3 0 -1.604 1 2714.0 0)" fill="url(#p6)" fill-opacity="0.102"/>
</g>
<rect x="819.0" y="751.1" width="714.8" height="48.7" fill="url(#vs)"/>
<rect x="1080" y="771" width="380" height="10" rx="5" fill="url(#hs)" fill-opacity="0.08"/>
<rect x="819.0" y="757.1" width="2.2" height="42.7" fill="#000" fill-opacity="0.4"/>
<rect x="819.0" y="806.1" width="714.8" height="48.6" fill="url(#g13)"/>
<g>
<use href="#r13_0" transform="matrix(30.4 0 1.371 1 4.2 0)" fill="url(#p15)" fill-opacity="0.51"/>
<use href="#r13_1" transform="matrix(30.4 0 0.341 1 839.8 0)" fill="url(#p15)" fill-opacity="0.6"/>
<use href="#r13_2" transform="matrix(30.4 0 0 1 1120.2 0)" fill="url(#p15)" fill-opacity="0.6"/>
<use href="#r13_3" transform="matrix(30.4 0 -0.341 1 1406.4 0)" fill="url(#p15)" fill-opacity="0.6"/>
<use href="#r13_4" transform="matrix(30.4 0 -1.430 1 2331.8 0)" fill="url(#p15)" fill-opacity="0.51"/>
<use href="#r13_0" transform="matrix(23.6 0 1.571 1 -127.1 0)" fill="url(#p3)" fill-opacity="0.34"/>
<use href="#r13_1" transform="matrix(23.6 0 0.391 1 830.3 0)" fill="url(#p3)" fill-opacity="0.4"/>
<use href="#r13_2" transform="matrix(23.6 0 0 1 1151.6 0)" fill="url(#p3)" fill-opacity="0.4"/>
<use href="#r13_3" transform="matrix(23.6 0 -0.391 1 1479.6 0)" fill="url(#p3)" fill-opacity="0.4"/>
<use href="#r13_4" transform="matrix(23.6 0 -1.638 1 2539.9 0)" fill="url(#p3)" fill-opacity="0.34"/>
<use href="#r13_0" transform="matrix(23.6 0 1.571 1 -84.1 0)" fill="url(#p3)" fill-opacity="0.383"/>
<use href="#r13_1" transform="matrix(23.6 0 0.391 1 873.3 0)" fill="url(#p3)" fill-opacity="0.45"/>
<use href="#r13_2" transform="matrix(23.6 0 0 1 1194.6 0)" fill="url(#p3)" fill-opacity="0.45"/>
<use href="#r13_3" transform="matrix(23.6 0 -0.391 1 1522.6 0)" fill="url(#p3)" fill-opacity="0.45"/>
<use href="#r13_4" transform="matrix(23.6 0 -1.638 1 2582.9 0)" fill="url(#p3)" fill-opacity="0.383"/>
<use href="#r13_0" transform="matrix(11.8 0 1.571 1 -14.7 0)" fill="url(#p0)" fill-opacity="0.102"/>
<use href="#r13_1" transform="matrix(11.8 0 0.391 1 942.7 0)" fill="url(#p0)" fill-opacity="0.12"/>
<use href="#r13_2" transform="matrix(11.8 0 0 1 1264.0 0)" fill="url(#p0)" fill-opacity="0.12"/>
<use href="#r13_3" transform="matrix(11.8 0 -0.391 1 1592.0 0)" fill="url(#p0)" fill-opacity="0.12"/>
<use href="#r13_4" transform="matrix(11.8 0 -1.638 1 2652.3 0)" fill="url(#p0)" fill-opacity="0.102"/>
<use href="#r13_0" transform="matrix(27.4 0 1.571 1 13.5 0)" fill="url(#p1)" fill-opacity="0.468"/>
<use href="#r13_1" transform="matrix(27.4 0 0.391 1 970.9 0)" fill="url(#p1)" fill-opacity="0.55"/>
<use href="#r13_2" transform="matrix(27.4 0 0 1 1292.2 0)" fill="url(#p1)" fill-opacity="0.55"/>
<use href="#r13_3" transform="matrix(27.4 0 -0.391 1 1620.2 0)" fill="url(#p1)" fill-opacity="0.55"/>
<use href="#r13_4" transform="matrix(27.4 0 -1.638 1 2680.5 0)" fill="url(#p1)" fill-opacity="0.468"/>
<use href="#r13_0" transform="matrix(11.8 0 1.571 1 58.3 0)" fill="url(#p0)" fill-opacity="0.102"/>
<use href="#r13_1" transform="matrix(11.8 0 0.391 1 1015.7 0)" fill="url(#p0)" fill-opacity="0.12"/>
<use href="#r13_2" transform="matrix(11.8 0 0 1 1337.0 0)" fill="url(#p0)" fill-opacity="0.12"/>
<use href="#r13_3" transform="matrix(11.8 0 -0.391 1 1665.0 0)" fill="url(#p0)" fill-opacity="0.12"/>
<use href="#r13_4" transform="matrix(11.8 0 -1.638 1 2725.3 0)" fill="url(#p0)" fill-opacity="0.102"/>
<use href="#r13_0" transform="matrix(11.8 0 1.571 1 73.3 0)" fill="url(#p0)" fill-opacity="0.102"/>
<use href="#r13_1" transform="matrix(11.8 0 0.391 1 1030.7 0)" fill="url(#p0)" fill-opacity="0.12"/>
<use href="#r13_2" transform="matrix(11.8 0 0 1 1352.0 0)" fill="url(#p0)" fill-opacity="0.12"/>
<use href="#r13_3" transform="matrix(11.8 0 -0.391 1 1680.0 0)" fill="url(#p0)" fill-opacity="0.12"/>
<use href="#r13_4" transform="matrix(11.8 0 -1.638 1 2740.3 0)" fill="url(#p0)" fill-opacity="0.102"/>
<use href="#r13_0" transform="matrix(11.8 0 1.571 1 90.3 0)" fill="url(#p0)" fill-opacity="0.17"/>
<use href="#r13_1" transform="matrix(11.8 0 0.391 1 1047.7 0)" fill="url(#p0)" fill-opacity="0.2"/>
<use href="#r13_2" transform="matrix(11.8 0 0 1 1369.0 0)" fill="url(#p0)" fill-opacity="0.2"/>
<use href="#r13_3" transform="matrix(11.8 0 -0.391 1 1697.0 0)" fill="url(#p0)" fill-opacity="0.2"/>
<use href="#r13_4" transform="matrix(11.8 0 -1.638 1 2757.3 0)" fill="url(#p0)" fill-opacity="0.17"/>
<use href="#r13_0" transform="matrix(11.8 0 1.571 1 110.3 0)" fill="url(#p0)" fill-opacity="0.102"/>
<use href="#r13_1" transform="matrix(11.8 0 0.391 1 1067.7 0)" fill="url(#p0)" fill-opacity="0.12"/>
<use href="#r13_2" transform="matrix(11.8 0 0 1 1389.0 0)" fill="url(#p0)" fill-opacity="0.12"/>
<use href="#r13_3" transform="matrix(11.8 0 -0.391 1 1717.0 0)" fill="url(#p0)" fill-opacity="0.12"/>
<use href="#r13_4" transform="matrix(11.8 0 -1.638 1 2777.3 0)" fill="url(#p0)" fill-opacity="0.102"/>
<use href="#r13_0" transform="matrix(11.3 0 1.571 1 148.3 0)" fill="url(#p6)" fill-opacity="0.085"/>
<use href="#r13_1" transform="matrix(11.3 0 0.391 1 1105.7 0)" fill="url(#p6)" fill-opacity="0.1"/>
<use href="#r13_2" transform="matrix(11.3 0 0 1 1427.0 0)" fill="url(#p6)" fill-opacity="0.1"/>
<use href="#r13_3" transform="matrix(11.3 0 -0.391 1 1755.0 0)" fill="url(#p6)" fill-opacity="0.1"/>
<use href="#r13_4" transform="matrix(11.3 0 -1.638 1 2815.3 0)" fill="url(#p6)" fill-opacity="0.085"/>
<use href="#r13_0" transform="matrix(11.3 0 1.571 1 165.3 0)" fill="url(#p6)" fill-opacity="0.085"/>
<use href="#r13_1" transform="matrix(11.3 0 0.391 1 1122.7 0)" fill="url(#p6)" fill-opacity="0.1"/>
<use href="#r13_2" transform="matrix(11.3 0 0 1 1444.0 0)" fill="url(#p6)" fill-opacity="0.1"/>
<use href="#r13_3" transform="matrix(11.3 0 -0.391 1 1772.0 0)" fill="url(#p6)" fill-opacity="0.1"/>
<use href="#r13_4" transform="matrix(11.3 0 -1.638 1 2832.3 0)" fill="url(#p6)" fill-opacity="0.085"/>
</g>
<rect x="819.0" y="806.1" width="714.8" height="48.6" fill="url(#vs)"/>
<rect x="819.0" y="861" width="714.8" height="48.7" fill="url(#g14)"/>
<g>
<use href="#r14_0" transform="matrix(30.4 0 1.358 1 -58.6 0)" fill="url(#p15)" fill-opacity="0.552"/>
<use href="#r14_1" transform="matrix(30.4 0 0.345 1 818.9 0)" fill="url(#p15)" fill-opacity="0.65"/>
<use href="#r14_2" transform="matrix(30.4 0 0 1 1121.2 0)" fill="url(#p15)" fill-opacity="0.65"/>
<use href="#r14_3" transform="matrix(30.4 0 -0.345 1 1429.4 0)" fill="url(#p15)" fill-opacity="0.65"/>
<use href="#r14_4" transform="matrix(30.4 0 -1.445 1 2424.9 0)" fill="url(#p15)" fill-opacity="0.552"/>
<use href="#r14_0" transform="matrix(23.6 0 1.540 1 -181.3 0)" fill="url(#p3)" fill-opacity="0.255"/>
<use href="#r14_1" transform="matrix(23.6 0 0.391 1 813.8 0)" fill="url(#p3)" fill-opacity="0.3"/>
<use href="#r14_2" transform="matrix(23.6 0 0 1 1156.6 0)" fill="url(#p3)" fill-opacity="0.3"/>
<use href="#r14_3" transform="matrix(23.6 0 -0.391 1 1506.1 0)" fill="url(#p3)" fill-opacity="0.3"/>
<use href="#r14_4" transform="matrix(23.6 0 -1.638 1 2635.0 0)" fill="url(#p3)" fill-opacity="0.255"/>
<use href="#r14_0" transform="matrix(23.6 0 1.540 1 -160.3 0)" fill="url(#p3)" fill-opacity="0.255"/>
<use href="#r14_1" transform="matrix(23.6 0 0.391 1 834.8 0)" fill="url(#p3)" fill-opacity="0.3"/>
<use href="#r14_2" transform="matrix(23.6 0 0 1 1177.6 0)" fill="url(#p3)" fill-opacity="0.3"/>
<use href="#r14_3" transform="matrix(23.6 0 -0.391 1 1527.1 0)" fill="url(#p3)" fill-opacity="0.3"/>
<use href="#r14_4" transform="matrix(23.6 0 -1.638 1 2656.0 0)" fill="url(#p3)" fill-opacity="0.255"/>
<use href="#r14_0" transform="matrix(23.6 0 1.540 1 -139.3 0)" fill="url(#p3)" fill-opacity="0.425"/>
<use href="#r14_1" transform="matrix(23.6 0 0.391 1 855.8 0)" fill="url(#p3)" fill-opacity="0.5"/>
<use href="#r14_2" transform="matrix(23.6 0 0 1 1198.6 0)" fill="url(#p3)" fill-opacity="0.5"/>
<use href="#r14_3" transform="matrix(23.6 0 -0.391 1 1548.1 0)" fill="url(#p3)" fill-opacity="0.5"/>
<use href="#r14_4" transform="matrix(23.6 0 -1.638 1 2677.0 0)" fill="url(#p3)" fill-opacity="0.425"/>
<use href="#r14_0" transform="matrix(21.8 0 1.540 1 -132.9 0)" fill="url(#p7)" fill-opacity="0.34"/>
<use href="#r14_1" transform="matrix(21.8 0 0.391 1 862.2 0)" fill="url(#p7)" fill-opacity="0.4"/>
<use href="#r14_2" transform="matrix(21.8 0 0 1 1205.0 0)" fill="url(#p7)" fill-opacity="0.4"/>
<use href="#r14_3" transform="matrix(21.8 0 -0.391 1 1554.5 0)" fill="url(#p7)" fill-opacity="0.4"/>
<use href="#r14_4" transform="matrix(21.8 0 -1.638 1 2683.4 0)" fill="url(#p7)" fill-opacity="0.34"/>
<use href="#r14_0" transform="matrix(11.8 0 1.540 1 -98.9 0)" fill="url(#p0)" fill-opacity="0.128"/>
<use href="#r14_1" transform="matrix(11.8 0 0.391 1 896.2 0)" fill="url(#p0)" fill-opacity="0.15"/>
<use href="#r14_2" transform="matrix(11.8 0 0 1 1239.0 0)" fill="url(#p0)" fill-opacity="0.15"/>
<use href="#r14_3" transform="matrix(11.8 0 -0.391 1 1588.5 0)" fill="url(#p0)" fill-opacity="0.15"/>
<use href="#r14_4" transform="matrix(11.8 0 -1.638 1 2717.4 0)" fill="url(#p0)" fill-opacity="0.128"/>
<use href="#r14_0" transform="matrix(25.4 0 1.540 1 -43.7 0)" fill="url(#p5)" fill-opacity="0.51"/>
<use href="#r14_1" transform="matrix(25.4 0 0.391 1 951.4 0)" fill="url(#p5)" fill-opacity="0.6"/>
<use href="#r14_2" transform="matrix(25.4 0 0 1 1294.2 0)" fill="url(#p5)" fill-opacity="0.6"/>
<use href="#r14_3" transform="matrix(25.4 0 -0.391 1 1643.7 0)" fill="url(#p5)" fill-opacity="0.6"/>
<use href="#r14_4" transform="matrix(25.4 0 -1.638 1 2772.6 0)" fill="url(#p5)" fill-opacity="0.51"/>
<use href="#r14_0" transform="matrix(11.8 0 1.540 1 9.1 0)" fill="url(#p0)" fill-opacity="0.128"/>
<use href="#r14_1" transform="matrix(11.8 0 0.391 1 1004.2 0)" fill="url(#p0)" fill-opacity="0.15"/>
<use href="#r14_2" transform="matrix(11.8 0 0 1 1347.0 0)" fill="url(#p0)" fill-opacity="0.15"/>
<use href="#r14_3" transform="matrix(11.8 0 -0.391 1 1696.5 0)" fill="url(#p0)" fill-opacity="0.15"/>
<use href="#r14_4" transform="matrix(11.8 0 -1.638 1 2825.4 0)" fill="url(#p0)" fill-opacity="0.128"/>
<use href="#r14_0" transform="matrix(23.6 0 1.540 1 27.7 0)" fill="url(#p3)" fill-opacity="0.34"/>
<use href="#r14_1" transform="matrix(23.6 0 0.391 1 1022.8 0)" fill="url(#p3)" fill-opacity="0.4"/>
<use href="#r14_2" transform="matrix(23.6 0 0 1 1365.6 0)" fill="url(#p3)" fill-opacity="0.4"/>
<use href="#r14_3" transform="matrix(23.6 0 -0.391 1 1715.1 0)" fill="url(#p3)" fill-opacity="0.4"/>
<use href="#r14_4" transform="matrix(23.6 0 -1.638 1 2844.0 0)" fill="url(#p3)" fill-opacity="0.34"/>
<use href="#r14_0" transform="matrix(11.8 0 1.540 1 91.1 0)" fill="url(#p0)" fill-opacity="0.128"/>
<use href="#r14_1" transform="matrix(11.8 0 0.391 1 1086.2 0)" fill="url(#p0)" fill-opacity="0.15"/>
<use href="#r14_2" transform="matrix(11.8 0 0 1 1429.0 0)" fill="url(#p0)" fill-opacity="0.15"/>
<use href="#r14_3" transform="matrix(11.8 0 -0.391 1 1778.5 0)" fill="url(#p0)" fill-opacity="0.15"/>
<use href="#r14_4" transform="matrix(11.8 0 -1.638 1 2907.4 0)" fill="url(#p0)" fill-opacity="0.128"/>
<use href="#r14_0" transform="matrix(11.3 0 1.540 1 106.1 0)" fill="url(#p6)" fill-opacity="0.085"/>
<use href="#r14_1" transform="matrix(11.3 0 0.391 1 1101.2 0)" fill="url(#p6)" fill-opacity="0.1"/>
<use href="#r14_2" transform="matrix(11.3 0 0 1 1444.0 0)" fill="url(#p6)" fill-opacity="0.1"/>
<use href="#r14_3" transform="matrix(11.3 0 -0.391 1 1793.5 0)" fill="url(#p6)" fill-opacity="0.1"/>
<use href="#r14_4" transform="matrix(11.3 0 -1.638 1 2922.4 0)" fill="url(#p6)" fill-opacity="0.085"/>
</g>
<rect x="819.0" y="861" width="714.8" height="48.7" fill="url(#vs)"/>
<rect x="819.0" y="915.9" width="714.8" height="48.8" fill="url(#g15)"/>
<g>
<use href="#r15_0" transform="matrix(30.4 0 0.453 1 613.8 0)" fill="url(#p15)" fill-opacity="0.722"/>
<use href="#r15_1" transform="matrix(30.4 0 0.117 1 922.9 0)" fill="url(#p15)" fill-opacity="0.85"/>
<use href="#r15_2" transform="matrix(30.4 0 0 1 1032.2 0)" fill="url(#p15)" fill-opacity="0.85"/>
<use href="#r15_3" transform="matrix(30.4 0 -0.117 1 1143.5 0)" fill="url(#p15)" fill-opacity="0.85"/>
<use href="#r15_4" transform="matrix(30.4 0 -0.491 1 1502.7 0)" fill="url(#p15)" fill-opacity="0.722"/>
<use href="#r15_0" transform="matrix(30.4 0 0.494 1 603.7 0)" fill="url(#p15)" fill-opacity="0.68"/>
<use href="#r15_1" transform="matrix(30.4 0 0.128 1 941.0 0)" fill="url(#p15)" fill-opacity="0.8"/>
<use href="#r15_2" transform="matrix(30.4 0 0 1 1060.2 0)" fill="url(#p15)" fill-opacity="0.8"/>
<use href="#r15_3" transform="matrix(30.4 0 -0.128 1 1181.6 0)" fill="url(#p15)" fill-opacity="0.8"/>
<use href="#r15_4" transform="matrix(30.4 0 -0.536 1 1573.5 0)" fill="url(#p15)" fill-opacity="0.68"/>
<use href="#r15_0" transform="matrix(25.4 0 0.851 1 300.0 0)" fill="url(#p5)" fill-opacity="0.34"/>
<use href="#r15_1" transform="matrix(25.4 0 0.220 1 880.9 0)" fill="url(#p5)" fill-opacity="0.4"/>
<use href="#r15_2" transform="matrix(25.4 0 0 1 1086.2 0)" fill="url(#p5)" fill-opacity="0.4"/>
<use href="#r15_3" transform="matrix(25.4 0 -0.220 1 1295.3 0)" fill="url(#p5)" fill-opacity="0.4"/>
<use href="#r15_4" transform="matrix(25.4 0 -0.923 1 1970.3 0)" fill="url(#p5)" fill-opacity="0.34"/>
<use href="#r15_0" transform="matrix(25.4 0 1.194 1 8.0 0)" fill="url(#p5)" fill-opacity="0.425"/>
<use href="#r15_1" transform="matrix(25.4 0 0.309 1 823.1 0)" fill="url(#p5)" fill-opacity="0.5"/>
<use href="#r15_2" transform="matrix(25.4 0 0 1 1111.2 0)" fill="url(#p5)" fill-opacity="0.5"/>
<use href="#r15_3" transform="matrix(25.4 0 -0.309 1 1404.6 0)" fill="url(#p5)" fill-opacity="0.5"/>
<use href="#r15_4" transform="matrix(25.4 0 -1.296 1 2351.7 0)" fill="url(#p5)" fill-opacity="0.425"/>
<use href="#r15_0" transform="matrix(25.4 0 1.400 1 -167.2 0)" fill="url(#p5)" fill-opacity="0.425"/>
<use href="#r15_1" transform="matrix(25.4 0 0.362 1 788.4 0)" fill="url(#p5)" fill-opacity="0.5"/>
<use href="#r15_2" transform="matrix(25.4 0 0 1 1126.2 0)" fill="url(#p5)" fill-opacity="0.5"/>
<use href="#r15_3" transform="matrix(25.4 0 -0.362 1 1470.2 0)" fill="url(#p5)" fill-opacity="0.5"/>
<use href="#r15_4" transform="matrix(25.4 0 -1.519 1 2580.6 0)" fill="url(#p5)" fill-opacity="0.425"/>
<use href="#r15_0" transform="matrix(27.4 0 1.510 1 -244.6 0)" fill="url(#p1)" fill-opacity="0.68"/>
<use href="#r15_1" transform="matrix(27.4 0 0.391 1 785.9 0)" fill="url(#p1)" fill-opacity="0.8"/>
<use href="#r15_2" transform="matrix(27.4 0 0 1 1150.2 0)" fill="url(#p1)" fill-opacity="0.8"/>
<use href="#r15_3" transform="matrix(27.4 0 -0.391 1 1521.2 0)" fill="url(#p1)" fill-opacity="0.8"/>
<use href="#r15_4" transform="matrix(27.4 0 -1.638 1 2718.7 0)" fill="url(#p1)" fill-opacity="0.68"/>
<use href="#r15_0" transform="matrix(26.4 0 1.510 1 -214.6 0)" fill="url(#p8)" fill-opacity="0.68"/>
<use href="#r15_1" transform="matrix(26.4 0 0.391 1 815.9 0)" fill="url(#p8)" fill-opacity="0.8"/>
<use href="#r15_2" transform="matrix(26.4 0 0 1 1180.2 0)" fill="url(#p8)" fill-opacity="0.8"/>
<use href="#r15_3" transform="matrix(26.4 0 -0.391 1 1551.2 0)" fill="url(#p8)" fill-opacity="0.8"/>
<use href="#r15_4" transform="matrix(26.4 0 -1.638 1 2748.7 0)" fill="url(#p8)" fill-opacity="0.68"/>
<use href="#r15_0" transform="matrix(11.8 0 1.510 1 -147.8 0)" fill="url(#p0)" fill-opacity="0.17"/>
<use href="#r15_1" transform="matrix(11.8 0 0.391 1 882.7 0)" fill="url(#p0)" fill-opacity="0.2"/>
<use href="#r15_2" transform="matrix(11.8 0 0 1 1247.0 0)" fill="url(#p0)" fill-opacity="0.2"/>
<use href="#r15_3" transform="matrix(11.8 0 -0.391 1 1618.0 0)" fill="url(#p0)" fill-opacity="0.2"/>
<use href="#r15_4" transform="matrix(11.8 0 -1.638 1 2815.5 0)" fill="url(#p0)" fill-opacity="0.17"/>
<use href="#r15_0" transform="matrix(26.4 0 1.510 1 -107.6 0)" fill="url(#p8)" fill-opacity="0.468"/>
<use href="#r15_1" transform="matrix(26.4 0 0.391 1 922.9 0)" fill="url(#p8)" fill-opacity="0.55"/>
<use href="#r15_2" transform="matrix(26.4 0 0 1 1287.2 0)" fill="url(#p8)" fill-opacity="0.55"/>
<use href="#r15_3" transform="matrix(26.4 0 -0.391 1 1658.2 0)" fill="url(#p8)" fill-opacity="0.55"/>
<use href="#r15_4" transform="matrix(26.4 0 -1.638 1 2855.7 0)" fill="url(#p8)" fill-opacity="0.468"/>
</g>
<rect x="819.0" y="915.9" width="714.8" height="48.8" fill="url(#vs)"/>
<rect x="819.0" y="971" width="714.8" height="48.9" fill="url(#g16)"/>
<g>
<use href="#r16_0" transform="matrix(31.4 0 0.462 1 582.0 0)" fill="url(#p20)" fill-opacity="0.722"/>
<use href="#r16_1" transform="matrix(31.4 0 0.117 1 918.5 0)" fill="url(#p20)" fill-opacity="0.85"/>
<use href="#r16_2" transform="matrix(31.4 0 0 1 1034.2 0)" fill="url(#p20)" fill-opacity="0.85"/>
<use href="#r16_3" transform="matrix(31.4 0 -0.117 1 1152.0 0)" fill="url(#p20)" fill-opacity="0.85"/>
<use href="#r16_4" transform="matrix(31.4 0 -0.471 1 1511.4 0)" fill="url(#p20)" fill-opacity="0.722"/>
<use href="#r16_0" transform="matrix(29.4 0 0.546 1 528.8 0)" fill="url(#p11)" fill-opacity="0.68"/>
<use href="#r16_1" transform="matrix(29.4 0 0.139 1 926.4 0)" fill="url(#p11)" fill-opacity="0.8"/>
<use href="#r16_2" transform="matrix(29.4 0 0 1 1063.2 0)" fill="url(#p11)" fill-opacity="0.8"/>
<use href="#r16_3" transform="matrix(29.4 0 -0.139 1 1202.4 0)" fill="url(#p11)" fill-opacity="0.8"/>
<use href="#r16_4" transform="matrix(29.4 0 -0.557 1 1627.2 0)" fill="url(#p11)" fill-opacity="0.68"/>
<use href="#r16_0" transform="matrix(25.4 0 0.826 1 274.7 0)" fill="url(#p5)" fill-opacity="0.255"/>
<use href="#r16_1" transform="matrix(25.4 0 0.210 1 876.3 0)" fill="url(#p5)" fill-opacity="0.3"/>
<use href="#r16_2" transform="matrix(25.4 0 0 1 1083.2 0)" fill="url(#p5)" fill-opacity="0.3"/>
<use href="#r16_3" transform="matrix(25.4 0 -0.210 1 1293.7 0)" fill="url(#p5)" fill-opacity="0.3"/>
<use href="#r16_4" transform="matrix(25.4 0 -0.843 1 1936.4 0)" fill="url(#p5)" fill-opacity="0.255"/>
<use href="#r16_0" transform="matrix(25.4 0 1.246 1 -106.4 0)" fill="url(#p5)" fill-opacity="0.34"/>
<use href="#r16_1" transform="matrix(25.4 0 0.316 1 801.0 0)" fill="url(#p5)" fill-opacity="0.4"/>
<use href="#r16_2" transform="matrix(25.4 0 0 1 1113.2 0)" fill="url(#p5)" fill-opacity="0.4"/>
<use href="#r16_3" transform="matrix(25.4 0 -0.316 1 1430.8 0)" fill="url(#p5)" fill-opacity="0.4"/>
<use href="#r16_4" transform="matrix(25.4 0 -1.271 1 2400.2 0)" fill="url(#p5)" fill-opacity="0.34"/>
<use href="#r16_0" transform="matrix(25.4 0 1.498 1 -335.0 0)" fill="url(#p5)" fill-opacity="0.255"/>
<use href="#r16_1" transform="matrix(25.4 0 0.380 1 755.9 0)" fill="url(#p5)" fill-opacity="0.3"/>
<use href="#r16_2" transform="matrix(25.4 0 0 1 1131.2 0)" fill="url(#p5)" fill-opacity="0.3"/>
<use href="#r16_3" transform="matrix(25.4 0 -0.380 1 1513.0 0)" fill="url(#p5)" fill-opacity="0.3"/>
<use href="#r16_4" transform="matrix(25.4 0 -1.529 1 2678.5 0)" fill="url(#p5)" fill-opacity="0.255"/>
<use href="#r16_0" transform="matrix(27.4 0 1.540 1 -355.1 0)" fill="url(#p1)" fill-opacity="0.68"/>
<use href="#r16_1" transform="matrix(27.4 0 0.391 1 766.4 0)" fill="url(#p1)" fill-opacity="0.8"/>
<use href="#r16_2" transform="matrix(27.4 0 0 1 1152.2 0)" fill="url(#p1)" fill-opacity="0.8"/>
<use href="#r16_3" transform="matrix(27.4 0 -0.391 1 1544.7 0)" fill="url(#p1)" fill-opacity="0.8"/>
<use href="#r16_4" transform="matrix(27.4 0 -1.571 1 2742.9 0)" fill="url(#p1)" fill-opacity="0.68"/>
<use href="#r16_0" transform="matrix(26.4 0 1.540 1 -325.1 0)" fill="url(#p8)" fill-opacity="0.68"/>
<use href="#r16_1" transform="matrix(26.4 0 0.391 1 796.4 0)" fill="url(#p8)" fill-opacity="0.8"/>
<use href="#r16_2" transform="matrix(26.4 0 0 1 1182.2 0)" fill="url(#p8)" fill-opacity="0.8"/>
<use href="#r16_3" transform="matrix(26.4 0 -0.391 1 1574.7 0)" fill="url(#p8)" fill-opacity="0.8"/>
<use href="#r16_4" transform="matrix(26.4 0 -1.571 1 2772.9 0)" fill="url(#p8)" fill-opacity="0.68"/>
<use href="#r16_0" transform="matrix(25.4 0 1.540 1 -216.1 0)" fill="url(#p5)" fill-opacity="0.297"/>
<use href="#r16_1" transform="matrix(25.4 0 0.391 1 905.4 0)" fill="url(#p5)" fill-opacity="0.35"/>
<use href="#r16_2" transform="matrix(25.4 0 0 1 1291.2 0)" fill="url(#p5)" fill-opacity="0.35"/>
<use href="#r16_3" transform="matrix(25.4 0 -0.391 1 1683.7 0)" fill="url(#p5)" fill-opacity="0.35"/>
<use href="#r16_4" transform="matrix(25.4 0 -1.571 1 2881.9 0)" fill="url(#p5)" fill-opacity="0.297"/>
</g>
<rect x="819.0" y="971" width="714.8" height="48.9" fill="url(#vs)"/>
<rect x="819.0" y="977" width="2.2" height="42.9" fill="#000" fill-opacity="0.5"/>
<rect x="819.0" y="1025.7" width="714.8" height="49.0" fill="url(#g17)"/>
<g>
<use href="#r17_0" transform="matrix(31.4 0 0.436 1 583.6 0)" fill="url(#p20)" fill-opacity="0.722"/>
<use href="#r17_1" transform="matrix(31.4 0 0.117 1 912.0 0)" fill="url(#p20)" fill-opacity="0.85"/>
<use href="#r17_2" transform="matrix(31.4 0 0 1 1034.2 0)" fill="url(#p20)" fill-opacity="0.85"/>
<use href="#r17_3" transform="matrix(31.4 0 -0.117 1 1158.4 0)" fill="url(#p20)" fill-opacity="0.85"/>
<use href="#r17_4" transform="matrix(31.4 0 -0.491 1 1558.8 0)" fill="url(#p20)" fill-opacity="0.722"/>
<use href="#r17_0" transform="matrix(29.4 0 0.515 1 530.6 0)" fill="url(#p11)" fill-opacity="0.637"/>
<use href="#r17_1" transform="matrix(29.4 0 0.139 1 918.8 0)" fill="url(#p11)" fill-opacity="0.75"/>
<use href="#r17_2" transform="matrix(29.4 0 0 1 1063.2 0)" fill="url(#p11)" fill-opacity="0.75"/>
<use href="#r17_3" transform="matrix(29.4 0 -0.139 1 1210.0 0)" fill="url(#p11)" fill-opacity="0.75"/>
<use href="#r17_4" transform="matrix(29.4 0 -0.581 1 1683.2 0)" fill="url(#p11)" fill-opacity="0.637"/>
<use href="#r17_0" transform="matrix(25.4 0 0.779 1 277.5 0)" fill="url(#p5)" fill-opacity="0.255"/>
<use href="#r17_1" transform="matrix(25.4 0 0.210 1 864.7 0)" fill="url(#p5)" fill-opacity="0.3"/>
<use href="#r17_2" transform="matrix(25.4 0 0 1 1083.2 0)" fill="url(#p5)" fill-opacity="0.3"/>
<use href="#r17_3" transform="matrix(25.4 0 -0.210 1 1305.2 0)" fill="url(#p5)" fill-opacity="0.3"/>
<use href="#r17_4" transform="matrix(25.4 0 -0.879 1 2021.1 0)" fill="url(#p5)" fill-opacity="0.255"/>
<use href="#r17_0" transform="matrix(25.4 0 1.175 1 -102.2 0)" fill="url(#p5)" fill-opacity="0.255"/>
<use href="#r17_1" transform="matrix(25.4 0 0.316 1 783.6 0)" fill="url(#p5)" fill-opacity="0.3"/>
<use href="#r17_2" transform="matrix(25.4 0 0 1 1113.2 0)" fill="url(#p5)" fill-opacity="0.3"/>
<use href="#r17_3" transform="matrix(25.4 0 -0.316 1 1448.2 0)" fill="url(#p5)" fill-opacity="0.3"/>
<use href="#r17_4" transform="matrix(25.4 0 -1.326 1 2528.1 0)" fill="url(#p5)" fill-opacity="0.255"/>
<use href="#r17_0" transform="matrix(13.8 0 1.413 1 -324.2 0)" fill="url(#p21)" fill-opacity="0.17"/>
<use href="#r17_1" transform="matrix(13.8 0 0.380 1 740.8 0)" fill="url(#p21)" fill-opacity="0.2"/>
<use href="#r17_2" transform="matrix(13.8 0 0 1 1137.0 0)" fill="url(#p21)" fill-opacity="0.2"/>
<use href="#r17_3" transform="matrix(13.8 0 -0.380 1 1539.7 0)" fill="url(#p21)" fill-opacity="0.2"/>
<use href="#r17_4" transform="matrix(13.8 0 -1.594 1 2838.0 0)" fill="url(#p21)" fill-opacity="0.17"/>
<use href="#r17_0" transform="matrix(25.4 0 1.453 1 -349.0 0)" fill="url(#p5)" fill-opacity="0.595"/>
<use href="#r17_1" transform="matrix(25.4 0 0.391 1 745.9 0)" fill="url(#p5)" fill-opacity="0.7"/>
<use href="#r17_2" transform="matrix(25.4 0 0 1 1153.2 0)" fill="url(#p5)" fill-opacity="0.7"/>
<use href="#r17_3" transform="matrix(25.4 0 -0.391 1 1567.2 0)" fill="url(#p5)" fill-opacity="0.7"/>
<use href="#r17_4" transform="matrix(25.4 0 -1.638 1 2901.9 0)" fill="url(#p5)" fill-opacity="0.595"/>
<use href="#r17_0" transform="matrix(10.8 0 1.453 1 -335.2 0)" fill="url(#p12)" fill-opacity="0.17"/>
<use href="#r17_1" transform="matrix(10.8 0 0.391 1 759.7 0)" fill="url(#p12)" fill-opacity="0.2"/>
<use href="#r17_2" transform="matrix(10.8 0 0 1 1167.0 0)" fill="url(#p12)" fill-opacity="0.2"/>
<use href="#r17_3" transform="matrix(10.8 0 -0.391 1 1581.0 0)" fill="url(#p12)" fill-opacity="0.2"/>
<use href="#r17_4" transform="matrix(10.8 0 -1.638 1 2915.7 0)" fill="url(#p12)" fill-opacity="0.17"/>
<use href="#r17_0" transform="matrix(25.4 0 1.453 1 -319.0 0)" fill="url(#p5)" fill-opacity="0.552"/>
<use href="#r17_1" transform="matrix(25.4 0 0.391 1 775.9 0)" fill="url(#p5)" fill-opacity="0.65"/>
<use href="#r17_2" transform="matrix(25.4 0 0 1 1183.2 0)" fill="url(#p5)" fill-opacity="0.65"/>
<use href="#r17_3" transform="matrix(25.4 0 -0.391 1 1597.2 0)" fill="url(#p5)" fill-opacity="0.65"/>
<use href="#r17_4" transform="matrix(25.4 0 -1.638 1 2931.9 0)" fill="url(#p5)" fill-opacity="0.552"/>
<use href="#r17_0" transform="matrix(26.4 0 1.453 1 -213.0 0)" fill="url(#p8)" fill-opacity="0.383"/>
<use href="#r17_1" transform="matrix(26.4 0 0.391 1 881.9 0)" fill="url(#p8)" fill-opacity="0.45"/>
<use href="#r17_2" transform="matrix(26.4 0 0 1 1289.2 0)" fill="url(#p8)" fill-opacity="0.45"/>
<use href="#r17_3" transform="matrix(26.4 0 -0.391 1 1703.2 0)" fill="url(#p8)" fill-opacity="0.45"/>
<use href="#r17_4" transform="matrix(26.4 0 -1.638 1 3037.9 0)" fill="url(#p8)" fill-opacity="0.383"/>
<use href="#r17_0" transform="matrix(11.8 0 1.453 1 -165.2 0)" fill="url(#p0)" fill-opacity="0.068"/>
<use href="#r17_1" transform="matrix(11.8 0 0.391 1 929.7 0)" fill="url(#p0)" fill-opacity="0.08"/>
<use href="#r17_2" transform="matrix(11.8 0 0 1 1337.0 0)" fill="url(#p0)" fill-opacity="0.08"/>
<use href="#r17_3" transform="matrix(11.8 0 -0.391 1 1751.0 0)" fill="url(#p0)" fill-opacity="0.08"/>
<use href="#r17_4" transform="matrix(11.8 0 -1.638 1 3085.7 0)" fill="url(#p0)" fill-opacity="0.068"/>
<use href="#r17_0" transform="matrix(11.8 0 1.453 1 -133.2 0)" fill="url(#p0)" fill-opacity="0.068"/>
<use href="#r17_1" transform="matrix(11.8 0 0.391 1 961.7 0)" fill="url(#p0)" fill-opacity="0.08"/>
<use href="#r17_2" transform="matrix(11.8 0 0 1 1369.0 0)" fill="url(#p0)" fill-opacity="0.08"/>
<use href="#r17_3" transform="matrix(11.8 0 -0.391 1 1783.0 0)" fill="url(#p0)" fill-opacity="0.08"/>
<use href="#r17_4" transform="matrix(11.8 0 -1.638 1 3117.7 0)" fill="url(#p0)" fill-opacity="0.068"/>
</g>
<rect x="819.0" y="1025.7" width="714.8" height="49.0" fill="url(#vs)"/>
<rect x="819.0" y="1031.7" width="2.2" height="43.0" fill="#000" fill-opacity="0.5"/>
<rect x="819.0" y="1081.3" width="714.8" height="48.7" fill="url(#g18)"/>
<g>
<use href="#r18_0" transform="matrix(29.4 0 0.491 1 501.2 0)" fill="url(#p11)" fill-opacity="0.595"/>
<use href="#r18_1" transform="matrix(29.4 0 0.117 1 907.6 0)" fill="url(#p11)" fill-opacity="0.7"/>
<use href="#r18_2" transform="matrix(29.4 0 0 1 1036.2 0)" fill="url(#p11)" fill-opacity="0.7"/>
<use href="#r18_3" transform="matrix(29.4 0 -0.117 1 1166.9 0)" fill="url(#p11)" fill-opacity="0.7"/>
<use href="#r18_4" transform="matrix(29.4 0 -0.462 1 1554.7 0)" fill="url(#p11)" fill-opacity="0.595"/>
<use href="#r18_0" transform="matrix(25.4 0 0.655 1 354.8 0)" fill="url(#p5)" fill-opacity="0.383"/>
<use href="#r18_1" transform="matrix(25.4 0 0.156 1 896.7 0)" fill="url(#p5)" fill-opacity="0.45"/>
<use href="#r18_2" transform="matrix(25.4 0 0 1 1068.2 0)" fill="url(#p5)" fill-opacity="0.45"/>
<use href="#r18_3" transform="matrix(25.4 0 -0.156 1 1242.4 0)" fill="url(#p5)" fill-opacity="0.45"/>
<use href="#r18_4" transform="matrix(25.4 0 -0.616 1 1759.5 0)" fill="url(#p5)" fill-opacity="0.383"/>
<use href="#r18_0" transform="matrix(23.6 0 0.953 1 50.9 0)" fill="url(#p3)" fill-opacity="0.383"/>
<use href="#r18_1" transform="matrix(23.6 0 0.227 1 839.1 0)" fill="url(#p3)" fill-opacity="0.45"/>
<use href="#r18_2" transform="matrix(23.6 0 0 1 1088.6 0)" fill="url(#p3)" fill-opacity="0.45"/>
<use href="#r18_3" transform="matrix(23.6 0 -0.227 1 1342.0 0)" fill="url(#p3)" fill-opacity="0.45"/>
<use href="#r18_4" transform="matrix(23.6 0 -0.896 1 2094.1 0)" fill="url(#p3)" fill-opacity="0.383"/>
<use href="#r18_0" transform="matrix(23.6 0 1.400 1 -405.5 0)" fill="url(#p3)" fill-opacity="0.255"/>
<use href="#r18_1" transform="matrix(23.6 0 0.334 1 752.2 0)" fill="url(#p3)" fill-opacity="0.3"/>
<use href="#r18_2" transform="matrix(23.6 0 0 1 1118.6 0)" fill="url(#p3)" fill-opacity="0.3"/>
<use href="#r18_3" transform="matrix(23.6 0 -0.334 1 1490.7 0)" fill="url(#p3)" fill-opacity="0.3"/>
<use href="#r18_4" transform="matrix(23.6 0 -1.316 1 2595.4 0)" fill="url(#p3)" fill-opacity="0.255"/>
<use href="#r18_0" transform="matrix(12.8 0 1.594 1 -597.9 0)" fill="url(#p17)" fill-opacity="0.17"/>
<use href="#r18_1" transform="matrix(12.8 0 0.380 1 719.9 0)" fill="url(#p17)" fill-opacity="0.2"/>
<use href="#r18_2" transform="matrix(12.8 0 0 1 1137.0 0)" fill="url(#p17)" fill-opacity="0.2"/>
<use href="#r18_3" transform="matrix(12.8 0 -0.380 1 1560.6 0)" fill="url(#p17)" fill-opacity="0.2"/>
<use href="#r18_4" transform="matrix(12.8 0 -1.498 1 2818.1 0)" fill="url(#p17)" fill-opacity="0.17"/>
<use href="#r18_0" transform="matrix(25.4 0 1.638 1 -628.3 0)" fill="url(#p5)" fill-opacity="0.468"/>
<use href="#r18_1" transform="matrix(25.4 0 0.391 1 726.4 0)" fill="url(#p5)" fill-opacity="0.55"/>
<use href="#r18_2" transform="matrix(25.4 0 0 1 1155.2 0)" fill="url(#p5)" fill-opacity="0.55"/>
<use href="#r18_3" transform="matrix(25.4 0 -0.391 1 1590.7 0)" fill="url(#p5)" fill-opacity="0.55"/>
<use href="#r18_4" transform="matrix(25.4 0 -1.540 1 2883.4 0)" fill="url(#p5)" fill-opacity="0.468"/>
<use href="#r18_0" transform="matrix(10.8 0 1.638 1 -614.5 0)" fill="url(#p12)" fill-opacity="0.128"/>
<use href="#r18_1" transform="matrix(10.8 0 0.391 1 740.2 0)" fill="url(#p12)" fill-opacity="0.15"/>
<use href="#r18_2" transform="matrix(10.8 0 0 1 1169.0 0)" fill="url(#p12)" fill-opacity="0.15"/>
<use href="#r18_3" transform="matrix(10.8 0 -0.391 1 1604.5 0)" fill="url(#p12)" fill-opacity="0.15"/>
<use href="#r18_4" transform="matrix(10.8 0 -1.540 1 2897.2 0)" fill="url(#p12)" fill-opacity="0.128"/>
<use href="#r18_0" transform="matrix(23.6 0 1.638 1 -598.9 0)" fill="url(#p3)" fill-opacity="0.468"/>
<use href="#r18_1" transform="matrix(23.6 0 0.391 1 755.8 0)" fill="url(#p3)" fill-opacity="0.55"/>
<use href="#r18_2" transform="matrix(23.6 0 0 1 1184.6 0)" fill="url(#p3)" fill-opacity="0.55"/>
<use href="#r18_3" transform="matrix(23.6 0 -0.391 1 1620.1 0)" fill="url(#p3)" fill-opacity="0.55"/>
<use href="#r18_4" transform="matrix(23.6 0 -1.540 1 2912.8 0)" fill="url(#p3)" fill-opacity="0.468"/>
<use href="#r18_0" transform="matrix(11.8 0 1.638 1 -531.5 0)" fill="url(#p0)" fill-opacity="0.068"/>
<use href="#r18_1" transform="matrix(11.8 0 0.391 1 823.2 0)" fill="url(#p0)" fill-opacity="0.08"/>
<use href="#r18_2" transform="matrix(11.8 0 0 1 1252.0 0)" fill="url(#p0)" fill-opacity="0.08"/>
<use href="#r18_3" transform="matrix(11.8 0 -0.391 1 1687.5 0)" fill="url(#p0)" fill-opacity="0.08"/>
<use href="#r18_4" transform="matrix(11.8 0 -1.540 1 2980.2 0)" fill="url(#p0)" fill-opacity="0.068"/>
<use href="#r18_0" transform="matrix(13.8 0 1.638 1 -484.5 0)" fill="url(#p21)" fill-opacity="0.128"/>
<use href="#r18_1" transform="matrix(13.8 0 0.391 1 870.2 0)" fill="url(#p21)" fill-opacity="0.15"/>
<use href="#r18_2" transform="matrix(13.8 0 0 1 1299.0 0)" fill="url(#p21)" fill-opacity="0.15"/>
<use href="#r18_3" transform="matrix(13.8 0 -0.391 1 1734.5 0)" fill="url(#p21)" fill-opacity="0.15"/>
<use href="#r18_4" transform="matrix(13.8 0 -1.540 1 3027.2 0)" fill="url(#p21)" fill-opacity="0.128"/>
</g>
<rect x="819.0" y="1081.3" width="714.8" height="48.7" fill="url(#vs)"/>
<rect x="1020" y="1102" width="310" height="10" rx="5" fill="url(#hs)" fill-opacity="0.14"/>
<rect x="819.0" y="1136" width="714.8" height="48.8" fill="url(#g19)"/>
<g>
<use href="#r19_0" transform="matrix(30.4 0 0.462 1 507.8 0)" fill="url(#p15)" fill-opacity="0.595"/>
<use href="#r19_1" transform="matrix(30.4 0 0.117 1 901.1 0)" fill="url(#p15)" fill-opacity="0.7"/>
<use href="#r19_2" transform="matrix(30.4 0 0 1 1036.2 0)" fill="url(#p15)" fill-opacity="0.7"/>
<use href="#r19_3" transform="matrix(30.4 0 -0.117 1 1173.3 0)" fill="url(#p15)" fill-opacity="0.7"/>
<use href="#r19_4" transform="matrix(30.4 0 -0.481 1 1602.8 0)" fill="url(#p15)" fill-opacity="0.595"/>
<use href="#r19_0" transform="matrix(23.6 0 0.616 1 364.0 0)" fill="url(#p3)" fill-opacity="0.383"/>
<use href="#r19_1" transform="matrix(23.6 0 0.156 1 888.5 0)" fill="url(#p3)" fill-opacity="0.45"/>
<use href="#r19_2" transform="matrix(23.6 0 0 1 1068.6 0)" fill="url(#p3)" fill-opacity="0.45"/>
<use href="#r19_3" transform="matrix(23.6 0 -0.156 1 1251.4 0)" fill="url(#p3)" fill-opacity="0.45"/>
<use href="#r19_4" transform="matrix(23.6 0 -0.642 1 1824.1 0)" fill="url(#p3)" fill-opacity="0.383"/>
<use href="#r19_0" transform="matrix(23.6 0 0.924 1 33.7 0)" fill="url(#p3)" fill-opacity="0.425"/>
<use href="#r19_1" transform="matrix(23.6 0 0.235 1 820.4 0)" fill="url(#p3)" fill-opacity="0.5"/>
<use href="#r19_2" transform="matrix(23.6 0 0 1 1090.6 0)" fill="url(#p3)" fill-opacity="0.5"/>
<use href="#r19_3" transform="matrix(23.6 0 -0.235 1 1364.8 0)" fill="url(#p3)" fill-opacity="0.5"/>
<use href="#r19_4" transform="matrix(23.6 0 -0.963 1 2223.8 0)" fill="url(#p3)" fill-opacity="0.425"/>
<use href="#r19_0" transform="matrix(23.6 0 1.540 1 -605.8 0)" fill="url(#p3)" fill-opacity="0.468"/>
<use href="#r19_1" transform="matrix(23.6 0 0.391 1 705.3 0)" fill="url(#p3)" fill-opacity="0.55"/>
<use href="#r19_2" transform="matrix(23.6 0 0 1 1155.6 0)" fill="url(#p3)" fill-opacity="0.55"/>
<use href="#r19_3" transform="matrix(23.6 0 -0.391 1 1612.6 0)" fill="url(#p3)" fill-opacity="0.55"/>
<use href="#r19_4" transform="matrix(23.6 0 -1.604 1 3044.2 0)" fill="url(#p3)" fill-opacity="0.468"/>
<use href="#r19_0" transform="matrix(10.8 0 1.540 1 -592.4 0)" fill="url(#p12)" fill-opacity="0.212"/>
<use href="#r19_1" transform="matrix(10.8 0 0.391 1 718.7 0)" fill="url(#p12)" fill-opacity="0.25"/>
<use href="#r19_2" transform="matrix(10.8 0 0 1 1169.0 0)" fill="url(#p12)" fill-opacity="0.25"/>
<use href="#r19_3" transform="matrix(10.8 0 -0.391 1 1626.0 0)" fill="url(#p12)" fill-opacity="0.25"/>
<use href="#r19_4" transform="matrix(10.8 0 -1.604 1 3057.6 0)" fill="url(#p12)" fill-opacity="0.212"/>
<use href="#r19_0" transform="matrix(23.6 0 1.540 1 -575.8 0)" fill="url(#p3)" fill-opacity="0.425"/>
<use href="#r19_1" transform="matrix(23.6 0 0.391 1 735.3 0)" fill="url(#p3)" fill-opacity="0.5"/>
<use href="#r19_2" transform="matrix(23.6 0 0 1 1185.6 0)" fill="url(#p3)" fill-opacity="0.5"/>
<use href="#r19_3" transform="matrix(23.6 0 -0.391 1 1642.6 0)" fill="url(#p3)" fill-opacity="0.5"/>
<use href="#r19_4" transform="matrix(23.6 0 -1.604 1 3074.2 0)" fill="url(#p3)" fill-opacity="0.425"/>
<use href="#r19_0" transform="matrix(11.8 0 1.540 1 -522.4 0)" fill="url(#p0)" fill-opacity="0.085"/>
<use href="#r19_1" transform="matrix(11.8 0 0.391 1 788.7 0)" fill="url(#p0)" fill-opacity="0.1"/>
<use href="#r19_2" transform="matrix(11.8 0 0 1 1239.0 0)" fill="url(#p0)" fill-opacity="0.1"/>
<use href="#r19_3" transform="matrix(11.8 0 -0.391 1 1696.0 0)" fill="url(#p0)" fill-opacity="0.1"/>
<use href="#r19_4" transform="matrix(11.8 0 -1.604 1 3127.6 0)" fill="url(#p0)" fill-opacity="0.085"/>
<use href="#r19_0" transform="matrix(25.4 0 1.540 1 -471.2 0)" fill="url(#p5)" fill-opacity="0.297"/>
<use href="#r19_1" transform="matrix(25.4 0 0.391 1 839.9 0)" fill="url(#p5)" fill-opacity="0.35"/>
<use href="#r19_2" transform="matrix(25.4 0 0 1 1290.2 0)" fill="url(#p5)" fill-opacity="0.35"/>
<use href="#r19_3" transform="matrix(25.4 0 -0.391 1 1747.2 0)" fill="url(#p5)" fill-opacity="0.35"/>
<use href="#r19_4" transform="matrix(25.4 0 -1.604 1 3178.8 0)" fill="url(#p5)" fill-opacity="0.297"/>
<use href="#r19_0" transform="matrix(11.8 0 1.540 1 -397.4 0)" fill="url(#p0)" fill-opacity="0.051"/>
<use href="#r19_1" transform="matrix(11.8 0 0.391 1 913.7 0)" fill="url(#p0)" fill-opacity="0.06"/>
<use href="#r19_2" transform="matrix(11.8 0 0 1 1364.0 0)" fill="url(#p0)" fill-opacity="0.06"/>
<use href="#r19_3" transform="matrix(11.8 0 -0.391 1 1821.0 0)" fill="url(#p0)" fill-opacity="0.06"/>
<use href="#r19_4" transform="matrix(11.8 0 -1.604 1 3252.6 0)" fill="url(#p0)" fill-opacity="0.051"/>
</g>
<rect x="819.0" y="1136" width="714.8" height="48.8" fill="url(#vs)"/>
<rect x="1020" y="1156" width="310" height="10" rx="5" fill="url(#hs)" fill-opacity="0.16"/>
<rect x="819.0" y="1191.3" width="714.8" height="48.7" fill="url(#g20)"/>
<g>
<use href="#r20_0" transform="matrix(29.4 0 0.491 1 447.1 0)" fill="url(#p11)" fill-opacity="0.595"/>
<use href="#r20_1" transform="matrix(29.4 0 0.117 1 894.7 0)" fill="url(#p11)" fill-opacity="0.7"/>
<use href="#r20_2" transform="matrix(29.4 0 0 1 1036.2 0)" fill="url(#p11)" fill-opacity="0.7"/>
<use href="#r20_3" transform="matrix(29.4 0 -0.117 1 1179.8 0)" fill="url(#p11)" fill-opacity="0.7"/>
<use href="#r20_4" transform="matrix(29.4 0 -0.462 1 1605.5 0)" fill="url(#p11)" fill-opacity="0.595"/>
<use href="#r20_0" transform="matrix(25.4 0 0.655 1 282.7 0)" fill="url(#p5)" fill-opacity="0.383"/>
<use href="#r20_1" transform="matrix(25.4 0 0.156 1 879.5 0)" fill="url(#p5)" fill-opacity="0.45"/>
<use href="#r20_2" transform="matrix(25.4 0 0 1 1068.2 0)" fill="url(#p5)" fill-opacity="0.45"/>
<use href="#r20_3" transform="matrix(25.4 0 -0.156 1 1259.6 0)" fill="url(#p5)" fill-opacity="0.45"/>
<use href="#r20_4" transform="matrix(25.4 0 -0.616 1 1827.2 0)" fill="url(#p5)" fill-opacity="0.383"/>
<use href="#r20_0" transform="matrix(28.4 0 0.938 1 -37.5 0)" fill="url(#p18)" fill-opacity="0.297"/>
<use href="#r20_1" transform="matrix(28.4 0 0.224 1 817.0 0)" fill="url(#p18)" fill-opacity="0.35"/>
<use href="#r20_2" transform="matrix(28.4 0 0 1 1087.2 0)" fill="url(#p18)" fill-opacity="0.35"/>
<use href="#r20_3" transform="matrix(28.4 0 -0.224 1 1361.2 0)" fill="url(#p18)" fill-opacity="0.35"/>
<use href="#r20_4" transform="matrix(28.4 0 -0.882 1 2174.0 0)" fill="url(#p18)" fill-opacity="0.297"/>
<use href="#r20_0" transform="matrix(11.8 0 1.400 1 -554.1 0)" fill="url(#p0)" fill-opacity="0.085"/>
<use href="#r20_1" transform="matrix(11.8 0 0.334 1 720.8 0)" fill="url(#p0)" fill-opacity="0.1"/>
<use href="#r20_2" transform="matrix(11.8 0 0 1 1124.0 0)" fill="url(#p0)" fill-opacity="0.1"/>
<use href="#r20_3" transform="matrix(11.8 0 -0.334 1 1532.9 0)" fill="url(#p0)" fill-opacity="0.1"/>
<use href="#r20_4" transform="matrix(11.8 0 -1.316 1 2745.6 0)" fill="url(#p0)" fill-opacity="0.085"/>
<use href="#r20_0" transform="matrix(11.8 0 1.594 1 -773.1 0)" fill="url(#p0)" fill-opacity="0.085"/>
<use href="#r20_1" transform="matrix(11.8 0 0.380 1 678.0 0)" fill="url(#p0)" fill-opacity="0.1"/>
<use href="#r20_2" transform="matrix(11.8 0 0 1 1137.0 0)" fill="url(#p0)" fill-opacity="0.1"/>
<use href="#r20_3" transform="matrix(11.8 0 -0.380 1 1602.4 0)" fill="url(#p0)" fill-opacity="0.1"/>
<use href="#r20_4" transform="matrix(11.8 0 -1.498 1 2982.8 0)" fill="url(#p0)" fill-opacity="0.085"/>
<use href="#r20_0" transform="matrix(25.4 0 1.638 1 -807.5 0)" fill="url(#p5)" fill-opacity="0.425"/>
<use href="#r20_1" transform="matrix(25.4 0 0.391 1 684.4 0)" fill="url(#p5)" fill-opacity="0.5"/>
<use href="#r20_2" transform="matrix(25.4 0 0 1 1156.2 0)" fill="url(#p5)" fill-opacity="0.5"/>
<use href="#r20_3" transform="matrix(25.4 0 -0.391 1 1634.7 0)" fill="url(#p5)" fill-opacity="0.5"/>
<use href="#r20_4" transform="matrix(25.4 0 -1.540 1 3053.8 0)" fill="url(#p5)" fill-opacity="0.425"/>
<use href="#r20_0" transform="matrix(10.8 0 1.638 1 -794.7 0)" fill="url(#p12)" fill-opacity="0.128"/>
<use href="#r20_1" transform="matrix(10.8 0 0.391 1 697.2 0)" fill="url(#p12)" fill-opacity="0.15"/>
<use href="#r20_2" transform="matrix(10.8 0 0 1 1169.0 0)" fill="url(#p12)" fill-opacity="0.15"/>
<use href="#r20_3" transform="matrix(10.8 0 -0.391 1 1647.5 0)" fill="url(#p12)" fill-opacity="0.15"/>
<use href="#r20_4" transform="matrix(10.8 0 -1.540 1 3066.6 0)" fill="url(#p12)" fill-opacity="0.128"/>
<use href="#r20_0" transform="matrix(23.6 0 1.638 1 -778.1 0)" fill="url(#p3)" fill-opacity="0.383"/>
<use href="#r20_1" transform="matrix(23.6 0 0.391 1 713.8 0)" fill="url(#p3)" fill-opacity="0.45"/>
<use href="#r20_2" transform="matrix(23.6 0 0 1 1185.6 0)" fill="url(#p3)" fill-opacity="0.45"/>
<use href="#r20_3" transform="matrix(23.6 0 -0.391 1 1664.1 0)" fill="url(#p3)" fill-opacity="0.45"/>
<use href="#r20_4" transform="matrix(23.6 0 -1.540 1 3083.2 0)" fill="url(#p3)" fill-opacity="0.383"/>
<use href="#r20_0" transform="matrix(11.8 0 1.638 1 -716.7 0)" fill="url(#p0)" fill-opacity="0.068"/>
<use href="#r20_1" transform="matrix(11.8 0 0.391 1 775.2 0)" fill="url(#p0)" fill-opacity="0.08"/>
<use href="#r20_2" transform="matrix(11.8 0 0 1 1247.0 0)" fill="url(#p0)" fill-opacity="0.08"/>
<use href="#r20_3" transform="matrix(11.8 0 -0.391 1 1725.5 0)" fill="url(#p0)" fill-opacity="0.08"/>
<use href="#r20_4" transform="matrix(11.8 0 -1.540 1 3144.6 0)" fill="url(#p0)" fill-opacity="0.068"/>
<use href="#r20_0" transform="matrix(15.8 0 1.638 1 -665.7 0)" fill="url(#p22)" fill-opacity="0.212"/>
<use href="#r20_1" transform="matrix(15.8 0 0.391 1 826.2 0)" fill="url(#p22)" fill-opacity="0.25"/>
<use href="#r20_2" transform="matrix(15.8 0 0 1 1298.0 0)" fill="url(#p22)" fill-opacity="0.25"/>
<use href="#r20_3" transform="matrix(15.8 0 -0.391 1 1776.5 0)" fill="url(#p22)" fill-opacity="0.25"/>
<use href="#r20_4" transform="matrix(15.8 0 -1.540 1 3195.6 0)" fill="url(#p22)" fill-opacity="0.212"/>
</g>
<rect x="819.0" y="1191.3" width="714.8" height="48.7" fill="url(#vs)"/>
<rect x="1020" y="1212" width="310" height="10" rx="5" fill="url(#hs)" fill-opacity="0.14"/>
<rect x="819.0" y="1246.1" width="714.8" height="48.6" fill="url(#g21)"/>
<g>
<use href="#r21_0" transform="matrix(31.4 0 0.471 1 443.2 0)" fill="url(#p20)" fill-opacity="0.68"/>
<use href="#r21_1" transform="matrix(31.4 0 0.117 1 886.2 0)" fill="url(#p20)" fill-opacity="0.8"/>
<use href="#r21_2" transform="matrix(31.4 0 0 1 1034.2 0)" fill="url(#p20)" fill-opacity="0.8"/>
<use href="#r21_3" transform="matrix(31.4 0 -0.117 1 1184.2 0)" fill="url(#p20)" fill-opacity="0.8"/>
<use href="#r21_4" transform="matrix(31.4 0 -0.491 1 1666.9 0)" fill="url(#p20)" fill-opacity="0.68"/>
<use href="#r21_0" transform="matrix(35.6 0 0.914 1 -52.3 0)" fill="url(#p23)" fill-opacity="0.8"/>
<use href="#r21_1" transform="matrix(35.6 0 0.227 1 807.0 0)" fill="url(#p23)" fill-opacity="0.8"/>
<use href="#r21_2" transform="matrix(35.6 0 0 1 1094.0 0)" fill="url(#p23)" fill-opacity="0.8"/>
<use href="#r21_3" transform="matrix(35.6 0 -0.227 1 1384.9 0)" fill="url(#p23)" fill-opacity="0.8"/>
<use href="#r21_4" transform="matrix(35.6 0 -0.953 1 2321.1 0)" fill="url(#p23)" fill-opacity="0.8"/>
<use href="#r21_0" transform="matrix(30.4 0 1.571 1 -819.9 0)" fill="url(#p15)" fill-opacity="0.68"/>
<use href="#r21_1" transform="matrix(30.4 0 0.391 1 656.9 0)" fill="url(#p15)" fill-opacity="0.8"/>
<use href="#r21_2" transform="matrix(30.4 0 0 1 1150.2 0)" fill="url(#p15)" fill-opacity="0.8"/>
<use href="#r21_3" transform="matrix(30.4 0 -0.391 1 1650.2 0)" fill="url(#p15)" fill-opacity="0.8"/>
<use href="#r21_4" transform="matrix(30.4 0 -1.638 1 3259.3 0)" fill="url(#p15)" fill-opacity="0.68"/>
<use href="#r21_0" transform="matrix(23.6 0 1.571 1 -782.5 0)" fill="url(#p3)" fill-opacity="0.255"/>
<use href="#r21_1" transform="matrix(23.6 0 0.391 1 694.3 0)" fill="url(#p3)" fill-opacity="0.3"/>
<use href="#r21_2" transform="matrix(23.6 0 0 1 1187.6 0)" fill="url(#p3)" fill-opacity="0.3"/>
<use href="#r21_3" transform="matrix(23.6 0 -0.391 1 1687.6 0)" fill="url(#p3)" fill-opacity="0.3"/>
<use href="#r21_4" transform="matrix(23.6 0 -1.638 1 3296.7 0)" fill="url(#p3)" fill-opacity="0.255"/>
<use href="#r21_0" transform="matrix(11.8 0 1.571 1 -773.2 0)" fill="url(#p0)" fill-opacity="0.212"/>
<use href="#r21_1" transform="matrix(11.8 0 0.391 1 703.7 0)" fill="url(#p0)" fill-opacity="0.25"/>
<use href="#r21_2" transform="matrix(11.8 0 0 1 1197.0 0)" fill="url(#p0)" fill-opacity="0.25"/>
<use href="#r21_3" transform="matrix(11.8 0 -0.391 1 1697.0 0)" fill="url(#p0)" fill-opacity="0.25"/>
<use href="#r21_4" transform="matrix(11.8 0 -1.638 1 3306.1 0)" fill="url(#p0)" fill-opacity="0.212"/>
<use href="#r21_0" transform="matrix(11.8 0 1.571 1 -761.2 0)" fill="url(#p0)" fill-opacity="0.128"/>
<use href="#r21_1" transform="matrix(11.8 0 0.391 1 715.7 0)" fill="url(#p0)" fill-opacity="0.15"/>
<use href="#r21_2" transform="matrix(11.8 0 0 1 1209.0 0)" fill="url(#p0)" fill-opacity="0.15"/>
<use href="#r21_3" transform="matrix(11.8 0 -0.391 1 1709.0 0)" fill="url(#p0)" fill-opacity="0.15"/>
<use href="#r21_4" transform="matrix(11.8 0 -1.638 1 3318.1 0)" fill="url(#p0)" fill-opacity="0.128"/>
<use href="#r21_0" transform="matrix(27.4 0 1.571 1 -677.9 0)" fill="url(#p1)" fill-opacity="0.468"/>
<use href="#r21_1" transform="matrix(27.4 0 0.391 1 798.9 0)" fill="url(#p1)" fill-opacity="0.55"/>
<use href="#r21_2" transform="matrix(27.4 0 0 1 1292.2 0)" fill="url(#p1)" fill-opacity="0.55"/>
<use href="#r21_3" transform="matrix(27.4 0 -0.391 1 1792.2 0)" fill="url(#p1)" fill-opacity="0.55"/>
<use href="#r21_4" transform="matrix(27.4 0 -1.638 1 3401.3 0)" fill="url(#p1)" fill-opacity="0.468"/>
</g>
<rect x="819.0" y="1246.1" width="714.8" height="48.6" fill="url(#vs)"/>
<rect x="819.0" y="1301.2" width="714.8" height="49.1" fill="url(#g22)"/>
<g>
<use href="#r22_0" transform="matrix(30.4 0 0.481 1 402.4 0)" fill="url(#p15)" fill-opacity="0.722"/>
<use href="#r22_1" transform="matrix(30.4 0 0.117 1 877.8 0)" fill="url(#p15)" fill-opacity="0.85"/>
<use href="#r22_2" transform="matrix(30.4 0 0 1 1032.2 0)" fill="url(#p15)" fill-opacity="0.85"/>
<use href="#r22_3" transform="matrix(30.4 0 -0.117 1 1188.7 0)" fill="url(#p15)" fill-opacity="0.85"/>
<use href="#r22_4" transform="matrix(30.4 0 -0.436 1 1617.1 0)" fill="url(#p15)" fill-opacity="0.722"/>
<use href="#r22_0" transform="matrix(12.8 0 0.569 1 324.7 0)" fill="url(#p17)" fill-opacity="0.17"/>
<use href="#r22_1" transform="matrix(12.8 0 0.139 1 886.5 0)" fill="url(#p17)" fill-opacity="0.2"/>
<use href="#r22_2" transform="matrix(12.8 0 0 1 1069.0 0)" fill="url(#p17)" fill-opacity="0.2"/>
<use href="#r22_3" transform="matrix(12.8 0 -0.139 1 1253.9 0)" fill="url(#p17)" fill-opacity="0.2"/>
<use href="#r22_4" transform="matrix(12.8 0 -0.515 1 1760.3 0)" fill="url(#p17)" fill-opacity="0.17"/>
<use href="#r22_0" transform="matrix(25.4 0 1.006 1 -223.6 0)" fill="url(#p5)" fill-opacity="0.297"/>
<use href="#r22_1" transform="matrix(25.4 0 0.245 1 770.3 0)" fill="url(#p5)" fill-opacity="0.35"/>
<use href="#r22_2" transform="matrix(25.4 0 0 1 1093.2 0)" fill="url(#p5)" fill-opacity="0.35"/>
<use href="#r22_3" transform="matrix(25.4 0 -0.245 1 1420.3 0)" fill="url(#p5)" fill-opacity="0.35"/>
<use href="#r22_4" transform="matrix(25.4 0 -0.911 1 2316.2 0)" fill="url(#p5)" fill-opacity="0.297"/>
<use href="#r22_0" transform="matrix(25.4 0 1.269 1 -549.2 0)" fill="url(#p5)" fill-opacity="0.297"/>
<use href="#r22_1" transform="matrix(25.4 0 0.309 1 704.0 0)" fill="url(#p5)" fill-opacity="0.35"/>
<use href="#r22_2" transform="matrix(25.4 0 0 1 1111.2 0)" fill="url(#p5)" fill-opacity="0.35"/>
<use href="#r22_3" transform="matrix(25.4 0 -0.309 1 1523.6 0)" fill="url(#p5)" fill-opacity="0.35"/>
<use href="#r22_4" transform="matrix(25.4 0 -1.149 1 2653.3 0)" fill="url(#p5)" fill-opacity="0.297"/>
<use href="#r22_0" transform="matrix(25.4 0 1.517 1 -856.6 0)" fill="url(#p5)" fill-opacity="0.297"/>
<use href="#r22_1" transform="matrix(25.4 0 0.370 1 641.5 0)" fill="url(#p5)" fill-opacity="0.35"/>
<use href="#r22_2" transform="matrix(25.4 0 0 1 1128.2 0)" fill="url(#p5)" fill-opacity="0.35"/>
<use href="#r22_3" transform="matrix(25.4 0 -0.370 1 1621.2 0)" fill="url(#p5)" fill-opacity="0.35"/>
<use href="#r22_4" transform="matrix(25.4 0 -1.374 1 2971.6 0)" fill="url(#p5)" fill-opacity="0.297"/>
<use href="#r22_0" transform="matrix(29.4 0 1.604 1 -946.1 0)" fill="url(#p11)" fill-opacity="0.68"/>
<use href="#r22_1" transform="matrix(29.4 0 0.391 1 638.4 0)" fill="url(#p11)" fill-opacity="0.8"/>
<use href="#r22_2" transform="matrix(29.4 0 0 1 1153.2 0)" fill="url(#p11)" fill-opacity="0.8"/>
<use href="#r22_3" transform="matrix(29.4 0 -0.391 1 1674.7 0)" fill="url(#p11)" fill-opacity="0.8"/>
<use href="#r22_4" transform="matrix(29.4 0 -1.453 1 3103.0 0)" fill="url(#p11)" fill-opacity="0.68"/>
<use href="#r22_0" transform="matrix(12.8 0 1.604 1 -915.3 0)" fill="url(#p17)" fill-opacity="0.212"/>
<use href="#r22_1" transform="matrix(12.8 0 0.391 1 669.2 0)" fill="url(#p17)" fill-opacity="0.25"/>
<use href="#r22_2" transform="matrix(12.8 0 0 1 1184.0 0)" fill="url(#p17)" fill-opacity="0.25"/>
<use href="#r22_3" transform="matrix(12.8 0 -0.391 1 1705.5 0)" fill="url(#p17)" fill-opacity="0.25"/>
<use href="#r22_4" transform="matrix(12.8 0 -1.453 1 3133.8 0)" fill="url(#p17)" fill-opacity="0.212"/>
<use href="#r22_0" transform="matrix(25.4 0 1.604 1 -896.1 0)" fill="url(#p5)" fill-opacity="0.51"/>
<use href="#r22_1" transform="matrix(25.4 0 0.391 1 688.4 0)" fill="url(#p5)" fill-opacity="0.6"/>
<use href="#r22_2" transform="matrix(25.4 0 0 1 1203.2 0)" fill="url(#p5)" fill-opacity="0.6"/>
<use href="#r22_3" transform="matrix(25.4 0 -0.391 1 1724.7 0)" fill="url(#p5)" fill-opacity="0.6"/>
<use href="#r22_4" transform="matrix(25.4 0 -1.453 1 3153.0 0)" fill="url(#p5)" fill-opacity="0.51"/>
<use href="#r22_0" transform="matrix(27.4 0 1.604 1 -807.1 0)" fill="url(#p1)" fill-opacity="0.552"/>
<use href="#r22_1" transform="matrix(27.4 0 0.391 1 777.4 0)" fill="url(#p1)" fill-opacity="0.65"/>
<use href="#r22_2" transform="matrix(27.4 0 0 1 1292.2 0)" fill="url(#p1)" fill-opacity="0.65"/>
<use href="#r22_3" transform="matrix(27.4 0 -0.391 1 1813.7 0)" fill="url(#p1)" fill-opacity="0.65"/>
<use href="#r22_4" transform="matrix(27.4 0 -1.453 1 3242.0 0)" fill="url(#p1)" fill-opacity="0.552"/>
<use href="#r22_0" transform="matrix(11.8 0 1.604 1 -772.3 0)" fill="url(#p0)" fill-opacity="0.068"/>
<use href="#r22_1" transform="matrix(11.8 0 0.391 1 812.2 0)" fill="url(#p0)" fill-opacity="0.08"/>
<use href="#r22_2" transform="matrix(11.8 0 0 1 1327.0 0)" fill="url(#p0)" fill-opacity="0.08"/>
<use href="#r22_3" transform="matrix(11.8 0 -0.391 1 1848.5 0)" fill="url(#p0)" fill-opacity="0.08"/>
<use href="#r22_4" transform="matrix(11.8 0 -1.453 1 3276.8 0)" fill="url(#p0)" fill-opacity="0.068"/>
<use href="#r22_0" transform="matrix(13.8 0 1.604 1 -729.3 0)" fill="url(#p21)" fill-opacity="0.17"/>
<use href="#r22_1" transform="matrix(13.8 0 0.391 1 855.2 0)" fill="url(#p21)" fill-opacity="0.2"/>
<use href="#r22_2" transform="matrix(13.8 0 0 1 1370.0 0)" fill="url(#p21)" fill-opacity="0.2"/>
<use href="#r22_3" transform="matrix(13.8 0 -0.391 1 1891.5 0)" fill="url(#p21)" fill-opacity="0.2"/>
<use href="#r22_4" transform="matrix(13.8 0 -1.453 1 3319.8 0)" fill="url(#p21)" fill-opacity="0.17"/>
</g>
<rect x="819.0" y="1301.2" width="714.8" height="49.1" fill="url(#vs)"/>
<rect x="1030" y="1322" width="300" height="10" rx="5" fill="url(#hs)" fill-opacity="0.1"/>
<rect x="819.0" y="1356" width="714.8" height="48.8" fill="url(#g23)"/>
<g>
<use href="#r23_0" transform="matrix(29.4 0 0.462 1 402.1 0)" fill="url(#p11)" fill-opacity="0.68"/>
<use href="#r23_1" transform="matrix(29.4 0 0.117 1 871.3 0)" fill="url(#p11)" fill-opacity="0.8"/>
<use href="#r23_2" transform="matrix(29.4 0 0 1 1032.2 0)" fill="url(#p11)" fill-opacity="0.8"/>
<use href="#r23_3" transform="matrix(29.4 0 -0.117 1 1195.1 0)" fill="url(#p11)" fill-opacity="0.8"/>
<use href="#r23_4" transform="matrix(29.4 0 -0.481 1 1704.7 0)" fill="url(#p11)" fill-opacity="0.68"/>
<use href="#r23_0" transform="matrix(23.6 0 1.008 1 -278.1 0)" fill="url(#p3)" fill-opacity="0.255"/>
<use href="#r23_1" transform="matrix(23.6 0 0.256 1 745.6 0)" fill="url(#p3)" fill-opacity="0.3"/>
<use href="#r23_2" transform="matrix(23.6 0 0 1 1096.6 0)" fill="url(#p3)" fill-opacity="0.3"/>
<use href="#r23_3" transform="matrix(23.6 0 -0.256 1 1452.0 0)" fill="url(#p3)" fill-opacity="0.3"/>
<use href="#r23_4" transform="matrix(23.6 0 -1.050 1 2563.8 0)" fill="url(#p3)" fill-opacity="0.255"/>
<use href="#r23_0" transform="matrix(30.4 0 1.218 1 -549.9 0)" fill="url(#p15)" fill-opacity="0.51"/>
<use href="#r23_1" transform="matrix(30.4 0 0.309 1 687.0 0)" fill="url(#p15)" fill-opacity="0.6"/>
<use href="#r23_2" transform="matrix(30.4 0 0 1 1111.2 0)" fill="url(#p15)" fill-opacity="0.6"/>
<use href="#r23_3" transform="matrix(30.4 0 -0.309 1 1540.7 0)" fill="url(#p15)" fill-opacity="0.6"/>
<use href="#r23_4" transform="matrix(30.4 0 -1.269 1 2884.1 0)" fill="url(#p15)" fill-opacity="0.51"/>
<use href="#r23_0" transform="matrix(25.4 0 1.428 1 -821.3 0)" fill="url(#p5)" fill-opacity="0.51"/>
<use href="#r23_1" transform="matrix(25.4 0 0.362 1 628.9 0)" fill="url(#p5)" fill-opacity="0.6"/>
<use href="#r23_2" transform="matrix(25.4 0 0 1 1126.2 0)" fill="url(#p5)" fill-opacity="0.6"/>
<use href="#r23_3" transform="matrix(25.4 0 -0.362 1 1629.7 0)" fill="url(#p5)" fill-opacity="0.6"/>
<use href="#r23_4" transform="matrix(25.4 0 -1.488 1 3204.7 0)" fill="url(#p5)" fill-opacity="0.51"/>
<use href="#r23_0" transform="matrix(28.4 0 1.540 1 -948.0 0)" fill="url(#p18)" fill-opacity="0.68"/>
<use href="#r23_1" transform="matrix(28.4 0 0.391 1 615.9 0)" fill="url(#p18)" fill-opacity="0.8"/>
<use href="#r23_2" transform="matrix(28.4 0 0 1 1152.2 0)" fill="url(#p18)" fill-opacity="0.8"/>
<use href="#r23_3" transform="matrix(28.4 0 -0.391 1 1695.2 0)" fill="url(#p18)" fill-opacity="0.8"/>
<use href="#r23_4" transform="matrix(28.4 0 -1.604 1 3393.7 0)" fill="url(#p18)" fill-opacity="0.68"/>
<use href="#r23_0" transform="matrix(11.8 0 1.540 1 -911.2 0)" fill="url(#p0)" fill-opacity="0.17"/>
<use href="#r23_1" transform="matrix(11.8 0 0.391 1 652.7 0)" fill="url(#p0)" fill-opacity="0.2"/>
<use href="#r23_2" transform="matrix(11.8 0 0 1 1189.0 0)" fill="url(#p0)" fill-opacity="0.2"/>
<use href="#r23_3" transform="matrix(11.8 0 -0.391 1 1732.0 0)" fill="url(#p0)" fill-opacity="0.2"/>
<use href="#r23_4" transform="matrix(11.8 0 -1.604 1 3430.5 0)" fill="url(#p0)" fill-opacity="0.17"/>
<use href="#r23_0" transform="matrix(11.8 0 1.540 1 -904.2 0)" fill="url(#p0)" fill-opacity="0.128"/>
<use href="#r23_1" transform="matrix(11.8 0 0.391 1 659.7 0)" fill="url(#p0)" fill-opacity="0.15"/>
<use href="#r23_2" transform="matrix(11.8 0 0 1 1196.0 0)" fill="url(#p0)" fill-opacity="0.15"/>
<use href="#r23_3" transform="matrix(11.8 0 -0.391 1 1739.0 0)" fill="url(#p0)" fill-opacity="0.15"/>
<use href="#r23_4" transform="matrix(11.8 0 -1.604 1 3437.5 0)" fill="url(#p0)" fill-opacity="0.128"/>
<use href="#r23_0" transform="matrix(11.8 0 1.540 1 -888.2 0)" fill="url(#p0)" fill-opacity="0.128"/>
<use href="#r23_1" transform="matrix(11.8 0 0.391 1 675.7 0)" fill="url(#p0)" fill-opacity="0.15"/>
<use href="#r23_2" transform="matrix(11.8 0 0 1 1212.0 0)" fill="url(#p0)" fill-opacity="0.15"/>
<use href="#r23_3" transform="matrix(11.8 0 -0.391 1 1755.0 0)" fill="url(#p0)" fill-opacity="0.15"/>
<use href="#r23_4" transform="matrix(11.8 0 -1.604 1 3453.5 0)" fill="url(#p0)" fill-opacity="0.128"/>
<use href="#r23_0" transform="matrix(26.4 0 1.540 1 -807.0 0)" fill="url(#p8)" fill-opacity="0.552"/>
<use href="#r23_1" transform="matrix(26.4 0 0.391 1 756.9 0)" fill="url(#p8)" fill-opacity="0.65"/>
<use href="#r23_2" transform="matrix(26.4 0 0 1 1293.2 0)" fill="url(#p8)" fill-opacity="0.65"/>
<use href="#r23_3" transform="matrix(26.4 0 -0.391 1 1836.2 0)" fill="url(#p8)" fill-opacity="0.65"/>
<use href="#r23_4" transform="matrix(26.4 0 -1.604 1 3534.7 0)" fill="url(#p8)" fill-opacity="0.552"/>
<use href="#r23_0" transform="matrix(11.8 0 1.540 1 -773.2 0)" fill="url(#p0)" fill-opacity="0.068"/>
<use href="#r23_1" transform="matrix(11.8 0 0.391 1 790.7 0)" fill="url(#p0)" fill-opacity="0.08"/>
<use href="#r23_2" transform="matrix(11.8 0 0 1 1327.0 0)" fill="url(#p0)" fill-opacity="0.08"/>
<use href="#r23_3" transform="matrix(11.8 0 -0.391 1 1870.0 0)" fill="url(#p0)" fill-opacity="0.08"/>
<use href="#r23_4" transform="matrix(11.8 0 -1.604 1 3568.5 0)" fill="url(#p0)" fill-opacity="0.068"/>
<use href="#r23_0" transform="matrix(12.8 0 1.540 1 -729.2 0)" fill="url(#p17)" fill-opacity="0.128"/>
<use href="#r23_1" transform="matrix(12.8 0 0.391 1 834.7 0)" fill="url(#p17)" fill-opacity="0.15"/>
<use href="#r23_2" transform="matrix(12.8 0 0 1 1371.0 0)" fill="url(#p17)" fill-opacity="0.15"/>
<use href="#r23_3" transform="matrix(12.8 0 -0.391 1 1914.0 0)" fill="url(#p17)" fill-opacity="0.15"/>
<use href="#r23_4" transform="matrix(12.8 0 -1.604 1 3612.5 0)" fill="url(#p17)" fill-opacity="0.128"/>
</g>
<rect x="819.0" y="1356" width="714.8" height="48.8" fill="url(#vs)"/>
<rect x="1030" y="1376" width="300" height="10" rx="5" fill="url(#hs)" fill-opacity="0.14"/>
</g>
<g id="lane-labels">
<text transform="translate(1555.00 131.40) scale(1 1.042)" font-size="42.4">H14</text>
<circle cx="1668.1" cy="115.5" r="11.4" fill="#af8a9e"/>
<text transform="translate(1555.00 185.80) scale(1 1.042)" font-size="42.4">J14</text>
<circle cx="1667.8" cy="170.0" r="11.4" fill="#af8a9e"/>
<text transform="translate(1555.00 243.50) scale(1 1.042)" font-size="42.4">D14</text>
<circle cx="1668.1" cy="226.4" r="11.4" fill="#af8a9e"/>
<text transform="translate(1555.00 293.40) scale(1 1.042)" font-size="42.4">H18</text>
<circle cx="1667.1" cy="277.0" r="11.4" fill="#b4582b"/>
<text transform="translate(1555.00 352.20) scale(1 1.042)" font-size="42.4">J18</text>
<circle cx="1666.8" cy="335.1" r="11.4" fill="#b4582b"/>
<text transform="translate(1555.00 409.10) scale(1 1.042)" font-size="42.4">D18</text>
<circle cx="1667.4" cy="393.8" r="11.4" fill="#b4582b"/>
<text transform="translate(1555.00 461.00) scale(1 1.042)" font-size="42.4">G18</text>
<circle cx="1667.4" cy="446.0" r="11.4" fill="#d5a7ba"/>
<text transform="translate(1555.00 513.10) scale(1 1.042)" font-size="42.4">C18</text>
<circle cx="1667.1" cy="494.9" r="11.4" fill="#fe4c41"/>
<text transform="translate(1555.00 567.80) scale(1 1.042)" font-size="42.4">I18</text>
<circle cx="1667.5" cy="552.5" r="11.4" fill="#fe4c41"/>
<text transform="translate(1555.00 623.00) scale(1 1.042)" font-size="42.4">K14</text>
<circle cx="1667.5" cy="606.8" r="11.4" fill="#fea852"/>
<text transform="translate(1555.00 680.50) scale(1 1.042)" font-size="42.4">C14</text>
<circle cx="1667.1" cy="665.2" r="11.4" fill="#5a9d38"/>
<text transform="translate(1555.00 734.40) scale(1 1.042)" font-size="42.4">E14</text>
<circle cx="1666.4" cy="719.9" r="11.4" fill="#5a9d38"/>
<text transform="translate(1555.00 788.60) scale(1 1.042)" font-size="42.4">I14</text>
<circle cx="1666.8" cy="773.3" r="11.4" fill="#5a9d38"/>
<text transform="translate(1555.00 841.10) scale(1 1.042)" font-size="42.4">B14</text>
<circle cx="1666.1" cy="825.5" r="11.4" fill="#fea852"/>
<text transform="translate(1555.00 901.00) scale(1 1.042)" font-size="42.4">G14</text>
<circle cx="1666.4" cy="885.2" r="11.4" fill="#fea852"/>
<text transform="translate(1555.00 955.30) scale(1 1.042)" font-size="42.4">A18</text>
<circle cx="1666.4" cy="940.4" r="11.4" fill="#89b09f"/>
<text transform="translate(1555.00 1007.80) scale(1 1.042)" font-size="42.4">F18</text>
<circle cx="1666.4" cy="992.2" r="11.4" fill="#89b09f"/>
<text transform="translate(1555.00 1065.20) scale(1 1.042)" font-size="42.4">L18</text>
<circle cx="1666.4" cy="1049.3" r="11.4" fill="#89b09f"/>
<text transform="translate(1555.00 1121.00) scale(1 1.042)" font-size="42.4">L14</text>
<circle cx="1666.1" cy="1105.4" r="11.4" fill="#a4cbdf"/>
<text transform="translate(1555.00 1175.70) scale(1 1.042)" font-size="42.4">A14</text>
<circle cx="1666.4" cy="1159.7" r="11.4" fill="#a4cbdf"/>
<text transform="translate(1555.00 1233.80) scale(1 1.042)" font-size="42.4">F14</text>
<circle cx="1666.4" cy="1216.6" r="11.4" fill="#a4cbdf"/>
<text transform="translate(1555.00 1287.40) scale(1 1.042)" font-size="42.4">B18</text>
<circle cx="1665.9" cy="1271.6" r="11.4" fill="#d5a7ba"/>
<text transform="translate(1555.00 1340.80) scale(1 1.042)" font-size="42.4">K18</text>
<circle cx="1665.2" cy="1325.4" r="11.4" fill="#d5a7ba"/>
<text transform="translate(1555.00 1395.00) scale(1 1.042)" font-size="42.4">E18</text>
<circle cx="1665.2" cy="1379.7" r="11.4" fill="#fe4c41"/>
</g>
<!-- Panel B -->
<text transform="translate(4.20 1653.00) scale(1 1.042)" font-size="34.5" font-weight="bold" textLength="25.6" lengthAdjust="spacingAndGlyphs">B</text>
<g id="scatter">
<rect x="434" y="1631" width="808.4" height="766" fill="none" stroke="#7c7c7c" stroke-width="4"/>
<path d="M423 1707.50H434M423 1784.20H434M423 1860.90H434M423 1937.60H434M423 2014.30H434M423 2091.00H434M423 2167.70H434M423 2244.40H434M423 2321.10H434M423 2397.80H434M444.70 2397V2408M542.90 2397V2408M641.10 2397V2408M739.30 2397V2408M837.50 2397V2408M935.70 2397V2408M1033.90 2397V2408M1132.10 2397V2408M1230.30 2397V2408" stroke="#7c7c7c" stroke-width="3.6" fill="none"/>
<g fill="#2a2a2a" letter-spacing="2.6">
<text transform="translate(415.40 1718.00) scale(1 1.042)" font-size="23.6" text-anchor="end">0.16</text>
<text transform="translate(415.40 1794.70) scale(1 1.042)" font-size="23.6" text-anchor="end">0.12</text>
<text transform="translate(415.40 1871.40) scale(1 1.042)" font-size="23.6" text-anchor="end">0.08</text>
<text transform="translate(415.40 1948.10) scale(1 1.042)" font-size="23.6" text-anchor="end">0.04</text>
<text transform="translate(415.40 2024.80) scale(1 1.042)" font-size="23.6" text-anchor="end">0.00</text>
<text transform="translate(415.40 2101.50) scale(1 1.042)" font-size="23.6" text-anchor="end"><tspan font-size="33" dy="4" letter-spacing="-2.4">-</tspan><tspan dy="-4">0.04</tspan></text>
<text transform="translate(415.40 2178.20) scale(1 1.042)" font-size="23.6" text-anchor="end"><tspan font-size="33" dy="4" letter-spacing="-2.4">-</tspan><tspan dy="-4">0.08</tspan></text>
<text transform="translate(415.40 2254.90) scale(1 1.042)" font-size="23.6" text-anchor="end"><tspan font-size="33" dy="4" letter-spacing="-2.4">-</tspan><tspan dy="-4">0.12</tspan></text>
<text transform="translate(415.40 2331.60) scale(1 1.042)" font-size="23.6" text-anchor="end"><tspan font-size="33" dy="4" letter-spacing="-2.4">-</tspan><tspan dy="-4">0.16</tspan></text>
<text transform="translate(415.40 2408.30) scale(1 1.042)" font-size="23.6" text-anchor="end"><tspan font-size="33" dy="4" letter-spacing="-2.4">-</tspan><tspan dy="-4">0.20</tspan></text>
<text transform="translate(445.10 2433.00) scale(1 1.042)" font-size="23.6" text-anchor="middle"><tspan font-size="33" dy="4" letter-spacing="-2.4">-</tspan><tspan dy="-4">0.32</tspan></text>
<text transform="translate(543.30 2433.00) scale(1 1.042)" font-size="23.6" text-anchor="middle"><tspan font-size="33" dy="4" letter-spacing="-2.4">-</tspan><tspan dy="-4">0.24</tspan></text>
<text transform="translate(641.50 2433.00) scale(1 1.042)" font-size="23.6" text-anchor="middle"><tspan font-size="33" dy="4" letter-spacing="-2.4">-</tspan><tspan dy="-4">0.16</tspan></text>
<text transform="translate(739.70 2433.00) scale(1 1.042)" font-size="23.6" text-anchor="middle"><tspan font-size="33" dy="4" letter-spacing="-2.4">-</tspan><tspan dy="-4">0.08</tspan></text>
<text transform="translate(837.20 2433.00) scale(1 1.042)" font-size="23.6" text-anchor="middle">0.00</text>
<text transform="translate(935.40 2433.00) scale(1 1.042)" font-size="23.6" text-anchor="middle">0.08</text>
<text transform="translate(1033.60 2433.00) scale(1 1.042)" font-size="23.6" text-anchor="middle">0.16</text>
<text transform="translate(1131.80 2433.00) scale(1 1.042)" font-size="23.6" text-anchor="middle">0.24</text>
<text transform="translate(1230.00 2433.00) scale(1 1.042)" font-size="23.6" text-anchor="middle">0.32</text>
</g>
<circle cx="849" cy="1677.5" r="9.2" fill="#d5a7ba"/>
<circle cx="853.7" cy="1801" r="9.2" fill="#af8a9e"/>
<circle cx="860" cy="1816.3" r="9.2" fill="#af8a9e"/>
<circle cx="779" cy="1809" r="9.2" fill="#af8a9e"/>
<circle cx="620" cy="1834" r="9.2" fill="#d5a7ba"/>
<circle cx="928" cy="1904" r="9.2" fill="#b4582b"/>
<circle cx="1057.5" cy="1921" r="9.2" fill="#ea4a40"/>
<circle cx="832.5" cy="1937.5" r="9.2" fill="#b4582b"/>
<circle cx="1019" cy="1964" r="9.2" fill="#ea4a40"/>
<circle cx="575" cy="1990" r="9.2" fill="#a4cbdf"/>
<circle cx="637.5" cy="2002.5" r="9.2" fill="#a4cbdf"/>
<circle cx="499.3" cy="2053.4" r="9.2" fill="#6d8a7b"/>
<circle cx="771" cy="2065.3" r="9.2" fill="#b4582b"/>
<circle cx="1120.7" cy="2041.7" r="9.2" fill="#fea852"/>
<circle cx="1118.8" cy="2064" r="9.2" fill="#fea852"/>
<circle cx="482" cy="2113" r="9.2" fill="#6d8a7b"/>
<circle cx="546.3" cy="2110" r="9.2" fill="#a4cbdf"/>
<circle cx="471.5" cy="2133" r="9.2" fill="#6d8a7b"/>
<circle cx="1016.5" cy="2142.5" r="9.2" fill="#fea852"/>
<circle cx="1141.3" cy="2142.5" r="9.2" fill="#5a9d38"/>
<circle cx="1183.5" cy="2155" r="9.2" fill="#5a9d38"/>
<circle cx="1191" cy="2090.2" r="9.2" fill="#5a9d38"/>
<circle cx="865.5" cy="2223" r="9.2" fill="#ea4a40"/>
<circle cx="682" cy="2346" r="9.2" fill="#d5a7ba"/>
<g fill="#1414e0">
<text transform="translate(856.50 1690.00) scale(1 1.042)" font-size="23" x="0 15.3 32.3">G18</text>
<text transform="translate(807.20 1792.80) scale(1 1.042)" font-size="23" x="0 18.7 35.7">H14</text>
<text transform="translate(868.10 1829.00) scale(1 1.042)" font-size="23" x="0 17.8 34.8">J14</text>
<text transform="translate(785.70 1821.50) scale(1 1.042)" font-size="23" x="0 18.7 35.7">D14</text>
<text transform="translate(625.70 1847.50) scale(1 1.042)" font-size="23" x="0 16.6 33.6">B18</text>
<text transform="translate(934.70 1917.50) scale(1 1.042)" font-size="23" x="0 18.7 35.7">H18</text>
<text transform="translate(1064.30 1935.00) scale(1 1.042)" font-size="23" x="0 10.0 27.0">I18</text>
<text transform="translate(840.60 1951.50) scale(1 1.042)" font-size="23" x="0 17.8 34.8">J18</text>
<text transform="translate(1026.90 1977.50) scale(1 1.042)" font-size="23" x="0 15.3 32.3">C18</text>
<text transform="translate(583.50 2002.50) scale(1 1.042)" font-size="23" x="0 15.9 32.9">A14</text>
<text transform="translate(644.20 2015.00) scale(1 1.042)" font-size="23" x="0 18.2 35.2">F14</text>
<text transform="translate(506.50 2066.80) scale(1 1.042)" font-size="23" x="0 18.2 35.2">F18</text>
<text transform="translate(777.20 2079.00) scale(1 1.042)" font-size="23" x="0 18.7 35.7">D18</text>
<text transform="translate(1128.00 2054.00) scale(1 1.042)" font-size="23" x="0 15.3 32.3">G14</text>
<text transform="translate(1127.20 2076.50) scale(1 1.042)" font-size="23" x="0 16.6 33.6">B14</text>
<text transform="translate(489.80 2125.00) scale(1 1.042)" font-size="23" x="0 17.7 34.7">L18</text>
<text transform="translate(554.30 2122.00) scale(1 1.042)" font-size="23" x="0 17.7 34.7">L14</text>
<text transform="translate(480.00 2145.00) scale(1 1.042)" font-size="23" x="0 15.9 32.9">A18</text>
<text transform="translate(1024.20 2156.00) scale(1 1.042)" font-size="23" x="0 16.6 33.6">K14</text>
<text transform="translate(1088.20 2150.00) scale(1 1.042)" font-size="23" x="0 16.6 33.6">E14</text>
<text transform="translate(1139.90 2177.60) scale(1 1.042)" font-size="23" x="0 15.3 32.3">C14</text>
<text transform="translate(1195.80 2102.30) scale(1 1.042)" font-size="23" x="0 10.0 27.0">I14</text>
<text transform="translate(872.20 2236.50) scale(1 1.042)" font-size="23" x="0 16.6 33.6">E18</text>
<text transform="translate(688.20 2360.30) scale(1 1.042)" font-size="23" x="0 16.6 33.6">K18</text>
</g>
<text transform="translate(734.20 2497.20) scale(1 1.042)" font-size="34.65">Coordinate 1</text>
<text transform="translate(310.70 2121.40) rotate(-90) scale(1 1.042)" font-size="35.9">Coordinate 2</text>
<g font-family="'DejaVu Sans', 'Liberation Sans', sans-serif" font-size="29" letter-spacing="0.7" fill="#444">
<circle cx="1297.8" cy="1825.20" r="11.5" fill="#a4cbdf"/>
<text x="1326.5" y="1836.60">CON_day14</text>
<circle cx="1297.8" cy="1871.68" r="11.5" fill="#89b09f"/>
<text x="1326.5" y="1883.08">CON_day18</text>
<circle cx="1297.8" cy="1918.16" r="11.5" fill="#5a9d38"/>
<text x="1326.5" y="1929.56">HD_day14</text>
<circle cx="1297.8" cy="1964.64" r="11.5" fill="#fe4c41"/>
<text x="1326.5" y="1976.04">HD_day18</text>
<circle cx="1297.8" cy="2011.12" r="11.5" fill="#fea852"/>
<text x="1326.5" y="2022.52">LD_day14</text>
<circle cx="1297.8" cy="2057.60" r="11.5" fill="#d5a7ba"/>
<text x="1326.5" y="2069.00">LD_day18</text>
<circle cx="1297.8" cy="2104.08" r="11.5" fill="#af8a9e"/>
<text x="1326.5" y="2115.48">MON_day14</text>
<circle cx="1297.8" cy="2150.56" r="11.5" fill="#b4582b"/>
<text x="1326.5" y="2161.96">MON_day18</text>
</g>
</g>
</svg>
</body>
</html>
